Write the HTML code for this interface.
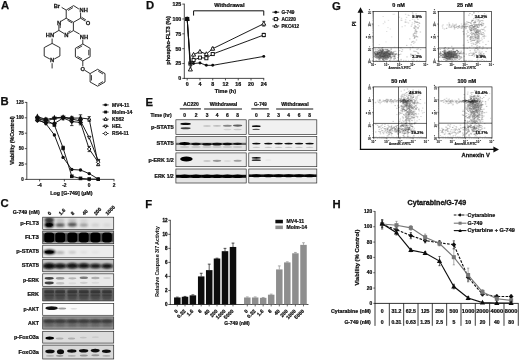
<!DOCTYPE html>
<html><head><meta charset="utf-8"><title>Figure</title>
<style>
html,body{margin:0;padding:0;background:#fff;}
body{width:520px;height:362px;overflow:hidden;font-family:"Liberation Sans",sans-serif;}
svg{display:block;}
svg text{font-family:"Liberation Sans",sans-serif;}
</style></head><body>
<svg width="520" height="362" viewBox="0 0 520 362">
<defs>
<filter id="b1" x="-20%" y="-50%" width="140%" height="200%"><feGaussianBlur stdDeviation="0.7"/></filter>
<filter id="b2" x="-20%" y="-50%" width="140%" height="200%"><feGaussianBlur stdDeviation="1.1"/></filter>
<filter id="b0" x="-20%" y="-50%" width="140%" height="200%"><feGaussianBlur stdDeviation="0.4"/></filter>
<filter id="soft"><feGaussianBlur stdDeviation="0.28"/></filter>
</defs>
<rect width="520" height="362" fill="#fff"/>
<g filter="url(#soft)">
<text x="0.9" y="9.1" font-size="11.3" text-anchor="start" font-weight="bold" fill="#111" stroke="#111" stroke-width="0.250" >A</text>
<text x="0.5" y="105.4" font-size="11.3" text-anchor="start" font-weight="bold" fill="#111" stroke="#111" stroke-width="0.250" >B</text>
<text x="0.6" y="207.3" font-size="11.3" text-anchor="start" font-weight="bold" fill="#111" stroke="#111" stroke-width="0.250" >C</text>
<text x="146.0" y="9.4" font-size="11.3" text-anchor="start" font-weight="bold" fill="#111" stroke="#111" stroke-width="0.250" >D</text>
<text x="145.4" y="105.7" font-size="11.3" text-anchor="start" font-weight="bold" fill="#111" stroke="#111" stroke-width="0.250" >E</text>
<text x="145.2" y="207.85" font-size="11.3" text-anchor="start" font-weight="bold" fill="#111" stroke="#111" stroke-width="0.250" >F</text>
<text x="332.0" y="9.6" font-size="11.3" text-anchor="start" font-weight="bold" fill="#111" stroke="#111" stroke-width="0.250" >G</text>
<text x="332.5" y="208" font-size="11.3" text-anchor="start" font-weight="bold" fill="#111" stroke="#111" stroke-width="0.250" >H</text>
<line x1="66.20" y1="10.10" x2="73.60" y2="5.60" stroke="#1a1a1a" stroke-width="0.9" />
<line x1="73.60" y1="5.60" x2="78.85" y2="8.97" stroke="#1a1a1a" stroke-width="0.9" />
<line x1="80.60" y1="12.53" x2="80.60" y2="18.20" stroke="#1a1a1a" stroke-width="0.9" />
<line x1="80.60" y1="18.20" x2="73.40" y2="22.30" stroke="#1a1a1a" stroke-width="0.9" />
<line x1="73.40" y1="22.30" x2="66.20" y2="18.20" stroke="#1a1a1a" stroke-width="0.9" />
<line x1="66.20" y1="18.20" x2="66.20" y2="10.10" stroke="#1a1a1a" stroke-width="0.9" />
<line x1="68.18" y1="10.47" x2="72.92" y2="7.59" stroke="#1a1a1a" stroke-width="0.85" />
<line x1="72.10" y1="22.91" x2="67.50" y2="20.29" stroke="#1a1a1a" stroke-width="0.85" />
<line x1="66.20" y1="18.20" x2="60.94" y2="21.30" stroke="#1a1a1a" stroke-width="0.9" />
<line x1="58.90" y1="24.87" x2="58.90" y2="30.40" stroke="#1a1a1a" stroke-width="0.9" />
<line x1="58.90" y1="30.40" x2="64.01" y2="33.48" stroke="#1a1a1a" stroke-width="0.9" />
<line x1="68.36" y1="33.54" x2="73.40" y2="30.60" stroke="#1a1a1a" stroke-width="0.9" />
<line x1="73.40" y1="30.60" x2="73.40" y2="22.30" stroke="#1a1a1a" stroke-width="0.9" />
<line x1="60.20" y1="24.88" x2="60.20" y2="28.04" stroke="#1a1a1a" stroke-width="0.85" />
<line x1="67.68" y1="32.43" x2="70.56" y2="30.75" stroke="#1a1a1a" stroke-width="0.85" />
<line x1="80.60" y1="18.20" x2="85.29" y2="21.07" stroke="#1a1a1a" stroke-width="0.9" />
<line x1="81.50" y1="17.20" x2="86.10" y2="20.10" stroke="#1a1a1a" stroke-width="0.85" />
<line x1="66.20" y1="10.10" x2="61.64" y2="7.38" stroke="#1a1a1a" stroke-width="0.9" />
<text x="53.7" y="8.1" font-size="5.8" text-anchor="start" font-weight="bold" fill="#1a1a1a" stroke="#1a1a1a" stroke-width="0.261" >Br</text>
<text x="79.6" y="12.1" font-size="5.8" text-anchor="start" font-weight="bold" fill="#1a1a1a" stroke="#1a1a1a" stroke-width="0.261" >NH</text>
<text x="85.8" y="24.6" font-size="5.8" text-anchor="start" font-weight="bold" fill="#1a1a1a" stroke="#1a1a1a" stroke-width="0.261" >O</text>
<text x="56.9" y="24.8" font-size="5.8" text-anchor="start" font-weight="bold" fill="#1a1a1a" stroke="#1a1a1a" stroke-width="0.261" >N</text>
<text x="64.2" y="37.2" font-size="5.8" text-anchor="start" font-weight="bold" fill="#1a1a1a" stroke="#1a1a1a" stroke-width="0.261" >N</text>
<text x="45.8" y="37.3" font-size="5.8" text-anchor="start" font-weight="bold" fill="#1a1a1a" stroke="#1a1a1a" stroke-width="0.261" >HN</text>
<text x="79.8" y="38.6" font-size="5.8" text-anchor="start" font-weight="bold" fill="#1a1a1a" stroke="#1a1a1a" stroke-width="0.261" >NH</text>
<line x1="58.90" y1="30.40" x2="53.46" y2="33.63" stroke="#1a1a1a" stroke-width="0.9" />
<line x1="73.40" y1="30.60" x2="79.65" y2="34.12" stroke="#1a1a1a" stroke-width="0.9" />
<line x1="52.10" y1="38.60" x2="52.10" y2="43.40" stroke="#1a1a1a" stroke-width="0.9" />
<line x1="52.10" y1="43.40" x2="59.90" y2="47.60" stroke="#1a1a1a" stroke-width="0.9" />
<line x1="59.90" y1="47.60" x2="59.90" y2="56.00" stroke="#1a1a1a" stroke-width="0.9" />
<line x1="59.90" y1="56.00" x2="54.28" y2="59.02" stroke="#1a1a1a" stroke-width="0.9" />
<line x1="49.89" y1="59.02" x2="44.20" y2="56.00" stroke="#1a1a1a" stroke-width="0.9" />
<line x1="44.20" y1="56.00" x2="44.20" y2="47.60" stroke="#1a1a1a" stroke-width="0.9" />
<line x1="44.20" y1="47.60" x2="52.10" y2="43.40" stroke="#1a1a1a" stroke-width="0.9" />
<text x="50.1" y="62.3" font-size="5.8" text-anchor="start" font-weight="bold" fill="#1a1a1a" stroke="#1a1a1a" stroke-width="0.261" >N</text>
<line x1="52.10" y1="63.20" x2="52.10" y2="68.40" stroke="#1a1a1a" stroke-width="0.9" />
<line x1="82.80" y1="39.60" x2="82.80" y2="44.00" stroke="#1a1a1a" stroke-width="0.9" />
<line x1="82.80" y1="44.00" x2="90.10" y2="48.30" stroke="#1a1a1a" stroke-width="0.9" />
<line x1="90.10" y1="48.30" x2="90.10" y2="56.80" stroke="#1a1a1a" stroke-width="0.9" />
<line x1="90.10" y1="56.80" x2="82.80" y2="60.90" stroke="#1a1a1a" stroke-width="0.9" />
<line x1="82.80" y1="60.90" x2="75.40" y2="56.80" stroke="#1a1a1a" stroke-width="0.9" />
<line x1="75.40" y1="56.80" x2="75.40" y2="48.30" stroke="#1a1a1a" stroke-width="0.9" />
<line x1="75.40" y1="48.30" x2="82.80" y2="44.00" stroke="#1a1a1a" stroke-width="0.9" />
<line x1="88.75" y1="49.82" x2="88.75" y2="55.26" stroke="#1a1a1a" stroke-width="0.85" />
<line x1="82.15" y1="59.00" x2="77.41" y2="56.37" stroke="#1a1a1a" stroke-width="0.85" />
<line x1="77.41" y1="48.69" x2="82.15" y2="45.94" stroke="#1a1a1a" stroke-width="0.85" />
<line x1="82.80" y1="60.90" x2="82.80" y2="66.20" stroke="#1a1a1a" stroke-width="0.9" />
<text x="80.6" y="71.0" font-size="5.8" text-anchor="start" font-weight="bold" fill="#1a1a1a" stroke="#1a1a1a" stroke-width="0.261" >O</text>
<line x1="85.00" y1="70.40" x2="90.10" y2="73.60" stroke="#1a1a1a" stroke-width="0.9" />
<line x1="90.10" y1="73.60" x2="97.60" y2="69.30" stroke="#1a1a1a" stroke-width="0.9" />
<line x1="97.60" y1="69.30" x2="105.00" y2="73.60" stroke="#1a1a1a" stroke-width="0.9" />
<line x1="105.00" y1="73.60" x2="105.00" y2="82.00" stroke="#1a1a1a" stroke-width="0.9" />
<line x1="105.00" y1="82.00" x2="97.60" y2="86.20" stroke="#1a1a1a" stroke-width="0.9" />
<line x1="97.60" y1="86.20" x2="90.10" y2="82.00" stroke="#1a1a1a" stroke-width="0.9" />
<line x1="90.10" y1="82.00" x2="90.10" y2="73.60" stroke="#1a1a1a" stroke-width="0.9" />
<line x1="98.25" y1="71.24" x2="102.99" y2="73.99" stroke="#1a1a1a" stroke-width="0.85" />
<line x1="102.98" y1="81.59" x2="98.25" y2="84.28" stroke="#1a1a1a" stroke-width="0.85" />
<line x1="91.45" y1="80.49" x2="91.45" y2="75.11" stroke="#1a1a1a" stroke-width="0.85" />
<line x1="26.80" y1="102.00" x2="26.80" y2="179.80" stroke="#2a2a2a" stroke-width="0.85" />
<line x1="26.40" y1="179.40" x2="114.30" y2="179.40" stroke="#2a2a2a" stroke-width="0.85" />
<line x1="24.80" y1="179.40" x2="26.80" y2="179.40" stroke="#2a2a2a" stroke-width="0.8" />
<text x="23.8" y="181.0" font-size="4.5" text-anchor="end" font-weight="bold" fill="#111" stroke="#111" stroke-width="0.202" >0</text>
<line x1="24.80" y1="164.00" x2="26.80" y2="164.00" stroke="#2a2a2a" stroke-width="0.8" />
<text x="23.8" y="165.6" font-size="4.5" text-anchor="end" font-weight="bold" fill="#111" stroke="#111" stroke-width="0.202" >25</text>
<line x1="24.80" y1="148.60" x2="26.80" y2="148.60" stroke="#2a2a2a" stroke-width="0.8" />
<text x="23.8" y="150.2" font-size="4.5" text-anchor="end" font-weight="bold" fill="#111" stroke="#111" stroke-width="0.202" >50</text>
<line x1="24.80" y1="133.20" x2="26.80" y2="133.20" stroke="#2a2a2a" stroke-width="0.8" />
<text x="23.8" y="134.79999999999998" font-size="4.5" text-anchor="end" font-weight="bold" fill="#111" stroke="#111" stroke-width="0.202" >75</text>
<line x1="24.80" y1="117.80" x2="26.80" y2="117.80" stroke="#2a2a2a" stroke-width="0.8" />
<text x="23.8" y="119.4" font-size="4.5" text-anchor="end" font-weight="bold" fill="#111" stroke="#111" stroke-width="0.202" >100</text>
<line x1="24.80" y1="102.40" x2="26.80" y2="102.40" stroke="#2a2a2a" stroke-width="0.8" />
<text x="23.8" y="104.0" font-size="4.5" text-anchor="end" font-weight="bold" fill="#111" stroke="#111" stroke-width="0.202" >125</text>
<line x1="39.60" y1="179.40" x2="39.60" y2="181.40" stroke="#2a2a2a" stroke-width="0.8" />
<text x="39.6" y="187.3" font-size="4.8" text-anchor="middle" font-weight="bold" fill="#111" stroke="#111" stroke-width="0.216" >-4</text>
<line x1="64.40" y1="179.40" x2="64.40" y2="181.40" stroke="#2a2a2a" stroke-width="0.8" />
<text x="64.4" y="187.3" font-size="4.8" text-anchor="middle" font-weight="bold" fill="#111" stroke="#111" stroke-width="0.216" >-2</text>
<line x1="89.20" y1="179.40" x2="89.20" y2="181.40" stroke="#2a2a2a" stroke-width="0.8" />
<text x="89.2" y="187.3" font-size="4.8" text-anchor="middle" font-weight="bold" fill="#111" stroke="#111" stroke-width="0.216" >0</text>
<line x1="114.00" y1="179.40" x2="114.00" y2="181.40" stroke="#2a2a2a" stroke-width="0.8" />
<text x="114.0" y="187.3" font-size="4.8" text-anchor="middle" font-weight="bold" fill="#111" stroke="#111" stroke-width="0.216" >2</text>
<text x="71.4" y="194.9" font-size="5.3" text-anchor="middle" font-weight="bold" fill="#111" stroke="#111" stroke-width="0.238" >Log [G-749] (μM)</text>
<text x="13.9" y="140.5" font-size="5.3" text-anchor="middle" font-weight="bold" fill="#111" stroke="#111" stroke-width="0.238" transform="rotate(-90 13.9 140.5)" >Viability (%Control)</text>
<polyline points="37.40,116.50 45.90,119.50 54.40,117.80 63.10,117.20 71.80,118.20 80.50,118.00 89.20,119.00 98.20,164.50" stroke="#111" stroke-width="0.95" fill="none" />
<polyline points="37.40,118.50 45.90,121.00 54.40,118.50 63.10,117.50 71.80,119.00 80.50,121.00 89.20,137.50 98.20,160.60" stroke="#111" stroke-width="0.95" fill="none" />
<polyline points="37.40,120.50 45.90,122.50 54.40,123.50 63.10,118.00 71.80,121.50 80.50,122.50 89.20,149.00 98.20,162.20" stroke="#111" stroke-width="0.95" fill="none" />
<polyline points="37.40,119.10 45.90,123.70 54.40,135.00 63.10,157.40 71.80,169.50 80.50,170.00 89.20,173.60 98.20,179.00" stroke="#111" stroke-width="0.95" fill="none" />
<polyline points="37.40,118.30 45.90,119.60 54.40,125.00 63.10,148.00 71.80,176.30 80.50,178.40 89.20,179.00 98.20,179.20" stroke="#111" stroke-width="0.95" fill="none" />
<line x1="71.80" y1="116.40" x2="71.80" y2="125.60" stroke="#111" stroke-width="0.8" />
<line x1="70.10" y1="116.40" x2="73.50" y2="116.40" stroke="#111" stroke-width="0.8" />
<line x1="70.10" y1="125.60" x2="73.50" y2="125.60" stroke="#111" stroke-width="0.8" />
<line x1="80.50" y1="114.80" x2="80.50" y2="124.80" stroke="#111" stroke-width="0.8" />
<line x1="78.80" y1="114.80" x2="82.20" y2="114.80" stroke="#111" stroke-width="0.8" />
<line x1="78.80" y1="124.80" x2="82.20" y2="124.80" stroke="#111" stroke-width="0.8" />
<line x1="45.90" y1="118.10" x2="45.90" y2="122.90" stroke="#111" stroke-width="0.8" />
<line x1="44.40" y1="118.10" x2="47.40" y2="118.10" stroke="#111" stroke-width="0.8" />
<line x1="44.40" y1="122.90" x2="47.40" y2="122.90" stroke="#111" stroke-width="0.8" />
<line x1="54.40" y1="117.70" x2="54.40" y2="123.30" stroke="#111" stroke-width="0.8" />
<line x1="52.90" y1="117.70" x2="55.90" y2="117.70" stroke="#111" stroke-width="0.8" />
<line x1="52.90" y1="123.30" x2="55.90" y2="123.30" stroke="#111" stroke-width="0.8" />
<line x1="89.20" y1="116.60" x2="89.20" y2="121.40" stroke="#111" stroke-width="0.8" />
<line x1="87.60" y1="116.60" x2="90.80" y2="116.60" stroke="#111" stroke-width="0.8" />
<line x1="87.60" y1="121.40" x2="90.80" y2="121.40" stroke="#111" stroke-width="0.8" />
<line x1="89.20" y1="146.40" x2="89.20" y2="151.60" stroke="#111" stroke-width="0.8" />
<line x1="87.60" y1="146.40" x2="90.80" y2="146.40" stroke="#111" stroke-width="0.8" />
<line x1="87.60" y1="151.60" x2="90.80" y2="151.60" stroke="#111" stroke-width="0.8" />
<line x1="98.20" y1="160.60" x2="98.20" y2="165.40" stroke="#111" stroke-width="0.8" />
<line x1="96.70" y1="160.60" x2="99.70" y2="160.60" stroke="#111" stroke-width="0.8" />
<line x1="96.70" y1="165.40" x2="99.70" y2="165.40" stroke="#111" stroke-width="0.8" />
<line x1="63.10" y1="146.20" x2="63.10" y2="149.80" stroke="#111" stroke-width="0.8" />
<line x1="61.70" y1="146.20" x2="64.50" y2="146.20" stroke="#111" stroke-width="0.8" />
<line x1="61.70" y1="149.80" x2="64.50" y2="149.80" stroke="#111" stroke-width="0.8" />
<line x1="37.40" y1="116.60" x2="37.40" y2="121.40" stroke="#111" stroke-width="0.8" />
<line x1="35.90" y1="116.60" x2="38.90" y2="116.60" stroke="#111" stroke-width="0.8" />
<line x1="35.90" y1="121.40" x2="38.90" y2="121.40" stroke="#111" stroke-width="0.8" />
<line x1="63.10" y1="116.20" x2="63.10" y2="119.80" stroke="#111" stroke-width="0.8" />
<line x1="61.60" y1="116.20" x2="64.60" y2="116.20" stroke="#111" stroke-width="0.8" />
<line x1="61.60" y1="119.80" x2="64.60" y2="119.80" stroke="#111" stroke-width="0.8" />
<polygon points="37.40,114.76 38.99,117.66 35.80,117.66" fill="none" stroke="#111" stroke-width="1.15"/>
<polygon points="45.90,117.76 47.49,120.66 44.30,120.66" fill="none" stroke="#111" stroke-width="1.15"/>
<polygon points="54.40,116.06 55.99,118.96 52.80,118.96" fill="none" stroke="#111" stroke-width="1.15"/>
<polygon points="63.10,115.46 64.70,118.36 61.51,118.36" fill="none" stroke="#111" stroke-width="1.15"/>
<polygon points="71.80,116.46 73.39,119.36 70.20,119.36" fill="none" stroke="#111" stroke-width="1.15"/>
<polygon points="80.50,116.26 82.09,119.16 78.91,119.16" fill="none" stroke="#111" stroke-width="1.15"/>
<polygon points="89.20,117.20 90.85,120.20 87.55,120.20" fill="#fff" stroke="#111" stroke-width="1.0"/>
<polygon points="98.20,162.70 99.85,165.70 96.55,165.70" fill="#fff" stroke="#111" stroke-width="1.0"/>
<polygon points="37.40,120.24 38.99,117.34 35.80,117.34" fill="none" stroke="#111" stroke-width="1.15"/>
<polygon points="45.90,122.74 47.49,119.84 44.30,119.84" fill="none" stroke="#111" stroke-width="1.15"/>
<polygon points="54.40,120.24 55.99,117.34 52.80,117.34" fill="none" stroke="#111" stroke-width="1.15"/>
<polygon points="63.10,119.24 64.70,116.34 61.51,116.34" fill="none" stroke="#111" stroke-width="1.15"/>
<polygon points="71.80,120.74 73.39,117.84 70.20,117.84" fill="none" stroke="#111" stroke-width="1.15"/>
<polygon points="80.50,122.74 82.09,119.84 78.91,119.84" fill="none" stroke="#111" stroke-width="1.15"/>
<polygon points="89.20,139.30 90.85,136.30 87.55,136.30" fill="#fff" stroke="#111" stroke-width="1.0"/>
<polygon points="98.20,162.40 99.85,159.40 96.55,159.40" fill="#fff" stroke="#111" stroke-width="1.0"/>
<polygon points="37.40,118.76 39.14,120.50 37.40,122.24 35.66,120.50" fill="none" stroke="#111" stroke-width="1.15"/>
<polygon points="45.90,120.76 47.64,122.50 45.90,124.24 44.16,122.50" fill="none" stroke="#111" stroke-width="1.15"/>
<polygon points="54.40,121.76 56.14,123.50 54.40,125.24 52.66,123.50" fill="none" stroke="#111" stroke-width="1.15"/>
<polygon points="63.10,116.26 64.84,118.00 63.10,119.74 61.36,118.00" fill="none" stroke="#111" stroke-width="1.15"/>
<polygon points="71.80,119.76 73.54,121.50 71.80,123.24 70.06,121.50" fill="none" stroke="#111" stroke-width="1.15"/>
<polygon points="80.50,120.76 82.24,122.50 80.50,124.24 78.76,122.50" fill="none" stroke="#111" stroke-width="1.15"/>
<polygon points="89.20,147.20 91.00,149.00 89.20,150.80 87.40,149.00" fill="#fff" stroke="#111" stroke-width="1.0"/>
<polygon points="98.20,160.40 100.00,162.20 98.20,164.00 96.40,162.20" fill="#fff" stroke="#111" stroke-width="1.0"/>
<circle cx="37.40" cy="119.10" r="1.7" fill="#111"/>
<circle cx="45.90" cy="123.70" r="1.7" fill="#111"/>
<circle cx="54.40" cy="135.00" r="1.7" fill="#111"/>
<circle cx="63.10" cy="157.40" r="1.7" fill="#111"/>
<circle cx="71.80" cy="169.50" r="1.7" fill="#111"/>
<circle cx="80.50" cy="170.00" r="1.7" fill="#111"/>
<circle cx="89.20" cy="173.60" r="1.7" fill="#111"/>
<circle cx="98.20" cy="179.00" r="1.7" fill="#111"/>
<rect x="35.60" y="116.50" width="3.6" height="3.6" fill="#111"/>
<rect x="44.10" y="117.80" width="3.6" height="3.6" fill="#111"/>
<rect x="52.60" y="123.20" width="3.6" height="3.6" fill="#111"/>
<rect x="61.30" y="146.20" width="3.6" height="3.6" fill="#111"/>
<rect x="70.00" y="174.50" width="3.6" height="3.6" fill="#111"/>
<rect x="78.70" y="176.60" width="3.6" height="3.6" fill="#111"/>
<rect x="87.40" y="177.20" width="3.6" height="3.6" fill="#111"/>
<rect x="96.40" y="177.40" width="3.6" height="3.6" fill="#111"/>
<line x1="102.60" y1="104.90" x2="108.60" y2="104.90" stroke="#111" stroke-width="0.9" />
<circle cx="105.60" cy="104.90" r="1.45" fill="#111"/>
<text x="112.1" y="106.65" font-size="5.0" text-anchor="start" font-weight="bold" fill="#111" stroke="#111" stroke-width="0.225" >MV4-11</text>
<line x1="102.60" y1="112.05" x2="108.60" y2="112.05" stroke="#111" stroke-width="0.9" />
<rect x="104.15" y="110.60" width="2.9" height="2.9" fill="#111"/>
<text x="112.1" y="113.80000000000001" font-size="5.0" text-anchor="start" font-weight="bold" fill="#111" stroke="#111" stroke-width="0.225" >Molm-14</text>
<line x1="102.60" y1="119.20" x2="108.60" y2="119.20" stroke="#111" stroke-width="0.9" />
<polygon points="105.60,117.40 107.25,120.40 103.95,120.40" fill="#fff" stroke="#111" stroke-width="1.0"/>
<text x="112.1" y="120.95" font-size="5.0" text-anchor="start" font-weight="bold" fill="#111" stroke="#111" stroke-width="0.225" >K562</text>
<line x1="102.60" y1="126.35" x2="108.60" y2="126.35" stroke="#111" stroke-width="0.9" />
<polygon points="105.60,128.15 107.25,125.15 103.95,125.15" fill="#fff" stroke="#111" stroke-width="1.0"/>
<text x="112.1" y="128.10000000000002" font-size="5.0" text-anchor="start" font-weight="bold" fill="#111" stroke="#111" stroke-width="0.225" >HEL</text>
<line x1="102.60" y1="133.50" x2="108.60" y2="133.50" stroke="#111" stroke-width="0.9" />
<polygon points="105.60,131.70 107.40,133.50 105.60,135.30 103.80,133.50" fill="#fff" stroke="#111" stroke-width="1.0"/>
<text x="112.1" y="135.25" font-size="5.0" text-anchor="start" font-weight="bold" fill="#111" stroke="#111" stroke-width="0.225" >RS4-11</text>
<text x="12.8" y="214.3" font-size="5.0" text-anchor="start" font-weight="bold" fill="#111" stroke="#111" stroke-width="0.225" textLength="26.9" lengthAdjust="spacingAndGlyphs" >G-749 (nM)</text>
<text x="49.7" y="215.4" font-size="5.0" text-anchor="start" font-weight="bold" fill="#111" stroke="#111" stroke-width="0.225" transform="rotate(-45 49.7 215.4)" >0</text>
<text x="60.7" y="215.4" font-size="5.0" text-anchor="start" font-weight="bold" fill="#111" stroke="#111" stroke-width="0.225" transform="rotate(-45 60.7 215.4)" >1.6</text>
<text x="72.8" y="215.4" font-size="5.0" text-anchor="start" font-weight="bold" fill="#111" stroke="#111" stroke-width="0.225" transform="rotate(-45 72.8 215.4)" >8</text>
<text x="84.3" y="215.4" font-size="5.0" text-anchor="start" font-weight="bold" fill="#111" stroke="#111" stroke-width="0.225" transform="rotate(-45 84.3 215.4)" >40</text>
<text x="95.9" y="215.4" font-size="5.0" text-anchor="start" font-weight="bold" fill="#111" stroke="#111" stroke-width="0.225" transform="rotate(-45 95.9 215.4)" >200</text>
<text x="107.5" y="215.4" font-size="5.0" text-anchor="start" font-weight="bold" fill="#111" stroke="#111" stroke-width="0.225" transform="rotate(-45 107.5 215.4)" >1000</text>
<clipPath id="cb1"><rect x="42.7" y="217.2" width="71.0" height="12.300000000000011"/></clipPath>
<rect x="42.7" y="217.2" width="71.0" height="12.300000000000011" fill="#e6e6e6"/>
<g clip-path="url(#cb1)">
<ellipse cx="49.2" cy="224.8" rx="5.0" ry="3.0" fill="#000" opacity="0.9" filter="url(#b2)"/>
<ellipse cx="49.2" cy="224.9" rx="3.6" ry="1.8" fill="#000" opacity="0.8" filter="url(#b1)"/>
<ellipse cx="49.2" cy="220.0" rx="5.0" ry="3.0" fill="#111" opacity="0.8" filter="url(#b2)"/>
<ellipse cx="60.2" cy="225.0" rx="4.6" ry="2.1" fill="#2a2a2a" opacity="0.72" filter="url(#b2)"/>
<ellipse cx="72.3" cy="224.6" rx="4.6" ry="2.2" fill="#2a2a2a" opacity="0.78" filter="url(#b2)"/>
<ellipse cx="83.8" cy="225.0" rx="4.2" ry="1.8" fill="#444" opacity="0.45" filter="url(#b2)"/>
<ellipse cx="95.4" cy="225.0" rx="4.0" ry="1.6" fill="#777" opacity="0.22" filter="url(#b2)"/>
<ellipse cx="107.0" cy="225.0" rx="3.8" ry="1.5" fill="#777" opacity="0.15" filter="url(#b2)"/>
<ellipse cx="60.2" cy="220.3" rx="4.4" ry="1.8" fill="#666" opacity="0.3" filter="url(#b2)"/>
<ellipse cx="72.3" cy="220.3" rx="4.4" ry="1.8" fill="#666" opacity="0.3" filter="url(#b2)"/>
<ellipse cx="83.8" cy="220.5" rx="4.0" ry="1.6" fill="#777" opacity="0.18" filter="url(#b2)"/>
</g>
<rect x="42.7" y="217.2" width="71.0" height="12.300000000000011" fill="none" stroke="#2a2a2a" stroke-width="0.7"/>
<text x="38.9" y="225.15" font-size="5.1" text-anchor="end" font-weight="bold" fill="#111" stroke="#111" stroke-width="0.229" textLength="18.6" lengthAdjust="spacingAndGlyphs" >p-FLT3</text>
<clipPath id="cb2"><rect x="42.7" y="231.0" width="71.0" height="12.699999999999989"/></clipPath>
<rect x="42.7" y="231.0" width="71.0" height="12.699999999999989" fill="#a8a8a8"/>
<g clip-path="url(#cb2)">
<rect x="42.7" y="233.2" width="71.0" height="8.6" fill="#4a4a4a" filter="url(#b1)"/>
<rect x="44.300000000000004" y="232.6" width="9.8" height="9.8" rx="3" fill="#000" filter="url(#b1)"/>
<rect x="55.300000000000004" y="232.6" width="9.8" height="9.8" rx="3" fill="#000" filter="url(#b1)"/>
<rect x="67.39999999999999" y="232.6" width="9.8" height="9.8" rx="3" fill="#000" filter="url(#b1)"/>
<rect x="78.89999999999999" y="232.6" width="9.8" height="9.8" rx="3" fill="#000" filter="url(#b1)"/>
<rect x="90.5" y="232.6" width="9.8" height="9.8" rx="3" fill="#000" filter="url(#b1)"/>
<rect x="102.1" y="232.6" width="9.8" height="9.8" rx="3" fill="#000" filter="url(#b1)"/>
</g>
<rect x="42.7" y="231.0" width="71.0" height="12.699999999999989" fill="none" stroke="#2a2a2a" stroke-width="0.7"/>
<text x="38.9" y="239.15" font-size="5.1" text-anchor="end" font-weight="bold" fill="#111" stroke="#111" stroke-width="0.229" textLength="14.0" lengthAdjust="spacingAndGlyphs" >FLT3</text>
<clipPath id="cb3"><rect x="42.7" y="245.2" width="71.0" height="12.600000000000023"/></clipPath>
<rect x="42.7" y="245.2" width="71.0" height="12.600000000000023" fill="#ececec"/>
<g clip-path="url(#cb3)">
<ellipse cx="49.5" cy="252.0" rx="6.0" ry="2.5" fill="#000" opacity="0.95" filter="url(#b2)"/>
<ellipse cx="49.2" cy="252.0" rx="4.4" ry="1.5" fill="#000" opacity="0.9" filter="url(#b1)"/>
<ellipse cx="60.2" cy="252.6" rx="4.2" ry="1.5" fill="#555" opacity="0.4" filter="url(#b2)"/>
<ellipse cx="72.3" cy="252.2" rx="3.8" ry="1.3" fill="#666" opacity="0.3" filter="url(#b2)"/>
<ellipse cx="83.8" cy="252.2" rx="3.8" ry="1.2" fill="#888" opacity="0.15" filter="url(#b2)"/>
<ellipse cx="95.4" cy="252.2" rx="3.8" ry="1.2" fill="#888" opacity="0.1" filter="url(#b2)"/>
</g>
<rect x="42.7" y="245.2" width="71.0" height="12.600000000000023" fill="none" stroke="#2a2a2a" stroke-width="0.7"/>
<text x="38.9" y="253.3" font-size="5.1" text-anchor="end" font-weight="bold" fill="#111" stroke="#111" stroke-width="0.229" textLength="22.6" lengthAdjust="spacingAndGlyphs" >p-STAT5</text>
<clipPath id="cb4"><rect x="42.7" y="259.4" width="71.0" height="12.400000000000034"/></clipPath>
<rect x="42.7" y="259.4" width="71.0" height="12.400000000000034" fill="#c6c6c6"/>
<g clip-path="url(#cb4)">
<rect x="42.7" y="264.2" width="71.0" height="3.6" fill="#444" opacity="0.55" filter="url(#b2)"/>
<ellipse cx="49.2" cy="266.0" rx="6.2" ry="3.0" fill="#0a0a0a" opacity="1.0" filter="url(#b2)"/>
<ellipse cx="60.2" cy="266.0" rx="5.8" ry="2.6" fill="#0a0a0a" opacity="0.95" filter="url(#b2)"/>
<ellipse cx="72.3" cy="265.8" rx="5.8" ry="2.7" fill="#0a0a0a" opacity="0.95" filter="url(#b2)"/>
<ellipse cx="83.8" cy="265.8" rx="5.6" ry="2.5" fill="#0a0a0a" opacity="0.95" filter="url(#b2)"/>
<ellipse cx="95.4" cy="266.0" rx="5.0" ry="2.2" fill="#0a0a0a" opacity="0.9" filter="url(#b2)"/>
<ellipse cx="107.0" cy="266.1" rx="5.4" ry="2.3" fill="#0a0a0a" opacity="0.95" filter="url(#b2)"/>
</g>
<rect x="42.7" y="259.4" width="71.0" height="12.400000000000034" fill="none" stroke="#2a2a2a" stroke-width="0.7"/>
<text x="38.9" y="267.40000000000003" font-size="5.1" text-anchor="end" font-weight="bold" fill="#111" stroke="#111" stroke-width="0.229" textLength="17.2" lengthAdjust="spacingAndGlyphs" >STAT5</text>
<clipPath id="cb5"><rect x="42.7" y="273.8" width="71.0" height="12.599999999999966"/></clipPath>
<rect x="42.7" y="273.8" width="71.0" height="12.599999999999966" fill="#e9e9e9"/>
<g clip-path="url(#cb5)">
<ellipse cx="49.2" cy="278.3" rx="4.6" ry="1.4" fill="#222" opacity="0.85" filter="url(#b1)"/>
<ellipse cx="49.2" cy="283.0" rx="4.6" ry="1.4" fill="#222" opacity="0.85" filter="url(#b1)"/>
<ellipse cx="60.2" cy="278.3" rx="4.4" ry="1.3" fill="#444" opacity="0.5" filter="url(#b1)"/>
<ellipse cx="60.2" cy="283.2" rx="4.2" ry="1.2" fill="#666" opacity="0.3" filter="url(#b1)"/>
<ellipse cx="72.3" cy="278.3" rx="4.0" ry="1.1" fill="#555" opacity="0.35" filter="url(#b1)"/>
<ellipse cx="72.3" cy="283.2" rx="3.8" ry="1.0" fill="#888" opacity="0.15" filter="url(#b1)"/>
<ellipse cx="83.8" cy="277.8" rx="4.2" ry="1.3" fill="#333" opacity="0.6" filter="url(#b1)"/>
<ellipse cx="83.8" cy="282.8" rx="3.8" ry="1.1" fill="#777" opacity="0.25" filter="url(#b1)"/>
<ellipse cx="95.4" cy="278.0" rx="4.2" ry="1.2" fill="#555" opacity="0.4" filter="url(#b1)"/>
<ellipse cx="95.4" cy="282.8" rx="3.8" ry="1.0" fill="#888" opacity="0.15" filter="url(#b1)"/>
<ellipse cx="107.0" cy="278.0" rx="3.8" ry="1.1" fill="#777" opacity="0.2" filter="url(#b1)"/>
</g>
<rect x="42.7" y="273.8" width="71.0" height="12.599999999999966" fill="none" stroke="#2a2a2a" stroke-width="0.7"/>
<text x="38.9" y="281.90000000000003" font-size="5.1" text-anchor="end" font-weight="bold" fill="#111" stroke="#111" stroke-width="0.229" textLength="15.8" lengthAdjust="spacingAndGlyphs" >p-ERK</text>
<clipPath id="cb6"><rect x="42.7" y="288.0" width="71.0" height="12.899999999999977"/></clipPath>
<rect x="42.7" y="288.0" width="71.0" height="12.899999999999977" fill="#7c7c7c"/>
<g clip-path="url(#cb6)">
<rect x="44.0" y="289.4" width="10.4" height="10.8" rx="2" fill="#4a4a4a" filter="url(#b2)"/>
<rect x="44.400000000000006" y="290.4" width="9.6" height="2.6" fill="#2a2a2a" opacity="0.6" filter="url(#b1)"/>
<rect x="44.400000000000006" y="294.6" width="9.6" height="1.6" fill="#2a2a2a" opacity="0.35" filter="url(#b1)"/>
<rect x="55.0" y="289.4" width="10.4" height="10.8" rx="2" fill="#4a4a4a" filter="url(#b2)"/>
<rect x="55.400000000000006" y="290.4" width="9.6" height="2.6" fill="#2a2a2a" opacity="0.6" filter="url(#b1)"/>
<rect x="55.400000000000006" y="294.6" width="9.6" height="1.6" fill="#2a2a2a" opacity="0.35" filter="url(#b1)"/>
<rect x="67.1" y="289.4" width="10.4" height="10.8" rx="2" fill="#4a4a4a" filter="url(#b2)"/>
<rect x="67.5" y="290.4" width="9.6" height="2.6" fill="#2a2a2a" opacity="0.6" filter="url(#b1)"/>
<rect x="67.5" y="294.6" width="9.6" height="1.6" fill="#2a2a2a" opacity="0.35" filter="url(#b1)"/>
<rect x="78.6" y="289.4" width="10.4" height="10.8" rx="2" fill="#4a4a4a" filter="url(#b2)"/>
<rect x="79.0" y="290.4" width="9.6" height="2.6" fill="#2a2a2a" opacity="0.6" filter="url(#b1)"/>
<rect x="79.0" y="294.6" width="9.6" height="1.6" fill="#2a2a2a" opacity="0.35" filter="url(#b1)"/>
<rect x="90.2" y="289.4" width="10.4" height="10.8" rx="2" fill="#4a4a4a" filter="url(#b2)"/>
<rect x="90.60000000000001" y="290.4" width="9.6" height="2.6" fill="#2a2a2a" opacity="0.6" filter="url(#b1)"/>
<rect x="90.60000000000001" y="294.6" width="9.6" height="1.6" fill="#2a2a2a" opacity="0.35" filter="url(#b1)"/>
<rect x="101.8" y="289.4" width="10.4" height="10.8" rx="2" fill="#4a4a4a" filter="url(#b2)"/>
<rect x="102.2" y="290.4" width="9.6" height="2.6" fill="#2a2a2a" opacity="0.6" filter="url(#b1)"/>
<rect x="102.2" y="294.6" width="9.6" height="1.6" fill="#2a2a2a" opacity="0.35" filter="url(#b1)"/>
</g>
<rect x="42.7" y="288.0" width="71.0" height="12.899999999999977" fill="none" stroke="#2a2a2a" stroke-width="0.7"/>
<text x="38.9" y="296.25" font-size="5.1" text-anchor="end" font-weight="bold" fill="#111" stroke="#111" stroke-width="0.229" textLength="11.4" lengthAdjust="spacingAndGlyphs" >ERK</text>
<clipPath id="cb7"><rect x="42.7" y="303.4" width="71.0" height="11.900000000000034"/></clipPath>
<rect x="42.7" y="303.4" width="71.0" height="11.900000000000034" fill="#fbfbfb"/>
<g clip-path="url(#cb7)">
<ellipse cx="51.6" cy="308.2" rx="6.2" ry="1.9" fill="#222" opacity="1.0" filter="url(#b1)"/>
<ellipse cx="51.6" cy="308.2" rx="5.0" ry="1.1" fill="#111" opacity="0.9" filter="url(#b0)"/>
<ellipse cx="62.2" cy="308.6" rx="4.0" ry="1.0" fill="#555" opacity="0.55" filter="url(#b1)"/>
<ellipse cx="73.8" cy="308.8" rx="3.4" ry="0.8" fill="#888" opacity="0.25" filter="url(#b1)"/>
</g>
<rect x="42.7" y="303.4" width="71.0" height="11.900000000000034" fill="none" stroke="#2a2a2a" stroke-width="0.7"/>
<text x="38.9" y="311.15000000000003" font-size="5.1" text-anchor="end" font-weight="bold" fill="#111" stroke="#111" stroke-width="0.229" textLength="15.4" lengthAdjust="spacingAndGlyphs" >p-AKT</text>
<clipPath id="cb8"><rect x="42.7" y="316.9" width="71.0" height="12.200000000000045"/></clipPath>
<rect x="42.7" y="316.9" width="71.0" height="12.200000000000045" fill="#a8a8a8"/>
<g clip-path="url(#cb8)">
<rect x="42.7" y="319.0" width="71.0" height="4.4" fill="#3a3a3a" opacity="0.7" filter="url(#b2)"/>
<rect x="42.7" y="323.6" width="71.0" height="3.8" fill="#555" opacity="0.55" filter="url(#b2)"/>
<ellipse cx="49.2" cy="321.3" rx="5.3" ry="2.1" fill="#222" opacity="0.6" filter="url(#b2)"/>
<ellipse cx="60.2" cy="321.3" rx="5.3" ry="2.1" fill="#222" opacity="0.6" filter="url(#b2)"/>
<ellipse cx="72.3" cy="321.3" rx="5.3" ry="2.1" fill="#222" opacity="0.6" filter="url(#b2)"/>
<ellipse cx="83.8" cy="321.3" rx="5.3" ry="2.1" fill="#222" opacity="0.6" filter="url(#b2)"/>
<ellipse cx="95.4" cy="321.3" rx="5.3" ry="2.1" fill="#222" opacity="0.6" filter="url(#b2)"/>
<ellipse cx="107.0" cy="321.3" rx="5.3" ry="2.1" fill="#222" opacity="0.6" filter="url(#b2)"/>
<ellipse cx="49.2" cy="325.4" rx="4.8" ry="1.6" fill="#444" opacity="0.4" filter="url(#b2)"/>
<ellipse cx="60.2" cy="325.4" rx="4.8" ry="1.6" fill="#444" opacity="0.4" filter="url(#b2)"/>
<ellipse cx="72.3" cy="325.4" rx="4.8" ry="1.6" fill="#444" opacity="0.4" filter="url(#b2)"/>
<ellipse cx="83.8" cy="325.4" rx="4.8" ry="1.6" fill="#444" opacity="0.4" filter="url(#b2)"/>
<ellipse cx="95.4" cy="325.4" rx="4.8" ry="1.6" fill="#444" opacity="0.4" filter="url(#b2)"/>
<ellipse cx="107.0" cy="325.4" rx="4.8" ry="1.6" fill="#444" opacity="0.4" filter="url(#b2)"/>
</g>
<rect x="42.7" y="316.9" width="71.0" height="12.200000000000045" fill="none" stroke="#2a2a2a" stroke-width="0.7"/>
<text x="38.9" y="324.8" font-size="5.1" text-anchor="end" font-weight="bold" fill="#111" stroke="#111" stroke-width="0.229" textLength="10.8" lengthAdjust="spacingAndGlyphs" >AKT</text>
<clipPath id="cb9"><rect x="42.7" y="331.3" width="71.0" height="11.800000000000011"/></clipPath>
<rect x="42.7" y="331.3" width="71.0" height="11.800000000000011" fill="#dcdcdc"/>
<g clip-path="url(#cb9)">
<ellipse cx="49.7" cy="338.1" rx="4.3" ry="1.6" fill="#000" opacity="1.0" filter="url(#b1)"/>
<ellipse cx="49.7" cy="338.1" rx="3.3" ry="1.0" fill="#000" opacity="1.0" filter="url(#b0)"/>
<ellipse cx="59.7" cy="338.4" rx="3.8" ry="1.0" fill="#666" opacity="0.38" filter="url(#b1)"/>
<ellipse cx="71.5" cy="338.6" rx="3.6" ry="1.0" fill="#666" opacity="0.38" filter="url(#b1)"/>
<ellipse cx="83.3" cy="337.6" rx="3.4" ry="0.9" fill="#777" opacity="0.25" filter="url(#b1)"/>
<ellipse cx="95.4" cy="337.2" rx="3.4" ry="0.9" fill="#888" opacity="0.18" filter="url(#b1)"/>
</g>
<rect x="42.7" y="331.3" width="71.0" height="11.800000000000011" fill="none" stroke="#2a2a2a" stroke-width="0.7"/>
<text x="38.9" y="339.00000000000006" font-size="5.1" text-anchor="end" font-weight="bold" fill="#111" stroke="#111" stroke-width="0.229" textLength="25.0" lengthAdjust="spacingAndGlyphs" >p-FoxO3a</text>
<clipPath id="cb10"><rect x="42.7" y="345.1" width="71.0" height="13.899999999999977"/></clipPath>
<rect x="42.7" y="345.1" width="71.0" height="13.899999999999977" fill="#d8d8d8"/>
<g clip-path="url(#cb10)">
<ellipse cx="50.0" cy="351.4" rx="4.7" ry="1.8" fill="#111" opacity="1.0" filter="url(#b1)"/>
<ellipse cx="60.5" cy="351.8" rx="3.6" ry="2.5" fill="#111" opacity="1.0" filter="url(#b1)"/>
<ellipse cx="71.8" cy="351.0" rx="4.7" ry="1.7" fill="#111" opacity="1.0" filter="url(#b1)"/>
<ellipse cx="83.6" cy="350.8" rx="4.7" ry="1.8" fill="#111" opacity="1.0" filter="url(#b1)"/>
<ellipse cx="95.2" cy="350.6" rx="4.5" ry="1.8" fill="#111" opacity="1.0" filter="url(#b1)"/>
<ellipse cx="106.4" cy="351.2" rx="4.5" ry="1.7" fill="#111" opacity="1.0" filter="url(#b1)"/>
<ellipse cx="50.0" cy="355.8" rx="4.0" ry="0.9" fill="#666" opacity="0.38" filter="url(#b1)"/>
<ellipse cx="59.7" cy="355.8" rx="3.6" ry="1.1" fill="#555" opacity="0.48" filter="url(#b1)"/>
<ellipse cx="71.8" cy="355.8" rx="4.0" ry="0.9" fill="#666" opacity="0.38" filter="url(#b1)"/>
<ellipse cx="83.8" cy="355.4" rx="4.0" ry="1.0" fill="#555" opacity="0.5" filter="url(#b1)"/>
<ellipse cx="95.4" cy="355.2" rx="4.0" ry="1.0" fill="#555" opacity="0.5" filter="url(#b1)"/>
<ellipse cx="106.4" cy="355.8" rx="4.0" ry="0.9" fill="#666" opacity="0.4" filter="url(#b1)"/>
</g>
<rect x="42.7" y="345.1" width="71.0" height="13.899999999999977" fill="none" stroke="#2a2a2a" stroke-width="0.7"/>
<text x="38.9" y="353.85" font-size="5.1" text-anchor="end" font-weight="bold" fill="#111" stroke="#111" stroke-width="0.229" textLength="20.3" lengthAdjust="spacingAndGlyphs" >FoxO3a</text>
<line x1="184.30" y1="3.70" x2="184.30" y2="78.80" stroke="#2a2a2a" stroke-width="0.85" />
<line x1="183.90" y1="78.40" x2="264.16" y2="78.40" stroke="#2a2a2a" stroke-width="0.85" />
<line x1="182.30" y1="78.40" x2="184.30" y2="78.40" stroke="#2a2a2a" stroke-width="0.8" />
<text x="181.3" y="80.30000000000001" font-size="5.3" text-anchor="end" font-weight="bold" fill="#111" stroke="#111" stroke-width="0.238" >0</text>
<line x1="182.30" y1="63.54" x2="184.30" y2="63.54" stroke="#2a2a2a" stroke-width="0.8" />
<text x="181.3" y="65.44000000000001" font-size="5.3" text-anchor="end" font-weight="bold" fill="#111" stroke="#111" stroke-width="0.238" >25</text>
<line x1="182.30" y1="48.68" x2="184.30" y2="48.68" stroke="#2a2a2a" stroke-width="0.8" />
<text x="181.3" y="50.580000000000005" font-size="5.3" text-anchor="end" font-weight="bold" fill="#111" stroke="#111" stroke-width="0.238" >50</text>
<line x1="182.30" y1="33.82" x2="184.30" y2="33.82" stroke="#2a2a2a" stroke-width="0.8" />
<text x="181.3" y="35.72" font-size="5.3" text-anchor="end" font-weight="bold" fill="#111" stroke="#111" stroke-width="0.238" >75</text>
<line x1="182.30" y1="18.96" x2="184.30" y2="18.96" stroke="#2a2a2a" stroke-width="0.8" />
<text x="181.3" y="20.86" font-size="5.3" text-anchor="end" font-weight="bold" fill="#111" stroke="#111" stroke-width="0.238" >100</text>
<line x1="182.30" y1="4.10" x2="184.30" y2="4.10" stroke="#2a2a2a" stroke-width="0.8" />
<text x="181.3" y="5.999999999999995" font-size="5.3" text-anchor="end" font-weight="bold" fill="#111" stroke="#111" stroke-width="0.238" >125</text>
<line x1="187.20" y1="78.40" x2="187.20" y2="80.40" stroke="#2a2a2a" stroke-width="0.8" />
<text x="187.2" y="85.80000000000001" font-size="5.3" text-anchor="middle" font-weight="bold" fill="#111" stroke="#111" stroke-width="0.238" >0</text>
<line x1="199.96" y1="78.40" x2="199.96" y2="80.40" stroke="#2a2a2a" stroke-width="0.8" />
<text x="199.95999999999998" y="85.80000000000001" font-size="5.3" text-anchor="middle" font-weight="bold" fill="#111" stroke="#111" stroke-width="0.238" >4</text>
<line x1="212.72" y1="78.40" x2="212.72" y2="80.40" stroke="#2a2a2a" stroke-width="0.8" />
<text x="212.72" y="85.80000000000001" font-size="5.3" text-anchor="middle" font-weight="bold" fill="#111" stroke="#111" stroke-width="0.238" >8</text>
<line x1="225.48" y1="78.40" x2="225.48" y2="80.40" stroke="#2a2a2a" stroke-width="0.8" />
<text x="225.48" y="85.80000000000001" font-size="5.3" text-anchor="middle" font-weight="bold" fill="#111" stroke="#111" stroke-width="0.238" >12</text>
<line x1="238.24" y1="78.40" x2="238.24" y2="80.40" stroke="#2a2a2a" stroke-width="0.8" />
<text x="238.23999999999998" y="85.80000000000001" font-size="5.3" text-anchor="middle" font-weight="bold" fill="#111" stroke="#111" stroke-width="0.238" >16</text>
<line x1="251.00" y1="78.40" x2="251.00" y2="80.40" stroke="#2a2a2a" stroke-width="0.8" />
<text x="251.0" y="85.80000000000001" font-size="5.3" text-anchor="middle" font-weight="bold" fill="#111" stroke="#111" stroke-width="0.238" >20</text>
<line x1="263.76" y1="78.40" x2="263.76" y2="80.40" stroke="#2a2a2a" stroke-width="0.8" />
<text x="263.76" y="85.80000000000001" font-size="5.3" text-anchor="middle" font-weight="bold" fill="#111" stroke="#111" stroke-width="0.238" >24</text>
<text x="225.4" y="93.0" font-size="5.5" text-anchor="middle" font-weight="bold" fill="#111" stroke="#111" stroke-width="0.247" >Time (h)</text>
<text x="170.3" y="40.4" font-size="5.6" text-anchor="middle" font-weight="bold" fill="#111" stroke="#111" stroke-width="0.252" transform="rotate(-90 170.3 40.4)" >phospho-FLT3 (%)</text>
<text x="229.4" y="6.7" font-size="5.3" text-anchor="middle" font-weight="bold" fill="#111" stroke="#111" stroke-width="0.238" textLength="30.2" lengthAdjust="spacingAndGlyphs" >Withdrawal</text>
<polyline points="193.58,15.60 193.58,10.80 263.76,10.80 263.76,15.60" stroke="#111" stroke-width="1.0" fill="none" />
<polyline points="187.20,18.96 190.39,63.54 193.58,63.54 199.96,62.95 206.34,65.32 212.72,65.32 263.76,56.41" stroke="#111" stroke-width="0.95" fill="none" />
<polyline points="187.20,18.96 190.39,63.54 193.58,59.97 199.96,57.60 206.34,58.19 212.72,54.03 263.76,35.01" stroke="#111" stroke-width="0.95" fill="none" />
<polyline points="187.20,18.96 190.39,69.48 193.58,54.62 199.96,51.65 206.34,54.03 212.72,48.68 263.76,23.72" stroke="#111" stroke-width="0.95" fill="none" />
<line x1="263.76" y1="21.32" x2="263.76" y2="26.12" stroke="#111" stroke-width="0.8" />
<line x1="262.26" y1="21.32" x2="265.26" y2="21.32" stroke="#111" stroke-width="0.8" />
<line x1="262.26" y1="26.12" x2="265.26" y2="26.12" stroke="#111" stroke-width="0.8" />
<line x1="263.76" y1="33.31" x2="263.76" y2="36.71" stroke="#111" stroke-width="0.8" />
<line x1="262.26" y1="33.31" x2="265.26" y2="33.31" stroke="#111" stroke-width="0.8" />
<line x1="262.26" y1="36.71" x2="265.26" y2="36.71" stroke="#111" stroke-width="0.8" />
<line x1="212.72" y1="47.38" x2="212.72" y2="49.98" stroke="#111" stroke-width="0.8" />
<line x1="211.42" y1="47.38" x2="214.02" y2="47.38" stroke="#111" stroke-width="0.8" />
<line x1="211.42" y1="49.98" x2="214.02" y2="49.98" stroke="#111" stroke-width="0.8" />
<polygon points="187.20,16.74 189.23,20.44 185.16,20.44" fill="#fff" stroke="#111" stroke-width="0.95"/>
<polygon points="190.39,67.26 192.42,70.96 188.35,70.96" fill="#fff" stroke="#111" stroke-width="0.95"/>
<polygon points="193.58,52.40 195.61,56.10 191.54,56.10" fill="#fff" stroke="#111" stroke-width="0.95"/>
<polygon points="199.96,49.43 201.99,53.13 197.92,53.13" fill="#fff" stroke="#111" stroke-width="0.95"/>
<polygon points="206.34,51.81 208.37,55.51 204.30,55.51" fill="#fff" stroke="#111" stroke-width="0.95"/>
<polygon points="212.72,46.46 214.75,50.16 210.69,50.16" fill="#fff" stroke="#111" stroke-width="0.95"/>
<polygon points="263.76,21.50 265.80,25.20 261.72,25.20" fill="#fff" stroke="#111" stroke-width="0.95"/>
<rect x="185.65" y="17.41" width="3.1" height="3.1" fill="#fff" stroke="#111" stroke-width="0.95"/>
<rect x="188.84" y="61.99" width="3.1" height="3.1" fill="#fff" stroke="#111" stroke-width="0.95"/>
<rect x="192.03" y="58.42" width="3.1" height="3.1" fill="#fff" stroke="#111" stroke-width="0.95"/>
<rect x="198.41" y="56.05" width="3.1" height="3.1" fill="#fff" stroke="#111" stroke-width="0.95"/>
<rect x="204.79" y="56.64" width="3.1" height="3.1" fill="#fff" stroke="#111" stroke-width="0.95"/>
<rect x="211.17" y="52.48" width="3.1" height="3.1" fill="#fff" stroke="#111" stroke-width="0.95"/>
<rect x="262.21" y="33.46" width="3.1" height="3.1" fill="#fff" stroke="#111" stroke-width="0.95"/>
<circle cx="187.20" cy="18.96" r="1.45" fill="#111"/>
<circle cx="190.39" cy="63.54" r="1.45" fill="#111"/>
<circle cx="193.58" cy="63.54" r="1.45" fill="#111"/>
<circle cx="199.96" cy="62.95" r="1.45" fill="#111"/>
<circle cx="206.34" cy="65.32" r="1.45" fill="#111"/>
<circle cx="212.72" cy="65.32" r="1.45" fill="#111"/>
<circle cx="263.76" cy="56.41" r="1.45" fill="#111"/>
<rect x="185.30" y="17.06" width="3.8" height="3.8" fill="#111"/>
<line x1="272.40" y1="12.20" x2="279.20" y2="12.20" stroke="#111" stroke-width="0.9" />
<circle cx="275.80" cy="12.20" r="1.45" fill="#111"/>
<text x="281.4" y="13.799999999999999" font-size="4.7" text-anchor="start" font-weight="bold" fill="#111" stroke="#111" stroke-width="0.211" >G-749</text>
<line x1="272.40" y1="19.10" x2="279.20" y2="19.10" stroke="#111" stroke-width="0.9" />
<rect x="274.25" y="17.55" width="3.1" height="3.1" fill="#fff" stroke="#111" stroke-width="0.95"/>
<text x="281.4" y="20.700000000000003" font-size="4.7" text-anchor="start" font-weight="bold" fill="#111" stroke="#111" stroke-width="0.211" >AC220</text>
<line x1="272.40" y1="26.00" x2="279.20" y2="26.00" stroke="#111" stroke-width="0.9" />
<polygon points="275.80,24.14 277.50,27.24 274.10,27.24" fill="#fff" stroke="#111" stroke-width="0.95"/>
<text x="281.4" y="27.6" font-size="4.7" text-anchor="start" font-weight="bold" fill="#111" stroke="#111" stroke-width="0.211" >PKC412</text>
<text x="191.0" y="106.4" font-size="5.2" text-anchor="middle" font-weight="bold" fill="#111" stroke="#111" stroke-width="0.234" textLength="15.4" lengthAdjust="spacingAndGlyphs" >AC220</text>
<line x1="179.80" y1="108.90" x2="200.90" y2="108.90" stroke="#111" stroke-width="1.05" />
<text x="223.5" y="106.4" font-size="5.2" text-anchor="middle" font-weight="bold" fill="#111" stroke="#111" stroke-width="0.234" textLength="27.6" lengthAdjust="spacingAndGlyphs" >Withdrawal</text>
<line x1="204.20" y1="108.90" x2="242.00" y2="108.90" stroke="#111" stroke-width="1.05" />
<text x="260.4" y="106.4" font-size="5.2" text-anchor="middle" font-weight="bold" fill="#111" stroke="#111" stroke-width="0.234" textLength="12.6" lengthAdjust="spacingAndGlyphs" >G-749</text>
<line x1="251.30" y1="108.90" x2="268.80" y2="108.90" stroke="#111" stroke-width="1.05" />
<text x="294.9" y="106.4" font-size="5.2" text-anchor="middle" font-weight="bold" fill="#111" stroke="#111" stroke-width="0.234" textLength="27.4" lengthAdjust="spacingAndGlyphs" >Withdrawal</text>
<line x1="276.20" y1="108.90" x2="313.20" y2="108.90" stroke="#111" stroke-width="1.05" />
<text x="150.4" y="117.2" font-size="5.0" text-anchor="start" font-weight="bold" fill="#111" stroke="#111" stroke-width="0.225" textLength="21.2" lengthAdjust="spacingAndGlyphs" >Time (hr)</text>
<text x="184.6" y="117.3" font-size="4.9" text-anchor="middle" font-weight="bold" fill="#111" stroke="#111" stroke-width="0.221" >0</text>
<text x="196.0" y="117.3" font-size="4.9" text-anchor="middle" font-weight="bold" fill="#111" stroke="#111" stroke-width="0.221" >2</text>
<text x="207.0" y="117.3" font-size="4.9" text-anchor="middle" font-weight="bold" fill="#111" stroke="#111" stroke-width="0.221" >3</text>
<text x="217.0" y="117.3" font-size="4.9" text-anchor="middle" font-weight="bold" fill="#111" stroke="#111" stroke-width="0.221" >4</text>
<text x="227.4" y="117.3" font-size="4.9" text-anchor="middle" font-weight="bold" fill="#111" stroke="#111" stroke-width="0.221" >6</text>
<text x="237.6" y="117.3" font-size="4.9" text-anchor="middle" font-weight="bold" fill="#111" stroke="#111" stroke-width="0.221" >8</text>
<text x="256.3" y="117.3" font-size="4.9" text-anchor="middle" font-weight="bold" fill="#111" stroke="#111" stroke-width="0.221" >0</text>
<text x="268.3" y="117.3" font-size="4.9" text-anchor="middle" font-weight="bold" fill="#111" stroke="#111" stroke-width="0.221" >2</text>
<text x="278.6" y="117.3" font-size="4.9" text-anchor="middle" font-weight="bold" fill="#111" stroke="#111" stroke-width="0.221" >3</text>
<text x="288.6" y="117.3" font-size="4.9" text-anchor="middle" font-weight="bold" fill="#111" stroke="#111" stroke-width="0.221" >4</text>
<text x="299.0" y="117.3" font-size="4.9" text-anchor="middle" font-weight="bold" fill="#111" stroke="#111" stroke-width="0.221" >6</text>
<text x="309.6" y="117.3" font-size="4.9" text-anchor="middle" font-weight="bold" fill="#111" stroke="#111" stroke-width="0.221" >8</text>
<text x="173.7" y="128.9" font-size="5.0" text-anchor="end" font-weight="bold" fill="#111" stroke="#111" stroke-width="0.225" textLength="22.6" lengthAdjust="spacingAndGlyphs" >p-STAT5</text>
<text x="173.7" y="145.45" font-size="5.0" text-anchor="end" font-weight="bold" fill="#111" stroke="#111" stroke-width="0.225" textLength="17.3" lengthAdjust="spacingAndGlyphs" >STAT5</text>
<text x="173.7" y="161.60000000000002" font-size="5.0" text-anchor="end" font-weight="bold" fill="#111" stroke="#111" stroke-width="0.225" textLength="25.2" lengthAdjust="spacingAndGlyphs" >p-ERK 1/2</text>
<text x="173.7" y="177.8" font-size="5.0" text-anchor="end" font-weight="bold" fill="#111" stroke="#111" stroke-width="0.225" textLength="19.2" lengthAdjust="spacingAndGlyphs" >ERK 1/2</text>
<clipPath id="ce1"><rect x="175.9" y="119.8" width="70.29999999999998" height="14.600000000000009"/></clipPath>
<rect x="175.9" y="119.8" width="70.29999999999998" height="14.600000000000009" fill="#ececec"/>
<g clip-path="url(#ce1)">
<ellipse cx="185.6" cy="123.9" rx="5.2" ry="1.1" fill="#111" opacity="1.0" filter="url(#b0)"/>
<ellipse cx="185.6" cy="128.3" rx="5.0" ry="1.0" fill="#222" opacity="0.85" filter="url(#b0)"/>
<ellipse cx="207.0" cy="126.0" rx="3.8" ry="0.9" fill="#777" opacity="0.3" filter="url(#b1)"/>
<ellipse cx="217.0" cy="125.8" rx="4.0" ry="0.9" fill="#666" opacity="0.35" filter="url(#b1)"/>
<ellipse cx="227.4" cy="125.8" rx="4.4" ry="1.0" fill="#444" opacity="0.6" filter="url(#b1)"/>
<ellipse cx="237.6" cy="125.6" rx="4.6" ry="1.1" fill="#333" opacity="0.75" filter="url(#b1)"/>
<ellipse cx="227.4" cy="129.5" rx="4.0" ry="0.8" fill="#888" opacity="0.25" filter="url(#b1)"/>
<ellipse cx="237.6" cy="129.5" rx="4.2" ry="0.8" fill="#777" opacity="0.3" filter="url(#b1)"/>
</g>
<rect x="175.9" y="119.8" width="70.29999999999998" height="14.600000000000009" fill="none" stroke="#222" stroke-width="0.65"/>
<clipPath id="ce2"><rect x="175.9" y="136.6" width="70.29999999999998" height="14.099999999999994"/></clipPath>
<rect x="175.9" y="136.6" width="70.29999999999998" height="14.099999999999994" fill="#e3e3e3"/>
<g clip-path="url(#ce2)">
<rect x="175.9" y="142.8" width="70.29999999999998" height="2.2" fill="#333" opacity="0.7" filter="url(#b1)"/>
<ellipse cx="184.6" cy="143.6" rx="5.4" ry="1.6" fill="#000" opacity="1.0" filter="url(#b1)"/>
<ellipse cx="196.0" cy="144.0" rx="4.6" ry="1.3" fill="#111" opacity="0.95" filter="url(#b1)"/>
<ellipse cx="207.0" cy="144.2" rx="4.8" ry="1.3" fill="#111" opacity="1.0" filter="url(#b1)"/>
<ellipse cx="217.0" cy="144.2" rx="4.8" ry="1.4" fill="#111" opacity="1.0" filter="url(#b1)"/>
<ellipse cx="227.4" cy="144.0" rx="4.6" ry="1.3" fill="#111" opacity="1.0" filter="url(#b1)"/>
<ellipse cx="237.6" cy="143.8" rx="4.2" ry="1.1" fill="#111" opacity="0.9" filter="url(#b1)"/>
<ellipse cx="184.6" cy="147.0" rx="4.6" ry="1.0" fill="#888" opacity="0.3" filter="url(#b1)"/>
<ellipse cx="196.0" cy="147.0" rx="4.6" ry="1.0" fill="#888" opacity="0.3" filter="url(#b1)"/>
<ellipse cx="207.0" cy="147.0" rx="4.6" ry="1.0" fill="#888" opacity="0.3" filter="url(#b1)"/>
<ellipse cx="217.0" cy="147.0" rx="4.6" ry="1.0" fill="#888" opacity="0.3" filter="url(#b1)"/>
<ellipse cx="227.4" cy="147.0" rx="4.6" ry="1.0" fill="#888" opacity="0.3" filter="url(#b1)"/>
<ellipse cx="237.6" cy="147.0" rx="4.6" ry="1.0" fill="#888" opacity="0.3" filter="url(#b1)"/>
</g>
<rect x="175.9" y="136.6" width="70.29999999999998" height="14.099999999999994" fill="none" stroke="#222" stroke-width="0.65"/>
<clipPath id="ce3"><rect x="175.9" y="152.9" width="70.29999999999998" height="13.799999999999983"/></clipPath>
<rect x="175.9" y="152.9" width="70.29999999999998" height="13.799999999999983" fill="#ececec"/>
<g clip-path="url(#ce3)">
<ellipse cx="186.4" cy="159.0" rx="6.2" ry="2.6" fill="#000" opacity="1.0" filter="url(#b1)"/>
<ellipse cx="186.4" cy="159.0" rx="5.0" ry="1.7" fill="#000" opacity="1.0" filter="url(#b0)"/>
<ellipse cx="207.0" cy="161.0" rx="3.6" ry="0.9" fill="#777" opacity="0.3" filter="url(#b1)"/>
<ellipse cx="217.0" cy="160.8" rx="4.2" ry="1.1" fill="#555" opacity="0.55" filter="url(#b1)"/>
<ellipse cx="227.4" cy="161.0" rx="3.6" ry="0.8" fill="#888" opacity="0.22" filter="url(#b1)"/>
<ellipse cx="237.6" cy="160.8" rx="4.0" ry="1.0" fill="#555" opacity="0.5" filter="url(#b1)"/>
</g>
<rect x="175.9" y="152.9" width="70.29999999999998" height="13.799999999999983" fill="none" stroke="#222" stroke-width="0.65"/>
<clipPath id="ce4"><rect x="175.9" y="169.0" width="70.29999999999998" height="14.0"/></clipPath>
<rect x="175.9" y="169.0" width="70.29999999999998" height="14.0" fill="#e4e4e4"/>
<g clip-path="url(#ce4)">
<rect x="175.9" y="174.8" width="70.29999999999998" height="3.0" fill="#111" filter="url(#b1)"/>
<ellipse cx="184.6" cy="176.3" rx="5.2" ry="1.8" fill="#000" opacity="1.0" filter="url(#b1)"/>
<ellipse cx="196.0" cy="176.3" rx="5.2" ry="1.8" fill="#000" opacity="1.0" filter="url(#b1)"/>
<ellipse cx="207.0" cy="176.3" rx="5.2" ry="1.8" fill="#000" opacity="1.0" filter="url(#b1)"/>
<ellipse cx="217.0" cy="176.3" rx="5.2" ry="1.8" fill="#000" opacity="1.0" filter="url(#b1)"/>
<ellipse cx="227.4" cy="176.3" rx="5.2" ry="1.8" fill="#000" opacity="1.0" filter="url(#b1)"/>
<ellipse cx="237.6" cy="176.3" rx="5.2" ry="1.8" fill="#000" opacity="1.0" filter="url(#b1)"/>
</g>
<rect x="175.9" y="169.0" width="70.29999999999998" height="14.0" fill="none" stroke="#222" stroke-width="0.65"/>
<clipPath id="ce5"><rect x="248.8" y="119.8" width="68.0" height="14.600000000000009"/></clipPath>
<rect x="248.8" y="119.8" width="68.0" height="14.600000000000009" fill="#f1f1f1"/>
<g clip-path="url(#ce5)">
<ellipse cx="256.3" cy="126.2" rx="4.4" ry="0.9" fill="#111" opacity="1.0" filter="url(#b0)"/>
<ellipse cx="256.1" cy="129.4" rx="3.8" ry="0.7" fill="#333" opacity="0.8" filter="url(#b0)"/>
</g>
<rect x="248.8" y="119.8" width="68.0" height="14.600000000000009" fill="none" stroke="#222" stroke-width="0.65"/>
<clipPath id="ce6"><rect x="248.8" y="136.6" width="68.0" height="14.099999999999994"/></clipPath>
<rect x="248.8" y="136.6" width="68.0" height="14.099999999999994" fill="#efefef"/>
<g clip-path="url(#ce6)">
<ellipse cx="256.3" cy="143.6" rx="4.2" ry="0.9" fill="#111" opacity="1.0" filter="url(#b0)"/>
<ellipse cx="268.3" cy="143.6" rx="4.2" ry="0.9" fill="#111" opacity="1.0" filter="url(#b0)"/>
<ellipse cx="278.6" cy="143.6" rx="4.2" ry="0.9" fill="#111" opacity="1.0" filter="url(#b0)"/>
<ellipse cx="288.6" cy="143.6" rx="4.2" ry="0.9" fill="#111" opacity="1.0" filter="url(#b0)"/>
<ellipse cx="299.0" cy="143.6" rx="4.2" ry="0.9" fill="#111" opacity="1.0" filter="url(#b0)"/>
<ellipse cx="309.6" cy="143.6" rx="4.2" ry="0.9" fill="#111" opacity="1.0" filter="url(#b0)"/>
<ellipse cx="256.3" cy="147.3" rx="3.8" ry="0.6" fill="#777" opacity="0.35" filter="url(#b0)"/>
<ellipse cx="268.3" cy="147.3" rx="3.8" ry="0.6" fill="#777" opacity="0.35" filter="url(#b0)"/>
<ellipse cx="278.6" cy="147.3" rx="3.8" ry="0.6" fill="#777" opacity="0.35" filter="url(#b0)"/>
<ellipse cx="288.6" cy="147.3" rx="3.8" ry="0.6" fill="#777" opacity="0.35" filter="url(#b0)"/>
<ellipse cx="299.0" cy="147.3" rx="3.8" ry="0.6" fill="#777" opacity="0.35" filter="url(#b0)"/>
<ellipse cx="309.6" cy="147.3" rx="3.8" ry="0.6" fill="#777" opacity="0.35" filter="url(#b0)"/>
</g>
<rect x="248.8" y="136.6" width="68.0" height="14.099999999999994" fill="none" stroke="#222" stroke-width="0.65"/>
<clipPath id="ce7"><rect x="248.8" y="152.9" width="68.0" height="13.799999999999983"/></clipPath>
<rect x="248.8" y="152.9" width="68.0" height="13.799999999999983" fill="#f1f1f1"/>
<g clip-path="url(#ce7)">
<ellipse cx="256.3" cy="157.8" rx="4.6" ry="0.9" fill="#111" opacity="1.0" filter="url(#b0)"/>
<ellipse cx="256.3" cy="160.2" rx="4.6" ry="0.9" fill="#222" opacity="0.9" filter="url(#b0)"/>
<ellipse cx="268.3" cy="160.0" rx="3.2" ry="0.6" fill="#999" opacity="0.2" filter="url(#b1)"/>
</g>
<rect x="248.8" y="152.9" width="68.0" height="13.799999999999983" fill="none" stroke="#222" stroke-width="0.65"/>
<clipPath id="ce8"><rect x="248.8" y="169.0" width="68.0" height="14.0"/></clipPath>
<rect x="248.8" y="169.0" width="68.0" height="14.0" fill="#ececec"/>
<g clip-path="url(#ce8)">
<rect x="248.8" y="174.4" width="68.0" height="2.6" fill="#111" filter="url(#b0)"/>
<ellipse cx="256.3" cy="175.7" rx="4.8" ry="1.5" fill="#000" opacity="1.0" filter="url(#b0)"/>
<ellipse cx="268.3" cy="175.7" rx="4.8" ry="1.5" fill="#000" opacity="1.0" filter="url(#b0)"/>
<ellipse cx="278.6" cy="175.7" rx="4.8" ry="1.5" fill="#000" opacity="1.0" filter="url(#b0)"/>
<ellipse cx="288.6" cy="175.7" rx="4.8" ry="1.5" fill="#000" opacity="1.0" filter="url(#b0)"/>
<ellipse cx="299.0" cy="175.7" rx="4.8" ry="1.5" fill="#000" opacity="1.0" filter="url(#b0)"/>
<ellipse cx="309.6" cy="175.7" rx="4.8" ry="1.5" fill="#000" opacity="1.0" filter="url(#b0)"/>
</g>
<rect x="248.8" y="169.0" width="68.0" height="14.0" fill="none" stroke="#222" stroke-width="0.65"/>
<line x1="170.30" y1="219.90" x2="170.30" y2="304.90" stroke="#2a2a2a" stroke-width="0.85" />
<line x1="169.90" y1="304.50" x2="308.50" y2="304.50" stroke="#2a2a2a" stroke-width="0.85" />
<line x1="168.30" y1="304.50" x2="170.30" y2="304.50" stroke="#2a2a2a" stroke-width="0.8" />
<text x="167.5" y="306.1" font-size="4.5" text-anchor="end" font-weight="bold" fill="#111" stroke="#111" stroke-width="0.300" >0</text>
<line x1="168.30" y1="290.47" x2="170.30" y2="290.47" stroke="#2a2a2a" stroke-width="0.8" />
<text x="167.5" y="292.0666666666667" font-size="4.5" text-anchor="end" font-weight="bold" fill="#111" stroke="#111" stroke-width="0.300" >2</text>
<line x1="168.30" y1="276.43" x2="170.30" y2="276.43" stroke="#2a2a2a" stroke-width="0.8" />
<text x="167.5" y="278.03333333333336" font-size="4.5" text-anchor="end" font-weight="bold" fill="#111" stroke="#111" stroke-width="0.300" >4</text>
<line x1="168.30" y1="262.40" x2="170.30" y2="262.40" stroke="#2a2a2a" stroke-width="0.8" />
<text x="167.5" y="264.0" font-size="4.5" text-anchor="end" font-weight="bold" fill="#111" stroke="#111" stroke-width="0.300" >6</text>
<line x1="168.30" y1="248.37" x2="170.30" y2="248.37" stroke="#2a2a2a" stroke-width="0.8" />
<text x="167.5" y="249.96666666666667" font-size="4.5" text-anchor="end" font-weight="bold" fill="#111" stroke="#111" stroke-width="0.300" >8</text>
<line x1="168.30" y1="234.33" x2="170.30" y2="234.33" stroke="#2a2a2a" stroke-width="0.8" />
<text x="167.5" y="235.93333333333334" font-size="4.5" text-anchor="end" font-weight="bold" fill="#111" stroke="#111" stroke-width="0.300" >10</text>
<line x1="168.30" y1="220.30" x2="170.30" y2="220.30" stroke="#2a2a2a" stroke-width="0.8" />
<text x="167.5" y="221.9" font-size="4.5" text-anchor="end" font-weight="bold" fill="#111" stroke="#111" stroke-width="0.300" >12</text>
<text x="159.2" y="261.4" font-size="4.7" text-anchor="middle" font-weight="bold" fill="#111" stroke="#111" stroke-width="0.050" textLength="70.6" lengthAdjust="spacingAndGlyphs" transform="rotate(-90 159.2 261.4)" >Relative Caspase 3/7 Activity</text>
<rect x="174.05" y="297.48" width="6.5" height="7.02" fill="#0a0a0a"/>
<line x1="177.30" y1="297.13" x2="177.30" y2="297.48" stroke="#111" stroke-width="0.7" />
<line x1="175.90" y1="297.13" x2="178.70" y2="297.13" stroke="#111" stroke-width="0.7" />
<rect x="181.75" y="296.78" width="6.5" height="7.72" fill="#0a0a0a"/>
<line x1="185.00" y1="296.43" x2="185.00" y2="296.78" stroke="#111" stroke-width="0.7" />
<line x1="183.60" y1="296.43" x2="186.40" y2="296.43" stroke="#111" stroke-width="0.7" />
<rect x="189.65" y="295.38" width="6.5" height="9.12" fill="#0a0a0a"/>
<line x1="192.90" y1="294.82" x2="192.90" y2="295.38" stroke="#111" stroke-width="0.7" />
<line x1="191.50" y1="294.82" x2="194.30" y2="294.82" stroke="#111" stroke-width="0.7" />
<rect x="197.95" y="276.43" width="6.5" height="28.07" fill="#0a0a0a"/>
<line x1="201.20" y1="273.28" x2="201.20" y2="276.43" stroke="#111" stroke-width="0.7" />
<line x1="199.80" y1="273.28" x2="202.60" y2="273.28" stroke="#111" stroke-width="0.7" />
<rect x="205.95" y="270.12" width="6.5" height="34.38" fill="#0a0a0a"/>
<line x1="209.20" y1="264.15" x2="209.20" y2="270.12" stroke="#111" stroke-width="0.7" />
<line x1="207.80" y1="264.15" x2="210.60" y2="264.15" stroke="#111" stroke-width="0.7" />
<rect x="213.75" y="258.54" width="6.5" height="45.96" fill="#0a0a0a"/>
<line x1="217.00" y1="258.19" x2="217.00" y2="258.54" stroke="#111" stroke-width="0.7" />
<line x1="215.60" y1="258.19" x2="218.40" y2="258.19" stroke="#111" stroke-width="0.7" />
<rect x="221.75" y="251.17" width="6.5" height="53.33" fill="#0a0a0a"/>
<line x1="225.00" y1="248.37" x2="225.00" y2="251.17" stroke="#111" stroke-width="0.7" />
<line x1="223.60" y1="248.37" x2="226.40" y2="248.37" stroke="#111" stroke-width="0.7" />
<rect x="229.75" y="246.96" width="6.5" height="57.54" fill="#0a0a0a"/>
<line x1="233.00" y1="243.10" x2="233.00" y2="246.96" stroke="#111" stroke-width="0.7" />
<line x1="231.60" y1="243.10" x2="234.40" y2="243.10" stroke="#111" stroke-width="0.7" />
<rect x="244.05" y="297.48" width="6.5" height="7.02" fill="#8e8e8e"/>
<line x1="247.30" y1="296.92" x2="247.30" y2="297.48" stroke="#8e8e8e" stroke-width="0.7" />
<line x1="245.90" y1="296.92" x2="248.70" y2="296.92" stroke="#8e8e8e" stroke-width="0.7" />
<rect x="251.95" y="297.48" width="6.5" height="7.02" fill="#8e8e8e"/>
<line x1="255.20" y1="296.92" x2="255.20" y2="297.48" stroke="#8e8e8e" stroke-width="0.7" />
<line x1="253.80" y1="296.92" x2="256.60" y2="296.92" stroke="#8e8e8e" stroke-width="0.7" />
<rect x="259.95" y="297.83" width="6.5" height="6.67" fill="#8e8e8e"/>
<line x1="263.20" y1="297.48" x2="263.20" y2="297.83" stroke="#8e8e8e" stroke-width="0.7" />
<line x1="261.80" y1="297.48" x2="264.60" y2="297.48" stroke="#8e8e8e" stroke-width="0.7" />
<rect x="267.95" y="294.68" width="6.5" height="9.82" fill="#8e8e8e"/>
<line x1="271.20" y1="294.12" x2="271.20" y2="294.68" stroke="#8e8e8e" stroke-width="0.7" />
<line x1="269.80" y1="294.12" x2="272.60" y2="294.12" stroke="#8e8e8e" stroke-width="0.7" />
<rect x="276.05" y="269.42" width="6.5" height="35.08" fill="#8e8e8e"/>
<line x1="279.30" y1="265.91" x2="279.30" y2="269.42" stroke="#8e8e8e" stroke-width="0.7" />
<line x1="277.90" y1="265.91" x2="280.70" y2="265.91" stroke="#8e8e8e" stroke-width="0.7" />
<rect x="284.05" y="262.40" width="6.5" height="42.10" fill="#8e8e8e"/>
<line x1="287.30" y1="261.84" x2="287.30" y2="262.40" stroke="#8e8e8e" stroke-width="0.7" />
<line x1="285.90" y1="261.84" x2="288.70" y2="261.84" stroke="#8e8e8e" stroke-width="0.7" />
<rect x="292.15" y="253.28" width="6.5" height="51.22" fill="#8e8e8e"/>
<line x1="295.40" y1="252.44" x2="295.40" y2="253.28" stroke="#8e8e8e" stroke-width="0.7" />
<line x1="294.00" y1="252.44" x2="296.80" y2="252.44" stroke="#8e8e8e" stroke-width="0.7" />
<rect x="300.25" y="244.86" width="6.5" height="59.64" fill="#8e8e8e"/>
<line x1="303.50" y1="242.75" x2="303.50" y2="244.86" stroke="#8e8e8e" stroke-width="0.7" />
<line x1="302.10" y1="242.75" x2="304.90" y2="242.75" stroke="#8e8e8e" stroke-width="0.7" />
<line x1="177.30" y1="304.50" x2="177.30" y2="306.40" stroke="#2a2a2a" stroke-width="0.7" />
<text x="178.20000000000002" y="311.5" font-size="5.1" text-anchor="end" font-weight="bold" fill="#111" stroke="#111" stroke-width="0.229" transform="rotate(-45 178.20000000000002 311.5)" >0</text>
<line x1="185.00" y1="304.50" x2="185.00" y2="306.40" stroke="#2a2a2a" stroke-width="0.7" />
<text x="185.9" y="311.5" font-size="5.1" text-anchor="end" font-weight="bold" fill="#111" stroke="#111" stroke-width="0.229" transform="rotate(-45 185.9 311.5)" >0.32</text>
<line x1="192.90" y1="304.50" x2="192.90" y2="306.40" stroke="#2a2a2a" stroke-width="0.7" />
<text x="193.8" y="311.5" font-size="5.1" text-anchor="end" font-weight="bold" fill="#111" stroke="#111" stroke-width="0.229" transform="rotate(-45 193.8 311.5)" >1.6</text>
<line x1="201.20" y1="304.50" x2="201.20" y2="306.40" stroke="#2a2a2a" stroke-width="0.7" />
<text x="202.1" y="311.5" font-size="5.1" text-anchor="end" font-weight="bold" fill="#111" stroke="#111" stroke-width="0.229" transform="rotate(-45 202.1 311.5)" >8</text>
<line x1="209.20" y1="304.50" x2="209.20" y2="306.40" stroke="#2a2a2a" stroke-width="0.7" />
<text x="210.1" y="311.5" font-size="5.1" text-anchor="end" font-weight="bold" fill="#111" stroke="#111" stroke-width="0.229" transform="rotate(-45 210.1 311.5)" >40</text>
<line x1="217.00" y1="304.50" x2="217.00" y2="306.40" stroke="#2a2a2a" stroke-width="0.7" />
<text x="217.9" y="311.5" font-size="5.1" text-anchor="end" font-weight="bold" fill="#111" stroke="#111" stroke-width="0.229" transform="rotate(-45 217.9 311.5)" >200</text>
<line x1="225.00" y1="304.50" x2="225.00" y2="306.40" stroke="#2a2a2a" stroke-width="0.7" />
<text x="225.9" y="311.5" font-size="5.1" text-anchor="end" font-weight="bold" fill="#111" stroke="#111" stroke-width="0.229" transform="rotate(-45 225.9 311.5)" >1000</text>
<line x1="233.00" y1="304.50" x2="233.00" y2="306.40" stroke="#2a2a2a" stroke-width="0.7" />
<text x="233.9" y="311.5" font-size="5.1" text-anchor="end" font-weight="bold" fill="#111" stroke="#111" stroke-width="0.229" transform="rotate(-45 233.9 311.5)" >5000</text>
<line x1="247.30" y1="304.50" x2="247.30" y2="306.40" stroke="#2a2a2a" stroke-width="0.7" />
<text x="248.20000000000002" y="311.5" font-size="5.1" text-anchor="end" font-weight="bold" fill="#111" stroke="#111" stroke-width="0.229" transform="rotate(-45 248.20000000000002 311.5)" >0</text>
<line x1="255.20" y1="304.50" x2="255.20" y2="306.40" stroke="#2a2a2a" stroke-width="0.7" />
<text x="256.09999999999997" y="311.5" font-size="5.1" text-anchor="end" font-weight="bold" fill="#111" stroke="#111" stroke-width="0.229" transform="rotate(-45 256.09999999999997 311.5)" >0.32</text>
<line x1="263.20" y1="304.50" x2="263.20" y2="306.40" stroke="#2a2a2a" stroke-width="0.7" />
<text x="264.09999999999997" y="311.5" font-size="5.1" text-anchor="end" font-weight="bold" fill="#111" stroke="#111" stroke-width="0.229" transform="rotate(-45 264.09999999999997 311.5)" >1.6</text>
<line x1="271.20" y1="304.50" x2="271.20" y2="306.40" stroke="#2a2a2a" stroke-width="0.7" />
<text x="272.09999999999997" y="311.5" font-size="5.1" text-anchor="end" font-weight="bold" fill="#111" stroke="#111" stroke-width="0.229" transform="rotate(-45 272.09999999999997 311.5)" >8</text>
<line x1="279.30" y1="304.50" x2="279.30" y2="306.40" stroke="#2a2a2a" stroke-width="0.7" />
<text x="280.2" y="311.5" font-size="5.1" text-anchor="end" font-weight="bold" fill="#111" stroke="#111" stroke-width="0.229" transform="rotate(-45 280.2 311.5)" >40</text>
<line x1="287.30" y1="304.50" x2="287.30" y2="306.40" stroke="#2a2a2a" stroke-width="0.7" />
<text x="288.2" y="311.5" font-size="5.1" text-anchor="end" font-weight="bold" fill="#111" stroke="#111" stroke-width="0.229" transform="rotate(-45 288.2 311.5)" >200</text>
<line x1="295.40" y1="304.50" x2="295.40" y2="306.40" stroke="#2a2a2a" stroke-width="0.7" />
<text x="296.29999999999995" y="311.5" font-size="5.1" text-anchor="end" font-weight="bold" fill="#111" stroke="#111" stroke-width="0.229" transform="rotate(-45 296.29999999999995 311.5)" >1000</text>
<line x1="303.50" y1="304.50" x2="303.50" y2="306.40" stroke="#2a2a2a" stroke-width="0.7" />
<text x="304.4" y="311.5" font-size="5.1" text-anchor="end" font-weight="bold" fill="#111" stroke="#111" stroke-width="0.229" transform="rotate(-45 304.4 311.5)" >5000</text>
<text x="237" y="325.2" font-size="4.9" text-anchor="middle" font-weight="bold" fill="#111" stroke="#111" stroke-width="0.221" >G-749 (nM)</text>
<rect x="275.4" y="219.8" width="7.5" height="3.5" fill="#0a0a0a"/>
<rect x="275.4" y="225.6" width="7.5" height="3.5" fill="#8e8e8e"/>
<text x="286.6" y="223.3" font-size="5.0" text-anchor="start" font-weight="bold" fill="#111" stroke="#111" stroke-width="0.225" textLength="17.6" lengthAdjust="spacingAndGlyphs" >MV4-11</text>
<text x="286.6" y="229.1" font-size="5.0" text-anchor="start" font-weight="bold" fill="#111" stroke="#111" stroke-width="0.225" textLength="20.5" lengthAdjust="spacingAndGlyphs" >Molm-14</text>
<line x1="360.50" y1="11.50" x2="360.50" y2="149.90" stroke="#111" stroke-width="1.25" />
<polygon points="360.5,7.2 363.5,12.8 357.5,12.8" fill="#111"/>
<line x1="359.90" y1="149.40" x2="494.50" y2="149.40" stroke="#111" stroke-width="1.25" />
<polygon points="499.0,149.4 493.4,146.4 493.4,152.4" fill="#111"/>
<text x="355.9" y="23.9" font-size="5.0" text-anchor="middle" font-weight="bold" fill="#111" stroke="#111" stroke-width="0.225" transform="rotate(-90 355.9 23.9)" >PI</text>
<text x="475.7" y="156.7" font-size="6.0" text-anchor="middle" font-weight="bold" fill="#111" stroke="#111" stroke-width="0.270" textLength="28.2" lengthAdjust="spacingAndGlyphs" >Annexin V</text>
<rect x="373.2" y="11.4" width="52.80000000000001" height="49.9" fill="#fff" stroke="#222" stroke-width="0.7"/>
<path d="M377.3 55.4h0.42M388.0 53.5h0.42M376.8 54.5h0.42M385.5 57.0h0.42M377.4 51.8h0.42M386.6 55.6h0.42M390.6 56.8h0.42M382.7 54.0h0.42M395.5 54.0h0.42M379.4 52.1h0.42M383.7 54.9h0.42M381.5 54.5h0.42M384.5 56.1h0.42M388.5 55.1h0.42M374.6 56.1h0.42M376.4 54.2h0.42M376.1 54.6h0.42M379.5 55.1h0.42M399.0 54.5h0.42M387.2 51.7h0.42M381.8 56.1h0.42M382.8 55.4h0.42M383.7 52.4h0.42M385.9 52.8h0.42M392.2 53.5h0.42M386.5 54.6h0.42M387.8 53.3h0.42M388.0 54.3h0.42M389.3 56.0h0.42M383.9 52.9h0.42M386.9 55.6h0.42M391.1 53.8h0.42M385.9 55.7h0.42M384.6 55.1h0.42M384.1 53.3h0.42M378.3 53.7h0.42M386.0 57.9h0.42M387.9 56.9h0.42M386.9 56.1h0.42M384.1 56.3h0.42M391.7 53.9h0.42M379.9 58.9h0.42M384.4 56.7h0.42M387.4 52.1h0.42M394.9 58.5h0.42M384.0 56.3h0.42M383.8 52.7h0.42M382.7 55.4h0.42M388.6 56.2h0.42M383.5 57.6h0.42M379.5 56.3h0.42M388.5 54.0h0.42M374.6 52.6h0.42M384.3 55.8h0.42M390.6 52.4h0.42M383.2 56.0h0.42M382.4 49.4h0.42M387.1 59.7h0.42M388.0 52.6h0.42M381.2 55.1h0.42M395.1 56.0h0.42M383.7 58.0h0.42M382.8 58.7h0.42M379.9 53.6h0.42M386.7 57.7h0.42M386.3 55.3h0.42M374.5 53.0h0.42M380.3 53.4h0.42M386.0 53.9h0.42M387.0 54.8h0.42M381.6 54.9h0.42M385.3 56.5h0.42M380.9 54.1h0.42M376.7 58.1h0.42M390.2 54.2h0.42M380.9 51.9h0.42M384.0 55.1h0.42M393.7 55.1h0.42M379.5 49.2h0.42M390.0 55.0h0.42M375.5 55.0h0.42M388.6 55.9h0.42M382.4 49.9h0.42M382.6 51.2h0.42M386.1 49.9h0.42M378.8 57.3h0.42M391.1 52.0h0.42M375.8 56.5h0.42M387.3 52.4h0.42M379.9 53.1h0.42M377.5 53.1h0.42M389.2 56.1h0.42M393.1 54.4h0.42M382.6 52.4h0.42M382.6 51.7h0.42M374.7 56.1h0.42M390.1 56.4h0.42M389.6 55.2h0.42M379.8 54.8h0.42M381.4 52.2h0.42M375.1 51.3h0.42M383.2 54.9h0.42M380.9 57.7h0.42M384.1 55.9h0.42M389.0 52.8h0.42M373.7 56.3h0.42M379.9 57.5h0.42M384.8 56.8h0.42M386.9 50.0h0.42M386.7 53.1h0.42M379.6 53.6h0.42M386.9 56.5h0.42M388.1 50.9h0.42M380.4 49.4h0.42M382.7 55.9h0.42M379.5 55.1h0.42M384.3 56.8h0.42M379.3 52.8h0.42M379.5 58.5h0.42M388.4 54.3h0.42M384.3 54.9h0.42M384.2 54.1h0.42M381.6 51.8h0.42M380.1 58.2h0.42M385.8 54.7h0.42M382.2 54.7h0.42M384.9 53.2h0.42M384.1 55.1h0.42M379.6 52.9h0.42M378.4 52.3h0.42M387.5 49.4h0.42M381.9 53.3h0.42M380.2 54.8h0.42M388.6 54.8h0.42M382.5 53.3h0.42M382.6 56.6h0.42M381.3 52.1h0.42M377.1 52.2h0.42M376.5 57.0h0.42M384.9 54.1h0.42M390.2 53.2h0.42M386.8 56.4h0.42M375.8 51.2h0.42M378.7 56.6h0.42M389.4 51.9h0.42M388.2 53.8h0.42M381.3 53.4h0.42M381.6 50.6h0.42M378.4 51.9h0.42M385.6 59.2h0.42M396.3 53.9h0.42M374.9 53.7h0.42M378.7 59.0h0.42M385.9 53.0h0.42M387.7 55.8h0.42M375.4 53.4h0.42M382.1 54.6h0.42M383.8 53.9h0.42M384.1 53.3h0.42M378.9 57.9h0.42M384.9 55.6h0.42M375.5 54.2h0.42M387.1 51.8h0.42M388.5 53.7h0.42M385.1 54.3h0.42M384.2 57.2h0.42M381.3 58.0h0.42M379.4 52.6h0.42M386.6 52.3h0.42M381.4 56.6h0.42M389.0 50.7h0.42M385.6 58.7h0.42M388.9 54.1h0.42M380.3 53.9h0.42M377.7 54.0h0.42M382.3 54.3h0.42M388.9 54.1h0.42M376.2 56.9h0.42M378.1 53.6h0.42M382.6 53.8h0.42M378.4 54.1h0.42M393.7 53.3h0.42M382.5 57.1h0.42M386.8 56.3h0.42M387.3 50.3h0.42M379.1 54.9h0.42M385.6 57.4h0.42M385.5 54.1h0.42M383.4 54.1h0.42M384.4 56.1h0.42M381.6 52.8h0.42M379.1 57.0h0.42M389.3 56.8h0.42M387.3 56.4h0.42M383.2 56.1h0.42M378.1 54.2h0.42M379.7 56.2h0.42M380.4 54.4h0.42M385.1 57.6h0.42M379.4 52.5h0.42M387.1 52.2h0.42M385.4 53.3h0.42M382.7 50.6h0.42M386.6 53.5h0.42M378.9 59.2h0.42M385.2 53.8h0.42M383.7 58.1h0.42M383.1 55.6h0.42M385.7 52.6h0.42M383.8 53.5h0.42M377.2 56.5h0.42M386.4 54.8h0.42M378.8 50.2h0.42M385.5 54.4h0.42M375.1 54.5h0.42M375.9 54.5h0.42M383.9 55.4h0.42M384.2 55.0h0.42M377.7 53.8h0.42M380.7 54.1h0.42M384.5 56.0h0.42M391.0 48.9h0.42M385.1 54.2h0.42M394.1 56.7h0.42M375.3 55.5h0.42M380.7 56.8h0.42M378.1 54.4h0.42M382.6 54.4h0.42M380.4 50.6h0.42M385.4 56.8h0.42M382.9 52.4h0.42M384.2 55.8h0.42M382.4 54.6h0.42M390.0 52.1h0.42M380.5 50.4h0.42M379.8 53.0h0.42M378.6 53.1h0.42M391.8 54.2h0.42M382.7 59.4h0.42M382.9 50.8h0.42M385.1 52.5h0.42M391.1 51.9h0.42M380.4 51.1h0.42M383.7 52.4h0.42M382.9 53.8h0.42M380.3 56.7h0.42M387.7 54.7h0.42M378.9 52.2h0.42M384.5 59.9h0.42M381.0 52.9h0.42M379.9 52.2h0.42M378.5 54.1h0.42M390.1 54.6h0.42M380.7 51.0h0.42M384.2 54.5h0.42M377.3 52.2h0.42M383.0 56.8h0.42M386.2 55.1h0.42M381.6 55.3h0.42M383.1 59.4h0.42M377.8 53.8h0.42M389.3 54.0h0.42M390.0 54.5h0.42M383.9 53.8h0.42M376.6 52.5h0.42M393.8 56.0h0.42M386.1 56.7h0.42M385.9 56.8h0.42M381.9 54.1h0.42M387.9 53.8h0.42M376.8 54.1h0.42M380.6 55.9h0.42M379.7 52.3h0.42M381.6 58.0h0.42M383.0 55.0h0.42M383.2 55.3h0.42M387.7 57.7h0.42M375.3 57.6h0.42M383.2 53.9h0.42M394.7 54.2h0.42M392.5 56.7h0.42M378.3 55.7h0.42M386.7 54.3h0.42M382.3 52.2h0.42M392.0 54.1h0.42M381.3 53.9h0.42M379.4 52.9h0.42M383.7 55.3h0.42M380.8 54.4h0.42M376.5 55.7h0.42M379.6 55.1h0.42M378.8 53.5h0.42M384.2 51.9h0.42M395.1 54.5h0.42M382.9 53.0h0.42M390.9 57.6h0.42M384.6 51.6h0.42M380.8 56.0h0.42M380.7 52.0h0.42M377.5 52.9h0.42M383.3 53.2h0.42M383.3 60.7h0.42M391.7 52.3h0.42M384.8 54.8h0.42M382.5 56.9h0.42M381.6 53.9h0.42M381.4 54.4h0.42M389.4 56.3h0.42M376.8 53.6h0.42M379.4 56.4h0.42M384.3 56.6h0.42M382.9 50.4h0.42M385.4 55.1h0.42M385.6 51.7h0.42M383.6 53.1h0.42M379.9 55.4h0.42M384.9 52.6h0.42M375.0 49.2h0.42M380.4 57.1h0.42M382.9 49.6h0.42M379.1 55.5h0.42M391.2 57.2h0.42M385.0 55.0h0.42M378.1 53.6h0.42M381.6 52.9h0.42M383.5 53.7h0.42M384.8 57.8h0.42M386.8 55.5h0.42M382.0 51.3h0.42M382.7 55.8h0.42M378.4 57.4h0.42M381.6 55.4h0.42M381.6 51.8h0.42M393.1 52.0h0.42M387.6 53.4h0.42M384.5 52.8h0.42M381.2 56.6h0.42M392.5 52.7h0.42M383.2 56.7h0.42M380.2 56.2h0.42M379.4 55.9h0.42M385.3 57.3h0.42M384.9 52.0h0.42M386.4 52.2h0.42M386.8 57.9h0.42M386.1 53.4h0.42M388.9 55.0h0.42M377.2 53.8h0.42M390.0 53.9h0.42M383.8 53.8h0.42M375.1 53.5h0.42M384.9 55.1h0.42M382.4 49.9h0.42M389.1 56.2h0.42M388.1 57.5h0.42M381.1 53.3h0.42M384.7 58.3h0.42M375.1 54.1h0.42M379.8 55.8h0.42M390.2 53.9h0.42M377.2 54.7h0.42M381.8 51.2h0.42M387.4 53.4h0.42M386.5 51.7h0.42M388.5 51.4h0.42M388.3 50.6h0.42M389.8 53.8h0.42M375.7 54.1h0.42M384.8 52.4h0.42M380.8 55.2h0.42M382.4 47.9h0.42M381.1 55.5h0.42M384.6 56.8h0.42M379.9 60.2h0.42M387.0 55.3h0.42M388.4 56.7h0.42M383.7 53.2h0.42M388.1 55.5h0.42M374.1 52.2h0.42M385.4 54.8h0.42M384.5 56.0h0.42M383.9 58.1h0.42M380.4 53.7h0.42M384.7 56.2h0.42M387.0 57.9h0.42M380.9 57.2h0.42M385.4 52.3h0.42M382.5 59.2h0.42M387.0 53.6h0.42M379.8 54.8h0.42M394.3 56.2h0.42M384.7 52.5h0.42M377.5 54.1h0.42M381.3 53.2h0.42M388.6 54.8h0.42M377.3 57.4h0.42M381.7 51.7h0.42M384.7 55.7h0.42M381.6 56.1h0.42M387.1 52.7h0.42M382.6 57.3h0.42M388.0 57.7h0.42M392.1 54.6h0.42M388.3 51.2h0.42M386.5 55.5h0.42M382.7 53.6h0.42M377.8 54.9h0.42M389.3 53.8h0.42M385.7 53.1h0.42M384.4 52.4h0.42M385.0 54.1h0.42M384.7 53.3h0.42M377.6 53.9h0.42M388.2 58.1h0.42M381.6 56.4h0.42M386.8 55.5h0.42M375.8 55.3h0.42M378.5 57.2h0.42M387.0 56.0h0.42M386.6 51.8h0.42M387.9 54.8h0.42M382.3 53.0h0.42M378.3 53.6h0.42M398.0 55.0h0.42M384.2 53.2h0.42M380.2 53.4h0.42M378.9 56.5h0.42M381.9 56.5h0.42M377.7 56.6h0.42M383.1 56.1h0.42" stroke="#444" stroke-width="0.42" fill="none" stroke-linecap="square"/>
<path d="M383.3 52.1h0.4M392.5 53.5h0.4M383.0 52.1h0.4M385.4 53.6h0.4M386.0 55.8h0.4M379.2 50.6h0.4M387.0 57.6h0.4M388.9 51.4h0.4M388.2 56.0h0.4M386.0 56.1h0.4M381.7 55.4h0.4M390.5 53.3h0.4M373.9 54.5h0.4M385.4 49.3h0.4M379.3 56.6h0.4M382.9 55.1h0.4M375.2 57.5h0.4M396.3 54.2h0.4M378.9 51.3h0.4M390.2 55.1h0.4M378.4 58.4h0.4M389.4 56.6h0.4M388.4 51.1h0.4M390.5 59.1h0.4M391.2 52.6h0.4M379.0 57.6h0.4M391.0 58.5h0.4M392.4 54.5h0.4M381.1 49.2h0.4M380.8 53.4h0.4M388.5 55.9h0.4M374.4 52.7h0.4M376.3 60.9h0.4M379.0 57.4h0.4M397.4 60.5h0.4M394.0 59.7h0.4M375.4 53.8h0.4M378.9 53.9h0.4M402.3 49.8h0.4M387.9 51.1h0.4M393.4 58.7h0.4M384.5 58.7h0.4M386.2 53.1h0.4M381.3 54.4h0.4M388.3 55.2h0.4M400.5 54.2h0.4M380.7 52.6h0.4M378.6 50.5h0.4M377.1 57.5h0.4M384.4 54.3h0.4M386.5 58.0h0.4M388.3 57.1h0.4M380.1 54.0h0.4M378.6 54.5h0.4M378.3 53.7h0.4M382.8 54.2h0.4M382.1 53.3h0.4M393.2 53.8h0.4M376.9 55.4h0.4M376.4 51.6h0.4M384.6 49.8h0.4M391.2 49.8h0.4M377.7 56.5h0.4M375.6 54.2h0.4M383.0 55.7h0.4M381.7 48.4h0.4M382.9 50.8h0.4M384.1 52.2h0.4M381.8 54.2h0.4M389.4 57.1h0.4M377.0 54.8h0.4M394.2 56.3h0.4M378.9 54.4h0.4M381.6 57.6h0.4M384.2 55.9h0.4M399.5 50.7h0.4M376.9 49.6h0.4M386.0 59.7h0.4M394.1 57.9h0.4M390.2 57.4h0.4M384.2 54.8h0.4M384.2 57.3h0.4M382.9 55.8h0.4M394.2 51.4h0.4M378.7 56.5h0.4M382.2 54.3h0.4M398.7 56.0h0.4M381.1 58.1h0.4M401.6 51.5h0.4M379.3 55.1h0.4M387.7 53.6h0.4M387.4 52.4h0.4M379.8 55.1h0.4M400.7 48.0h0.4M386.9 58.9h0.4M389.2 60.6h0.4M387.2 55.2h0.4M383.1 52.2h0.4M395.4 51.3h0.4M383.1 53.2h0.4M378.5 48.1h0.4M381.3 55.2h0.4M385.0 57.3h0.4M382.9 52.9h0.4M386.2 56.8h0.4M377.7 50.2h0.4M376.8 58.0h0.4M391.0 52.1h0.4M384.8 57.3h0.4M393.3 52.8h0.4M382.3 59.0h0.4M400.9 59.4h0.4M376.0 56.1h0.4M381.9 54.6h0.4M379.4 53.4h0.4M383.9 60.2h0.4M388.9 56.1h0.4M384.2 52.5h0.4M382.4 58.5h0.4M389.8 60.7h0.4M385.8 54.7h0.4M379.6 54.8h0.4M374.5 53.3h0.4M377.5 58.2h0.4M385.7 51.3h0.4M380.6 51.5h0.4M388.1 54.2h0.4M384.8 53.0h0.4M380.0 53.4h0.4M386.8 49.6h0.4M384.7 58.3h0.4M385.7 58.7h0.4M382.1 54.8h0.4M374.9 52.1h0.4M385.7 56.4h0.4M392.1 55.2h0.4M377.1 56.1h0.4M383.0 60.2h0.4M397.7 57.7h0.4M376.0 53.2h0.4M385.3 52.7h0.4M387.7 56.9h0.4M389.9 55.5h0.4M377.8 52.3h0.4M383.1 58.8h0.4M395.0 57.7h0.4M386.5 56.8h0.4M389.8 58.7h0.4M390.0 50.2h0.4M390.7 56.0h0.4M380.8 56.4h0.4M386.0 54.6h0.4M387.9 54.7h0.4M389.0 55.3h0.4M387.0 53.7h0.4M379.4 56.4h0.4M381.5 55.3h0.4M406.8 56.9h0.4M384.9 49.9h0.4M384.7 57.1h0.4" stroke="#777" stroke-width="0.4" fill="none" stroke-linecap="square"/>
<path d="M413.7 27.9h0.4M409.6 38.9h0.4M414.0 35.5h0.4M419.0 22.9h0.4M418.1 27.5h0.4M415.0 26.1h0.4M413.3 41.3h0.4M417.8 17.0h0.4M417.7 19.5h0.4M411.6 42.4h0.4M412.2 41.6h0.4M416.0 35.2h0.4M416.8 36.5h0.4M416.4 32.0h0.4M416.1 36.7h0.4M414.5 37.8h0.4M419.4 23.4h0.4M416.6 22.4h0.4M414.8 31.0h0.4M414.6 21.3h0.4M415.4 29.7h0.4M416.3 33.2h0.4M410.9 44.9h0.4M415.1 21.8h0.4M414.5 32.8h0.4M417.8 22.5h0.4M415.9 13.9h0.4M415.9 26.6h0.4M414.4 36.8h0.4M420.2 32.0h0.4M413.5 43.2h0.4M414.6 28.6h0.4M414.0 33.5h0.4M416.9 27.8h0.4M415.0 27.3h0.4M414.5 37.4h0.4M414.1 28.1h0.4M415.0 22.1h0.4M414.9 16.0h0.4M416.6 31.5h0.4M414.7 42.1h0.4M413.4 35.0h0.4M416.7 22.1h0.4M414.9 36.3h0.4M415.7 30.3h0.4M419.1 26.1h0.4M411.2 26.2h0.4M417.7 24.7h0.4M412.7 14.0h0.4M416.3 40.0h0.4M412.3 12.8h0.4M416.8 22.0h0.4M414.7 26.0h0.4M413.2 34.2h0.4M417.9 28.6h0.4M414.1 38.4h0.4M415.2 33.3h0.4M413.1 36.1h0.4M417.4 37.0h0.4M415.6 31.7h0.4" stroke="#777" stroke-width="0.4" fill="none" stroke-linecap="square"/>
<path d="M411.7 55.5h0.4M417.1 56.3h0.4M412.5 47.2h0.4M413.7 51.2h0.4M411.0 54.4h0.4M417.8 53.6h0.4M418.4 53.6h0.4M410.1 49.7h0.4M412.6 54.7h0.4M417.7 52.5h0.4M418.0 48.8h0.4M413.6 57.9h0.4M415.8 56.1h0.4M406.5 45.4h0.4M410.6 56.0h0.4M420.4 49.6h0.4M410.1 48.0h0.4M410.5 54.2h0.4M412.8 59.4h0.4M416.9 49.3h0.4M414.9 51.4h0.4M417.1 55.6h0.4M412.6 55.5h0.4M416.3 51.7h0.4M415.0 54.7h0.4" stroke="#777" stroke-width="0.4" fill="none" stroke-linecap="square"/>
<path d="M406.4 17.4h0.4M414.3 20.0h0.4M405.1 21.8h0.4M400.8 20.2h0.4M401.3 18.3h0.4M399.2 17.2h0.4M412.4 19.3h0.4M402.0 26.8h0.4M404.9 25.8h0.4M405.4 14.3h0.4M417.1 18.3h0.4M411.8 24.7h0.4M401.6 20.3h0.4M405.2 22.4h0.4M408.0 15.1h0.4M408.3 23.0h0.4M406.6 22.2h0.4M405.4 19.8h0.4M409.7 20.6h0.4M414.3 23.7h0.4M412.2 22.9h0.4M408.8 15.5h0.4" stroke="#999" stroke-width="0.4" fill="none" stroke-linecap="square"/>
<path d="M394.4 47.1h0.35M387.8 27.6h0.35M385.8 41.9h0.35M388.3 20.4h0.35M384.7 22.6h0.35M384.5 21.3h0.35M379.2 44.6h0.35M394.3 14.3h0.35M378.4 25.7h0.35M383.0 16.5h0.35M393.0 14.3h0.35M391.5 36.9h0.35M383.2 23.7h0.35M386.5 31.5h0.35M390.2 29.0h0.35" stroke="#aaa" stroke-width="0.35" fill="none" stroke-linecap="square"/>
<line x1="398.50" y1="11.40" x2="398.50" y2="61.30" stroke="#000" stroke-width="0.6" />
<line x1="373.20" y1="47.70" x2="426.00" y2="47.70" stroke="#000" stroke-width="0.6" />
<text x="398.6" y="7.2" font-size="5.5" text-anchor="middle" font-weight="bold" fill="#111" stroke="#111" stroke-width="0.247" >0 nM</text>
<text x="417.0" y="18.1" font-size="4.35" text-anchor="middle" font-weight="bold" fill="#111" stroke="#111" stroke-width="0.196" >9.9%</text>
<text x="417.0" y="57.8" font-size="4.35" text-anchor="middle" font-weight="bold" fill="#111" stroke="#111" stroke-width="0.196" >3.3%</text>
<line x1="373.50" y1="61.30" x2="373.50" y2="62.70" stroke="#222" stroke-width="0.55" />
<text x="372.6" y="66.2" font-size="2.9" text-anchor="middle" font-weight="bold" fill="#2a2a2a" stroke="#2a2a2a" stroke-width="0.120" >10</text>
<text x="375.4" y="64.8" font-size="2.0" text-anchor="middle" font-weight="bold" fill="#2a2a2a" stroke="#2a2a2a" stroke-width="0.100" >0</text>
<line x1="371.80" y1="61.00" x2="373.20" y2="61.00" stroke="#222" stroke-width="0.55" />
<text x="371.0" y="61.9" font-size="2.9" text-anchor="middle" font-weight="bold" fill="#2a2a2a" stroke="#2a2a2a" stroke-width="0.120" transform="rotate(-90 371.0 61.9)" >10</text>
<text x="369.59999999999997" y="59.1" font-size="2.0" text-anchor="middle" font-weight="bold" fill="#2a2a2a" stroke="#2a2a2a" stroke-width="0.100" transform="rotate(-90 369.59999999999997 59.1)" >0</text>
<line x1="386.55" y1="61.30" x2="386.55" y2="62.70" stroke="#222" stroke-width="0.55" />
<text x="385.65000000000003" y="66.2" font-size="2.9" text-anchor="middle" font-weight="bold" fill="#2a2a2a" stroke="#2a2a2a" stroke-width="0.120" >10</text>
<text x="388.45" y="64.8" font-size="2.0" text-anchor="middle" font-weight="bold" fill="#2a2a2a" stroke="#2a2a2a" stroke-width="0.100" >1</text>
<line x1="371.80" y1="48.67" x2="373.20" y2="48.67" stroke="#222" stroke-width="0.55" />
<text x="371.0" y="49.574999999999996" font-size="2.9" text-anchor="middle" font-weight="bold" fill="#2a2a2a" stroke="#2a2a2a" stroke-width="0.120" transform="rotate(-90 371.0 49.574999999999996)" >10</text>
<text x="369.59999999999997" y="46.775" font-size="2.0" text-anchor="middle" font-weight="bold" fill="#2a2a2a" stroke="#2a2a2a" stroke-width="0.100" transform="rotate(-90 369.59999999999997 46.775)" >1</text>
<line x1="399.60" y1="61.30" x2="399.60" y2="62.70" stroke="#222" stroke-width="0.55" />
<text x="398.70000000000005" y="66.2" font-size="2.9" text-anchor="middle" font-weight="bold" fill="#2a2a2a" stroke="#2a2a2a" stroke-width="0.120" >10</text>
<text x="401.5" y="64.8" font-size="2.0" text-anchor="middle" font-weight="bold" fill="#2a2a2a" stroke="#2a2a2a" stroke-width="0.100" >2</text>
<line x1="371.80" y1="36.35" x2="373.20" y2="36.35" stroke="#222" stroke-width="0.55" />
<text x="371.0" y="37.25" font-size="2.9" text-anchor="middle" font-weight="bold" fill="#2a2a2a" stroke="#2a2a2a" stroke-width="0.120" transform="rotate(-90 371.0 37.25)" >10</text>
<text x="369.59999999999997" y="34.45" font-size="2.0" text-anchor="middle" font-weight="bold" fill="#2a2a2a" stroke="#2a2a2a" stroke-width="0.100" transform="rotate(-90 369.59999999999997 34.45)" >2</text>
<line x1="412.65" y1="61.30" x2="412.65" y2="62.70" stroke="#222" stroke-width="0.55" />
<text x="411.75" y="66.2" font-size="2.9" text-anchor="middle" font-weight="bold" fill="#2a2a2a" stroke="#2a2a2a" stroke-width="0.120" >10</text>
<text x="414.54999999999995" y="64.8" font-size="2.0" text-anchor="middle" font-weight="bold" fill="#2a2a2a" stroke="#2a2a2a" stroke-width="0.100" >3</text>
<line x1="371.80" y1="24.03" x2="373.20" y2="24.03" stroke="#222" stroke-width="0.55" />
<text x="371.0" y="24.925000000000004" font-size="2.9" text-anchor="middle" font-weight="bold" fill="#2a2a2a" stroke="#2a2a2a" stroke-width="0.120" transform="rotate(-90 371.0 24.925000000000004)" >10</text>
<text x="369.59999999999997" y="22.125000000000007" font-size="2.0" text-anchor="middle" font-weight="bold" fill="#2a2a2a" stroke="#2a2a2a" stroke-width="0.100" transform="rotate(-90 369.59999999999997 22.125000000000007)" >3</text>
<line x1="425.70" y1="61.30" x2="425.70" y2="62.70" stroke="#222" stroke-width="0.55" />
<text x="424.8" y="66.2" font-size="2.9" text-anchor="middle" font-weight="bold" fill="#2a2a2a" stroke="#2a2a2a" stroke-width="0.120" >10</text>
<text x="427.59999999999997" y="64.8" font-size="2.0" text-anchor="middle" font-weight="bold" fill="#2a2a2a" stroke="#2a2a2a" stroke-width="0.100" >4</text>
<line x1="371.80" y1="11.70" x2="373.20" y2="11.70" stroke="#222" stroke-width="0.55" />
<text x="371.0" y="12.600000000000003" font-size="2.9" text-anchor="middle" font-weight="bold" fill="#2a2a2a" stroke="#2a2a2a" stroke-width="0.120" transform="rotate(-90 371.0 12.600000000000003)" >10</text>
<text x="369.59999999999997" y="9.800000000000002" font-size="2.0" text-anchor="middle" font-weight="bold" fill="#2a2a2a" stroke="#2a2a2a" stroke-width="0.100" transform="rotate(-90 369.59999999999997 9.800000000000002)" >4</text>
<line x1="377.43" y1="61.30" x2="377.43" y2="62.00" stroke="#333" stroke-width="0.3" />
<line x1="372.50" y1="57.29" x2="373.20" y2="57.29" stroke="#333" stroke-width="0.3" />
<line x1="379.73" y1="61.30" x2="379.73" y2="62.00" stroke="#333" stroke-width="0.3" />
<line x1="372.50" y1="55.12" x2="373.20" y2="55.12" stroke="#333" stroke-width="0.3" />
<line x1="381.36" y1="61.30" x2="381.36" y2="62.00" stroke="#333" stroke-width="0.3" />
<line x1="372.50" y1="53.58" x2="373.20" y2="53.58" stroke="#333" stroke-width="0.3" />
<line x1="382.62" y1="61.30" x2="382.62" y2="62.00" stroke="#333" stroke-width="0.3" />
<line x1="372.50" y1="52.39" x2="373.20" y2="52.39" stroke="#333" stroke-width="0.3" />
<line x1="383.65" y1="61.30" x2="383.65" y2="62.00" stroke="#333" stroke-width="0.3" />
<line x1="372.50" y1="51.41" x2="373.20" y2="51.41" stroke="#333" stroke-width="0.3" />
<line x1="384.53" y1="61.30" x2="384.53" y2="62.00" stroke="#333" stroke-width="0.3" />
<line x1="372.50" y1="50.58" x2="373.20" y2="50.58" stroke="#333" stroke-width="0.3" />
<line x1="385.29" y1="61.30" x2="385.29" y2="62.00" stroke="#333" stroke-width="0.3" />
<line x1="372.50" y1="49.87" x2="373.20" y2="49.87" stroke="#333" stroke-width="0.3" />
<line x1="385.95" y1="61.30" x2="385.95" y2="62.00" stroke="#333" stroke-width="0.3" />
<line x1="372.50" y1="49.24" x2="373.20" y2="49.24" stroke="#333" stroke-width="0.3" />
<line x1="390.48" y1="61.30" x2="390.48" y2="62.00" stroke="#333" stroke-width="0.3" />
<line x1="372.50" y1="44.96" x2="373.20" y2="44.96" stroke="#333" stroke-width="0.3" />
<line x1="392.78" y1="61.30" x2="392.78" y2="62.00" stroke="#333" stroke-width="0.3" />
<line x1="372.50" y1="42.79" x2="373.20" y2="42.79" stroke="#333" stroke-width="0.3" />
<line x1="394.41" y1="61.30" x2="394.41" y2="62.00" stroke="#333" stroke-width="0.3" />
<line x1="372.50" y1="41.25" x2="373.20" y2="41.25" stroke="#333" stroke-width="0.3" />
<line x1="395.67" y1="61.30" x2="395.67" y2="62.00" stroke="#333" stroke-width="0.3" />
<line x1="372.50" y1="40.06" x2="373.20" y2="40.06" stroke="#333" stroke-width="0.3" />
<line x1="396.70" y1="61.30" x2="396.70" y2="62.00" stroke="#333" stroke-width="0.3" />
<line x1="372.50" y1="39.08" x2="373.20" y2="39.08" stroke="#333" stroke-width="0.3" />
<line x1="397.58" y1="61.30" x2="397.58" y2="62.00" stroke="#333" stroke-width="0.3" />
<line x1="372.50" y1="38.26" x2="373.20" y2="38.26" stroke="#333" stroke-width="0.3" />
<line x1="398.34" y1="61.30" x2="398.34" y2="62.00" stroke="#333" stroke-width="0.3" />
<line x1="372.50" y1="37.54" x2="373.20" y2="37.54" stroke="#333" stroke-width="0.3" />
<line x1="399.00" y1="61.30" x2="399.00" y2="62.00" stroke="#333" stroke-width="0.3" />
<line x1="372.50" y1="36.91" x2="373.20" y2="36.91" stroke="#333" stroke-width="0.3" />
<line x1="403.53" y1="61.30" x2="403.53" y2="62.00" stroke="#333" stroke-width="0.3" />
<line x1="372.50" y1="32.64" x2="373.20" y2="32.64" stroke="#333" stroke-width="0.3" />
<line x1="405.83" y1="61.30" x2="405.83" y2="62.00" stroke="#333" stroke-width="0.3" />
<line x1="372.50" y1="30.47" x2="373.20" y2="30.47" stroke="#333" stroke-width="0.3" />
<line x1="407.46" y1="61.30" x2="407.46" y2="62.00" stroke="#333" stroke-width="0.3" />
<line x1="372.50" y1="28.93" x2="373.20" y2="28.93" stroke="#333" stroke-width="0.3" />
<line x1="408.72" y1="61.30" x2="408.72" y2="62.00" stroke="#333" stroke-width="0.3" />
<line x1="372.50" y1="27.74" x2="373.20" y2="27.74" stroke="#333" stroke-width="0.3" />
<line x1="409.75" y1="61.30" x2="409.75" y2="62.00" stroke="#333" stroke-width="0.3" />
<line x1="372.50" y1="26.76" x2="373.20" y2="26.76" stroke="#333" stroke-width="0.3" />
<line x1="410.63" y1="61.30" x2="410.63" y2="62.00" stroke="#333" stroke-width="0.3" />
<line x1="372.50" y1="25.93" x2="373.20" y2="25.93" stroke="#333" stroke-width="0.3" />
<line x1="411.39" y1="61.30" x2="411.39" y2="62.00" stroke="#333" stroke-width="0.3" />
<line x1="372.50" y1="25.22" x2="373.20" y2="25.22" stroke="#333" stroke-width="0.3" />
<line x1="412.05" y1="61.30" x2="412.05" y2="62.00" stroke="#333" stroke-width="0.3" />
<line x1="372.50" y1="24.59" x2="373.20" y2="24.59" stroke="#333" stroke-width="0.3" />
<line x1="416.58" y1="61.30" x2="416.58" y2="62.00" stroke="#333" stroke-width="0.3" />
<line x1="372.50" y1="20.31" x2="373.20" y2="20.31" stroke="#333" stroke-width="0.3" />
<line x1="418.88" y1="61.30" x2="418.88" y2="62.00" stroke="#333" stroke-width="0.3" />
<line x1="372.50" y1="18.14" x2="373.20" y2="18.14" stroke="#333" stroke-width="0.3" />
<line x1="420.51" y1="61.30" x2="420.51" y2="62.00" stroke="#333" stroke-width="0.3" />
<line x1="372.50" y1="16.60" x2="373.20" y2="16.60" stroke="#333" stroke-width="0.3" />
<line x1="421.77" y1="61.30" x2="421.77" y2="62.00" stroke="#333" stroke-width="0.3" />
<line x1="372.50" y1="15.41" x2="373.20" y2="15.41" stroke="#333" stroke-width="0.3" />
<line x1="422.80" y1="61.30" x2="422.80" y2="62.00" stroke="#333" stroke-width="0.3" />
<line x1="372.50" y1="14.43" x2="373.20" y2="14.43" stroke="#333" stroke-width="0.3" />
<line x1="423.68" y1="61.30" x2="423.68" y2="62.00" stroke="#333" stroke-width="0.3" />
<line x1="372.50" y1="13.61" x2="373.20" y2="13.61" stroke="#333" stroke-width="0.3" />
<line x1="424.44" y1="61.30" x2="424.44" y2="62.00" stroke="#333" stroke-width="0.3" />
<line x1="372.50" y1="12.89" x2="373.20" y2="12.89" stroke="#333" stroke-width="0.3" />
<line x1="425.10" y1="61.30" x2="425.10" y2="62.00" stroke="#333" stroke-width="0.3" />
<line x1="372.50" y1="12.26" x2="373.20" y2="12.26" stroke="#333" stroke-width="0.3" />
<text x="399.6" y="68.89999999999999" font-size="3.0" text-anchor="middle" font-weight="bold" fill="#1a1a1a" stroke="#1a1a1a" stroke-width="0.160" textLength="22" lengthAdjust="spacingAndGlyphs" >Annexin-V-FITC</text>
<text x="367.0" y="36.85" font-size="2.4" text-anchor="middle" font-weight="bold" fill="#1a1a1a" stroke="#1a1a1a" stroke-width="0.160" transform="rotate(-90 367.0 36.85)" >PI</text>
<path d="M375.1 60.4h0.4M376.1 60.4h0.4M377.8 60.4h0.4M378.5 60.4h0.4M379.6 60.4h0.4M381.3 60.4h0.4M382.3 60.4h0.4M383.1 60.4h0.4M384.1 60.4h0.4M385.8 60.4h0.4M389.5 60.4h0.4M390.4 60.4h0.4M391.2 60.4h0.4M392.3 60.4h0.4M393.0 60.4h0.4M393.9 60.4h0.4M394.9 60.4h0.4M395.8 60.4h0.4M396.6 60.4h0.4M397.5 60.4h0.4M398.3 60.4h0.4M399.5 60.4h0.4M400.1 60.4h0.4M401.1 60.4h0.4M403.1 60.4h0.4M403.8 60.4h0.4M405.5 60.4h0.4M406.6 60.4h0.4M408.5 60.4h0.4M411.2 60.4h0.4M412.7 60.4h0.4M413.6 60.4h0.4M414.6 60.4h0.4M416.5 60.4h0.4M417.3 60.4h0.4M419.2 60.4h0.4" stroke="#555" stroke-width="0.4" fill="none"/>
<rect x="438.6" y="11.4" width="53.0" height="49.9" fill="#fff" stroke="#222" stroke-width="0.7"/>
<path d="M443.2 57.1h0.42M453.1 51.5h0.42M451.6 54.7h0.42M453.8 54.1h0.42M448.7 53.2h0.42M450.4 54.5h0.42M446.8 54.1h0.42M446.4 56.2h0.42M445.2 51.5h0.42M445.5 57.2h0.42M447.4 56.2h0.42M452.8 53.7h0.42M452.9 55.9h0.42M449.4 53.3h0.42M449.4 52.0h0.42M448.4 53.6h0.42M451.5 55.6h0.42M446.8 56.7h0.42M454.8 55.0h0.42M446.4 55.9h0.42M439.0 53.5h0.42M452.1 59.2h0.42M446.4 58.1h0.42M459.7 58.9h0.42M439.4 57.2h0.42M450.5 57.0h0.42M448.8 53.5h0.42M448.6 58.1h0.42M453.3 54.2h0.42M451.3 56.7h0.42M452.1 54.7h0.42M446.8 53.2h0.42M447.7 53.6h0.42M442.7 51.7h0.42M453.4 52.4h0.42M443.9 54.7h0.42M455.9 57.6h0.42M447.8 52.6h0.42M447.3 52.8h0.42M447.2 55.9h0.42M445.0 53.1h0.42M448.5 54.7h0.42M446.3 53.1h0.42M444.7 53.2h0.42M451.9 54.3h0.42M449.3 52.9h0.42M448.5 48.2h0.42M442.4 57.4h0.42M458.9 59.6h0.42M446.4 54.9h0.42M453.0 52.1h0.42M457.2 53.2h0.42M451.2 52.3h0.42M451.2 54.8h0.42M454.4 52.3h0.42M449.6 58.8h0.42M444.4 55.6h0.42M451.5 53.7h0.42M448.4 57.9h0.42M454.6 56.0h0.42M450.8 52.3h0.42M450.0 58.7h0.42M454.2 51.8h0.42M440.5 53.3h0.42M450.3 53.6h0.42M448.3 55.6h0.42M453.5 55.3h0.42M455.1 51.7h0.42M451.7 55.7h0.42M443.1 57.6h0.42M442.6 51.6h0.42M461.4 57.7h0.42M451.3 57.8h0.42M454.7 52.3h0.42M451.7 57.9h0.42M448.9 55.0h0.42M447.6 56.4h0.42M447.2 53.5h0.42M444.2 52.8h0.42M450.6 55.8h0.42M447.9 52.5h0.42M451.1 55.6h0.42M455.2 53.7h0.42M447.8 55.9h0.42M456.3 54.7h0.42M449.2 52.7h0.42M447.9 56.9h0.42M453.4 57.3h0.42M442.3 56.7h0.42M445.5 56.1h0.42M439.1 54.6h0.42M445.7 57.6h0.42M450.1 57.7h0.42M447.7 59.2h0.42M447.6 59.0h0.42M447.4 52.6h0.42M453.6 53.9h0.42M449.3 51.8h0.42M448.1 55.1h0.42M446.5 55.7h0.42M439.4 56.8h0.42M447.8 58.1h0.42M448.0 53.3h0.42M447.6 55.4h0.42M452.3 53.8h0.42M446.1 55.8h0.42M453.3 50.9h0.42M444.9 53.3h0.42M457.2 57.5h0.42M453.2 55.9h0.42M444.6 57.3h0.42M447.6 53.0h0.42M458.2 51.6h0.42M455.8 55.3h0.42M445.5 55.2h0.42M445.9 55.2h0.42M446.7 52.2h0.42M461.4 53.7h0.42M454.0 54.7h0.42M452.6 52.0h0.42M445.0 47.5h0.42M454.1 55.8h0.42M444.4 56.7h0.42M450.7 56.8h0.42M452.3 56.5h0.42M449.5 53.9h0.42M452.8 57.6h0.42M444.4 52.3h0.42M449.4 58.8h0.42M448.7 51.0h0.42M453.2 56.5h0.42M458.3 55.2h0.42M458.4 53.2h0.42M453.6 55.1h0.42M444.3 54.2h0.42M455.5 57.3h0.42M447.9 57.3h0.42M453.6 56.8h0.42M450.9 55.5h0.42M445.9 54.7h0.42M450.2 53.2h0.42M448.3 55.2h0.42M450.6 57.2h0.42M445.0 53.9h0.42M450.8 54.0h0.42M451.1 53.8h0.42M454.9 54.3h0.42M444.6 56.5h0.42M457.0 50.5h0.42M449.0 55.0h0.42M454.2 58.1h0.42M448.9 51.3h0.42M452.6 57.1h0.42M451.7 55.0h0.42M446.0 60.2h0.42M444.3 51.5h0.42M454.0 55.5h0.42M452.6 55.6h0.42M457.1 58.0h0.42M447.2 57.0h0.42M444.4 51.0h0.42M455.0 53.9h0.42M440.1 54.8h0.42M446.7 55.9h0.42M449.4 53.1h0.42M446.5 56.5h0.42M445.5 55.1h0.42M445.2 55.8h0.42M457.6 56.1h0.42M454.6 55.8h0.42M445.4 54.1h0.42M449.9 55.8h0.42M446.9 56.2h0.42M446.4 55.0h0.42M449.6 52.3h0.42M454.1 54.9h0.42M450.1 54.7h0.42M440.3 51.7h0.42M445.7 57.0h0.42M447.1 56.2h0.42M445.1 52.9h0.42M447.5 57.2h0.42M442.3 54.4h0.42M451.4 55.1h0.42M449.6 56.5h0.42M450.9 52.6h0.42M452.4 53.1h0.42M448.1 58.0h0.42M460.5 58.0h0.42M451.5 53.1h0.42M446.3 58.5h0.42M451.1 51.7h0.42M456.6 56.1h0.42M455.5 55.7h0.42M440.1 53.2h0.42M449.0 54.4h0.42M456.3 53.3h0.42M449.2 54.7h0.42M449.2 52.5h0.42M444.2 49.1h0.42M451.1 54.4h0.42M450.5 52.5h0.42M449.6 52.7h0.42M445.1 55.6h0.42M452.4 56.1h0.42M449.4 54.0h0.42M455.8 57.6h0.42M446.8 52.4h0.42M451.3 55.5h0.42M445.6 59.9h0.42M440.4 53.0h0.42M450.7 57.0h0.42M441.4 53.8h0.42M456.0 57.9h0.42M448.5 54.9h0.42M445.7 55.7h0.42M445.0 50.3h0.42M442.9 54.9h0.42M443.8 57.3h0.42M455.3 57.0h0.42M452.5 57.3h0.42M450.8 56.7h0.42M451.7 56.5h0.42M445.1 53.4h0.42M445.2 56.7h0.42M451.9 53.1h0.42M445.2 53.5h0.42M453.5 54.6h0.42M448.6 53.3h0.42M449.1 58.4h0.42M446.6 54.0h0.42M457.2 56.4h0.42M444.6 57.2h0.42M444.0 56.1h0.42M453.7 53.5h0.42M446.4 54.9h0.42M449.6 53.8h0.42M446.6 58.8h0.42M456.2 55.5h0.42M444.5 53.6h0.42M448.3 55.9h0.42M456.7 53.7h0.42M450.3 53.9h0.42M450.3 53.3h0.42M451.3 57.4h0.42M447.9 54.1h0.42M450.1 51.9h0.42M457.7 51.8h0.42M448.0 52.9h0.42M456.3 53.7h0.42M447.4 59.0h0.42M449.1 53.1h0.42M449.6 55.2h0.42M446.3 54.4h0.42M448.7 56.4h0.42M453.0 56.7h0.42M449.1 56.6h0.42M448.7 57.4h0.42M451.4 53.9h0.42M455.1 51.5h0.42M445.3 53.1h0.42M449.1 52.1h0.42M444.3 50.6h0.42M450.1 53.1h0.42M459.3 56.5h0.42M444.6 57.7h0.42M450.1 57.2h0.42M444.7 57.4h0.42M454.5 53.9h0.42M445.9 54.0h0.42M450.8 60.1h0.42M457.6 58.1h0.42M448.7 54.1h0.42M451.3 54.2h0.42M447.6 54.4h0.42M453.4 54.7h0.42M450.7 54.2h0.42M448.8 54.1h0.42M455.2 55.3h0.42M456.3 54.4h0.42M454.3 51.8h0.42M447.9 54.7h0.42M446.8 54.6h0.42M445.5 54.5h0.42M446.7 54.8h0.42M448.3 52.6h0.42M447.8 54.9h0.42M444.0 55.0h0.42M455.2 54.3h0.42M452.1 56.2h0.42M446.1 57.7h0.42M460.7 52.5h0.42M459.1 53.2h0.42M456.1 50.8h0.42M454.7 55.1h0.42M444.0 53.0h0.42M445.0 52.8h0.42M451.3 54.4h0.42M451.7 55.0h0.42M457.1 50.8h0.42M450.7 54.9h0.42M452.8 51.9h0.42M443.8 54.4h0.42M450.0 50.8h0.42M451.3 54.8h0.42M452.9 49.0h0.42M451.9 52.9h0.42M447.5 56.5h0.42M457.1 55.2h0.42M449.2 57.7h0.42M445.7 54.5h0.42M447.4 52.6h0.42M450.5 59.3h0.42M450.7 55.9h0.42M449.5 57.3h0.42M450.4 52.9h0.42M450.1 58.0h0.42M449.3 57.5h0.42M449.3 59.3h0.42M450.9 56.3h0.42M448.3 56.7h0.42M448.6 51.5h0.42M451.0 52.1h0.42M456.2 56.6h0.42M449.7 56.3h0.42M446.8 56.3h0.42M461.0 51.2h0.42M447.8 55.6h0.42M451.5 51.1h0.42M445.5 58.1h0.42M447.0 56.0h0.42M443.6 52.8h0.42M441.6 55.4h0.42M454.8 55.0h0.42M448.4 55.4h0.42M451.7 54.2h0.42M452.1 59.1h0.42M459.5 53.5h0.42M444.0 59.1h0.42M454.0 57.5h0.42M452.3 54.3h0.42M454.0 57.3h0.42M454.8 52.4h0.42M454.2 54.0h0.42M448.1 55.6h0.42M448.1 59.9h0.42M452.1 55.4h0.42M448.8 55.4h0.42M448.6 56.1h0.42M453.5 56.7h0.42M444.1 54.1h0.42M450.0 52.1h0.42M451.3 54.5h0.42M449.9 55.7h0.42M446.9 58.3h0.42M454.2 53.6h0.42M451.7 56.5h0.42M446.3 54.0h0.42M452.7 49.1h0.42M443.8 55.5h0.42" stroke="#444" stroke-width="0.42" fill="none" stroke-linecap="square"/>
<path d="M454.9 52.2h0.4M452.0 54.9h0.4M451.1 52.0h0.4M454.5 55.6h0.4M455.8 59.3h0.4M450.8 55.6h0.4M452.9 60.3h0.4M440.3 55.0h0.4M446.2 55.4h0.4M456.4 55.2h0.4M455.8 55.6h0.4M445.6 53.0h0.4M440.9 55.7h0.4M447.8 57.6h0.4M457.4 52.4h0.4M442.9 56.9h0.4M444.4 55.7h0.4M454.9 53.9h0.4M463.1 52.7h0.4M453.6 53.8h0.4M449.5 56.8h0.4M449.6 52.8h0.4M447.0 54.1h0.4M455.9 54.2h0.4M459.3 57.6h0.4M445.4 58.1h0.4M443.7 54.7h0.4M458.7 55.0h0.4M449.4 58.9h0.4M445.2 52.5h0.4M457.4 56.9h0.4M440.5 55.5h0.4M456.1 54.5h0.4M447.7 55.4h0.4M452.1 52.9h0.4M456.5 50.3h0.4M443.1 54.9h0.4M442.5 55.2h0.4M447.1 60.6h0.4M444.1 54.9h0.4M452.1 57.0h0.4M456.9 50.3h0.4M466.0 54.1h0.4M445.5 50.1h0.4M447.5 49.7h0.4M451.9 53.2h0.4M452.9 52.7h0.4M458.8 55.5h0.4M443.6 59.4h0.4M459.7 53.2h0.4M460.0 56.8h0.4M465.9 60.4h0.4M454.7 53.1h0.4M454.7 59.2h0.4M451.5 46.3h0.4M447.9 53.9h0.4M450.1 54.0h0.4M458.6 51.2h0.4M453.6 49.0h0.4M445.3 52.3h0.4M445.6 56.9h0.4M454.6 55.3h0.4M451.9 52.9h0.4M443.6 50.7h0.4M447.6 51.6h0.4M448.2 57.2h0.4M454.4 59.0h0.4M444.0 48.4h0.4M455.4 53.7h0.4M459.8 53.8h0.4M462.2 53.8h0.4M447.7 57.1h0.4M442.5 54.5h0.4M464.1 56.3h0.4M442.8 54.2h0.4M450.3 52.7h0.4M453.4 58.8h0.4M450.8 57.7h0.4M452.6 55.4h0.4M445.2 57.9h0.4M460.0 53.6h0.4M444.4 56.6h0.4M451.2 58.4h0.4M454.0 54.6h0.4M440.8 56.9h0.4M451.2 51.2h0.4M440.1 49.5h0.4M454.9 53.7h0.4M446.0 54.7h0.4M450.7 54.0h0.4M455.7 58.1h0.4M448.9 59.7h0.4M449.6 52.4h0.4M451.6 50.7h0.4M448.4 51.8h0.4M447.5 55.6h0.4M452.3 54.3h0.4M455.5 56.0h0.4M447.9 52.0h0.4M455.6 57.3h0.4M440.1 52.8h0.4M442.2 57.5h0.4M446.5 51.2h0.4M461.1 56.4h0.4M452.1 55.7h0.4M449.2 55.1h0.4M456.8 56.3h0.4M447.3 55.3h0.4M463.6 53.3h0.4M441.2 55.3h0.4" stroke="#777" stroke-width="0.4" fill="none" stroke-linecap="square"/>
<path d="M470.0 50.7h0.4M478.5 35.4h0.4M477.2 45.8h0.4M470.6 30.6h0.4M467.4 40.3h0.4M475.1 44.3h0.4M474.1 23.1h0.4M472.1 37.0h0.4M471.5 32.9h0.4M472.0 25.6h0.4M472.8 43.2h0.4M470.3 33.4h0.4M479.3 25.3h0.4M468.2 42.3h0.4M483.8 29.1h0.4M469.7 37.5h0.4M475.3 24.7h0.4M473.6 12.9h0.4M471.5 21.7h0.4M469.1 35.3h0.4M476.7 43.7h0.4M462.5 25.9h0.4M471.4 40.9h0.4M480.5 31.8h0.4M475.9 25.2h0.4M472.9 27.5h0.4M463.2 45.2h0.4M479.0 46.6h0.4M481.4 34.6h0.4M479.5 18.1h0.4M470.5 37.3h0.4M473.6 18.7h0.4M475.4 21.1h0.4M475.4 42.7h0.4M469.9 27.5h0.4M478.1 30.7h0.4M476.3 24.5h0.4M473.8 12.8h0.4M474.5 40.6h0.4M470.0 29.4h0.4M478.8 40.1h0.4M481.1 24.1h0.4M473.4 44.2h0.4M473.1 33.0h0.4M471.3 25.9h0.4M461.0 26.7h0.4M464.7 23.1h0.4M470.6 41.1h0.4M479.1 33.9h0.4M472.9 20.3h0.4M477.7 24.5h0.4M474.8 38.0h0.4M474.5 30.6h0.4M470.5 38.8h0.4M478.0 36.2h0.4M483.3 18.5h0.4M475.5 35.7h0.4M477.0 33.1h0.4M477.7 19.2h0.4M475.0 39.7h0.4M475.1 29.3h0.4M479.5 17.5h0.4M477.3 42.3h0.4M474.1 24.5h0.4M477.9 27.4h0.4M471.4 32.1h0.4M467.3 35.9h0.4M469.5 26.6h0.4M478.9 30.6h0.4M476.6 41.3h0.4M482.8 46.7h0.4M472.7 37.8h0.4M467.3 36.9h0.4M481.7 25.3h0.4M477.6 37.2h0.4M474.6 26.0h0.4M482.7 20.8h0.4M476.2 38.1h0.4M476.5 42.8h0.4M482.6 34.4h0.4M484.0 36.5h0.4M469.4 28.3h0.4M476.7 32.3h0.4M467.1 48.3h0.4M467.8 22.2h0.4M477.6 32.3h0.4M482.9 32.5h0.4M477.2 36.4h0.4M471.8 21.0h0.4M473.1 38.6h0.4M474.0 40.3h0.4M472.7 36.6h0.4M475.5 37.2h0.4M475.4 32.4h0.4M473.1 40.3h0.4M475.2 34.6h0.4M478.6 24.1h0.4M471.4 30.5h0.4M481.6 22.8h0.4M470.4 23.3h0.4M473.5 22.7h0.4M471.4 34.9h0.4M470.1 30.8h0.4M469.7 29.3h0.4M477.9 15.6h0.4M475.7 32.6h0.4M475.1 32.8h0.4M477.4 21.0h0.4M474.8 35.8h0.4M481.7 20.5h0.4M472.5 20.5h0.4M475.3 22.7h0.4M470.6 36.7h0.4M486.3 15.2h0.4M483.4 23.9h0.4M478.7 33.5h0.4M481.4 29.3h0.4M471.4 30.4h0.4M479.2 24.1h0.4M477.4 30.8h0.4M476.3 30.9h0.4M478.3 37.0h0.4M474.0 28.2h0.4M465.0 24.2h0.4M468.0 36.0h0.4M470.2 25.6h0.4M478.0 38.4h0.4M481.3 24.4h0.4M476.6 39.0h0.4M471.3 29.2h0.4M469.5 26.0h0.4M478.9 31.6h0.4M473.7 26.7h0.4M482.8 36.6h0.4M469.4 47.3h0.4M473.4 29.7h0.4M473.1 26.6h0.4M478.5 19.9h0.4M475.6 28.4h0.4M483.9 33.9h0.4M477.5 34.9h0.4M478.3 31.8h0.4M463.6 34.1h0.4M473.9 36.2h0.4M476.9 26.8h0.4M471.1 23.2h0.4M476.8 30.1h0.4M471.2 28.2h0.4M477.1 25.9h0.4M474.8 26.3h0.4M462.9 31.6h0.4M475.7 37.1h0.4M481.7 25.4h0.4M478.3 32.9h0.4M475.8 37.2h0.4M479.7 21.4h0.4M482.6 29.6h0.4M472.2 25.7h0.4M474.4 22.4h0.4M480.7 34.2h0.4M471.1 37.1h0.4M476.6 31.5h0.4M480.1 30.2h0.4M474.2 34.7h0.4M466.6 21.9h0.4M477.9 39.0h0.4M467.3 31.0h0.4M472.2 28.8h0.4M478.4 42.2h0.4M484.0 38.1h0.4M478.5 32.0h0.4M466.4 33.9h0.4M469.7 22.5h0.4M476.0 19.0h0.4M484.0 35.5h0.4M477.2 34.6h0.4M476.6 31.4h0.4M478.9 25.9h0.4M476.8 32.2h0.4M479.2 22.6h0.4M476.6 30.0h0.4M478.5 35.0h0.4M476.3 34.4h0.4M477.6 41.2h0.4M476.9 35.0h0.4M471.0 29.4h0.4M479.2 38.8h0.4M470.7 30.6h0.4M474.2 31.3h0.4M473.1 27.7h0.4M475.2 31.9h0.4M480.4 24.5h0.4M470.8 36.9h0.4M477.9 29.5h0.4M469.9 38.9h0.4M470.3 39.5h0.4M476.7 29.8h0.4M474.6 37.1h0.4M475.5 17.9h0.4M472.1 14.8h0.4M477.4 37.9h0.4M480.4 20.8h0.4M485.7 44.6h0.4M474.9 16.0h0.4M471.3 38.8h0.4M485.4 26.9h0.4M466.6 23.7h0.4M484.7 30.9h0.4M468.7 15.2h0.4M478.5 37.0h0.4M473.2 29.4h0.4M475.8 28.4h0.4M472.8 26.6h0.4M472.6 40.2h0.4M477.4 38.6h0.4M484.3 13.7h0.4M475.1 38.1h0.4M474.4 26.4h0.4M477.4 26.9h0.4M471.4 28.6h0.4M475.7 31.0h0.4M479.8 31.1h0.4M473.2 53.8h0.4M474.4 28.9h0.4M474.8 25.7h0.4M467.9 32.4h0.4M482.5 17.2h0.4M471.8 34.1h0.4M472.2 34.9h0.4M475.2 22.6h0.4M474.4 27.0h0.4M478.1 11.8h0.4M477.4 40.9h0.4M476.2 32.7h0.4M472.9 33.5h0.4M474.7 21.3h0.4M469.7 13.5h0.4M477.5 32.2h0.4M480.7 32.9h0.4M478.8 20.8h0.4M466.5 26.6h0.4M473.9 33.6h0.4M474.8 29.7h0.4M475.7 32.8h0.4M476.4 33.3h0.4M473.0 30.2h0.4M468.4 22.5h0.4M474.1 34.1h0.4M471.8 20.3h0.4M480.1 24.7h0.4" stroke="#6a6a6a" stroke-width="0.4" fill="none" stroke-linecap="square"/>
<path d="M442.9 24.9h0.4M448.8 23.0h0.4M457.6 28.4h0.4M453.7 25.1h0.4M474.5 26.3h0.4M460.7 28.0h0.4M448.9 26.1h0.4M467.4 26.4h0.4M449.0 25.0h0.4M481.5 26.1h0.4M459.0 27.6h0.4M442.2 26.1h0.4M442.5 28.0h0.4M451.0 26.3h0.4M451.7 26.4h0.4M465.4 26.2h0.4M458.4 26.5h0.4M459.2 25.5h0.4M468.8 27.3h0.4M447.0 24.9h0.4M453.4 26.6h0.4M446.5 28.2h0.4M462.4 26.4h0.4M471.5 25.2h0.4M466.0 26.7h0.4M476.1 24.8h0.4M477.2 27.0h0.4M464.7 27.6h0.4M459.2 25.9h0.4M471.1 25.7h0.4M473.8 28.0h0.4M464.3 26.4h0.4M454.8 25.0h0.4M477.8 24.9h0.4M462.9 26.6h0.4M452.1 25.3h0.4M454.3 29.0h0.4M466.1 28.0h0.4M484.3 27.5h0.4M476.5 25.6h0.4M454.4 28.1h0.4M478.1 24.9h0.4M474.6 26.6h0.4M470.8 27.5h0.4M482.9 25.4h0.4M462.1 27.8h0.4M459.3 26.9h0.4M461.3 24.0h0.4M456.0 27.4h0.4M456.1 24.2h0.4M456.6 26.3h0.4M467.5 26.6h0.4M467.9 24.8h0.4M455.6 25.2h0.4M457.3 26.8h0.4M476.8 25.9h0.4M473.8 27.7h0.4M449.6 25.2h0.4M463.9 24.4h0.4M482.8 23.8h0.4M448.8 27.2h0.4M454.0 27.1h0.4M451.4 27.6h0.4M455.8 27.2h0.4M473.3 24.3h0.4M452.5 24.0h0.4M450.1 27.4h0.4M461.9 27.3h0.4M477.9 27.6h0.4M470.2 25.7h0.4M458.0 26.6h0.4M471.8 27.6h0.4M465.6 25.9h0.4M461.5 28.4h0.4M465.4 28.8h0.4M454.5 27.4h0.4M464.7 27.2h0.4M454.1 26.7h0.4M461.6 25.9h0.4M449.3 24.4h0.4M458.7 27.0h0.4M465.2 26.6h0.4M465.9 24.5h0.4M474.0 26.3h0.4M454.1 25.5h0.4M473.2 26.5h0.4M444.2 29.0h0.4M446.2 28.5h0.4M471.7 24.9h0.4M476.0 27.9h0.4" stroke="#888" stroke-width="0.4" fill="none" stroke-linecap="square"/>
<path d="M482.4 56.4h0.4M478.8 54.9h0.4M474.5 55.1h0.4M483.6 53.8h0.4M487.0 48.7h0.4M477.4 49.0h0.4M468.5 55.0h0.4M475.6 52.2h0.4M471.9 53.3h0.4M469.1 53.5h0.4M474.6 49.8h0.4M479.3 47.7h0.4M479.3 55.1h0.4M479.8 54.6h0.4M481.2 53.2h0.4M471.8 55.5h0.4M473.3 52.9h0.4M477.8 50.9h0.4M482.1 48.8h0.4M483.3 54.0h0.4M485.7 58.0h0.4M480.6 55.2h0.4M477.8 49.4h0.4M474.4 50.9h0.4M473.7 53.7h0.4M473.3 54.6h0.4M475.9 52.5h0.4M479.2 55.8h0.4M470.5 53.1h0.4M479.5 51.1h0.4M482.1 59.5h0.4M480.1 53.7h0.4M477.3 47.5h0.4M480.2 53.1h0.4M479.2 55.4h0.4M481.8 51.9h0.4M480.2 56.3h0.4M477.4 59.1h0.4M475.4 48.1h0.4M471.9 55.5h0.4M472.3 54.7h0.4M469.7 55.5h0.4M475.9 51.0h0.4M474.4 53.2h0.4M481.7 55.0h0.4M476.2 54.7h0.4M481.6 55.8h0.4M485.9 51.6h0.4M481.3 54.6h0.4M474.1 56.2h0.4" stroke="#777" stroke-width="0.4" fill="none" stroke-linecap="square"/>
<path d="M483.2 48.1h0.4M481.1 33.4h0.4M479.3 43.4h0.4M488.2 41.3h0.4M479.2 52.7h0.4M478.6 36.8h0.4M480.0 46.5h0.4M479.2 27.0h0.4M475.9 48.3h0.4M473.8 47.1h0.4M479.3 34.0h0.4M483.0 23.3h0.4M465.8 28.0h0.4M481.4 38.1h0.4M482.0 39.7h0.4M479.0 36.2h0.4M475.9 48.2h0.4M482.8 29.8h0.4M481.7 56.4h0.4M482.8 32.8h0.4M482.7 42.1h0.4M476.4 48.0h0.4M485.5 36.2h0.4M479.0 37.2h0.4M478.3 53.0h0.4M475.7 44.8h0.4M479.8 41.0h0.4M471.6 45.3h0.4M471.7 46.1h0.4M477.7 41.4h0.4M475.5 33.6h0.4M472.2 40.4h0.4M477.8 42.6h0.4M476.5 46.4h0.4M479.1 41.3h0.4M476.8 40.2h0.4M482.1 34.8h0.4M471.1 43.4h0.4M480.7 40.6h0.4M479.7 30.0h0.4" stroke="#999" stroke-width="0.4" fill="none" stroke-linecap="square"/>
<line x1="464.00" y1="11.40" x2="464.00" y2="61.30" stroke="#000" stroke-width="0.6" />
<line x1="438.60" y1="48.00" x2="491.60" y2="48.00" stroke="#000" stroke-width="0.6" />
<text x="464.8" y="7.2" font-size="5.5" text-anchor="middle" font-weight="bold" fill="#111" stroke="#111" stroke-width="0.247" >25 nM</text>
<text x="481.0" y="18.1" font-size="4.35" text-anchor="middle" font-weight="bold" fill="#111" stroke="#111" stroke-width="0.196" >34.2%</text>
<text x="481.0" y="57.8" font-size="4.35" text-anchor="middle" font-weight="bold" fill="#111" stroke="#111" stroke-width="0.196" >9.9%</text>
<line x1="438.90" y1="61.30" x2="438.90" y2="62.70" stroke="#222" stroke-width="0.55" />
<text x="438.00000000000006" y="66.2" font-size="2.9" text-anchor="middle" font-weight="bold" fill="#2a2a2a" stroke="#2a2a2a" stroke-width="0.120" >10</text>
<text x="440.8" y="64.8" font-size="2.0" text-anchor="middle" font-weight="bold" fill="#2a2a2a" stroke="#2a2a2a" stroke-width="0.100" >0</text>
<line x1="437.20" y1="61.00" x2="438.60" y2="61.00" stroke="#222" stroke-width="0.55" />
<text x="436.40000000000003" y="61.9" font-size="2.9" text-anchor="middle" font-weight="bold" fill="#2a2a2a" stroke="#2a2a2a" stroke-width="0.120" transform="rotate(-90 436.40000000000003 61.9)" >10</text>
<text x="435.0" y="59.1" font-size="2.0" text-anchor="middle" font-weight="bold" fill="#2a2a2a" stroke="#2a2a2a" stroke-width="0.100" transform="rotate(-90 435.0 59.1)" >0</text>
<line x1="452.00" y1="61.30" x2="452.00" y2="62.70" stroke="#222" stroke-width="0.55" />
<text x="451.1000000000001" y="66.2" font-size="2.9" text-anchor="middle" font-weight="bold" fill="#2a2a2a" stroke="#2a2a2a" stroke-width="0.120" >10</text>
<text x="453.90000000000003" y="64.8" font-size="2.0" text-anchor="middle" font-weight="bold" fill="#2a2a2a" stroke="#2a2a2a" stroke-width="0.100" >1</text>
<line x1="437.20" y1="48.67" x2="438.60" y2="48.67" stroke="#222" stroke-width="0.55" />
<text x="436.40000000000003" y="49.574999999999996" font-size="2.9" text-anchor="middle" font-weight="bold" fill="#2a2a2a" stroke="#2a2a2a" stroke-width="0.120" transform="rotate(-90 436.40000000000003 49.574999999999996)" >10</text>
<text x="435.0" y="46.775" font-size="2.0" text-anchor="middle" font-weight="bold" fill="#2a2a2a" stroke="#2a2a2a" stroke-width="0.100" transform="rotate(-90 435.0 46.775)" >1</text>
<line x1="465.10" y1="61.30" x2="465.10" y2="62.70" stroke="#222" stroke-width="0.55" />
<text x="464.20000000000005" y="66.2" font-size="2.9" text-anchor="middle" font-weight="bold" fill="#2a2a2a" stroke="#2a2a2a" stroke-width="0.120" >10</text>
<text x="467.0" y="64.8" font-size="2.0" text-anchor="middle" font-weight="bold" fill="#2a2a2a" stroke="#2a2a2a" stroke-width="0.100" >2</text>
<line x1="437.20" y1="36.35" x2="438.60" y2="36.35" stroke="#222" stroke-width="0.55" />
<text x="436.40000000000003" y="37.25" font-size="2.9" text-anchor="middle" font-weight="bold" fill="#2a2a2a" stroke="#2a2a2a" stroke-width="0.120" transform="rotate(-90 436.40000000000003 37.25)" >10</text>
<text x="435.0" y="34.45" font-size="2.0" text-anchor="middle" font-weight="bold" fill="#2a2a2a" stroke="#2a2a2a" stroke-width="0.100" transform="rotate(-90 435.0 34.45)" >2</text>
<line x1="478.20" y1="61.30" x2="478.20" y2="62.70" stroke="#222" stroke-width="0.55" />
<text x="477.30000000000007" y="66.2" font-size="2.9" text-anchor="middle" font-weight="bold" fill="#2a2a2a" stroke="#2a2a2a" stroke-width="0.120" >10</text>
<text x="480.1" y="64.8" font-size="2.0" text-anchor="middle" font-weight="bold" fill="#2a2a2a" stroke="#2a2a2a" stroke-width="0.100" >3</text>
<line x1="437.20" y1="24.03" x2="438.60" y2="24.03" stroke="#222" stroke-width="0.55" />
<text x="436.40000000000003" y="24.925000000000004" font-size="2.9" text-anchor="middle" font-weight="bold" fill="#2a2a2a" stroke="#2a2a2a" stroke-width="0.120" transform="rotate(-90 436.40000000000003 24.925000000000004)" >10</text>
<text x="435.0" y="22.125000000000007" font-size="2.0" text-anchor="middle" font-weight="bold" fill="#2a2a2a" stroke="#2a2a2a" stroke-width="0.100" transform="rotate(-90 435.0 22.125000000000007)" >3</text>
<line x1="491.30" y1="61.30" x2="491.30" y2="62.70" stroke="#222" stroke-width="0.55" />
<text x="490.40000000000003" y="66.2" font-size="2.9" text-anchor="middle" font-weight="bold" fill="#2a2a2a" stroke="#2a2a2a" stroke-width="0.120" >10</text>
<text x="493.2" y="64.8" font-size="2.0" text-anchor="middle" font-weight="bold" fill="#2a2a2a" stroke="#2a2a2a" stroke-width="0.100" >4</text>
<line x1="437.20" y1="11.70" x2="438.60" y2="11.70" stroke="#222" stroke-width="0.55" />
<text x="436.40000000000003" y="12.600000000000003" font-size="2.9" text-anchor="middle" font-weight="bold" fill="#2a2a2a" stroke="#2a2a2a" stroke-width="0.120" transform="rotate(-90 436.40000000000003 12.600000000000003)" >10</text>
<text x="435.0" y="9.800000000000002" font-size="2.0" text-anchor="middle" font-weight="bold" fill="#2a2a2a" stroke="#2a2a2a" stroke-width="0.100" transform="rotate(-90 435.0 9.800000000000002)" >4</text>
<line x1="442.84" y1="61.30" x2="442.84" y2="62.00" stroke="#333" stroke-width="0.3" />
<line x1="437.90" y1="57.29" x2="438.60" y2="57.29" stroke="#333" stroke-width="0.3" />
<line x1="445.15" y1="61.30" x2="445.15" y2="62.00" stroke="#333" stroke-width="0.3" />
<line x1="437.90" y1="55.12" x2="438.60" y2="55.12" stroke="#333" stroke-width="0.3" />
<line x1="446.79" y1="61.30" x2="446.79" y2="62.00" stroke="#333" stroke-width="0.3" />
<line x1="437.90" y1="53.58" x2="438.60" y2="53.58" stroke="#333" stroke-width="0.3" />
<line x1="448.06" y1="61.30" x2="448.06" y2="62.00" stroke="#333" stroke-width="0.3" />
<line x1="437.90" y1="52.39" x2="438.60" y2="52.39" stroke="#333" stroke-width="0.3" />
<line x1="449.09" y1="61.30" x2="449.09" y2="62.00" stroke="#333" stroke-width="0.3" />
<line x1="437.90" y1="51.41" x2="438.60" y2="51.41" stroke="#333" stroke-width="0.3" />
<line x1="449.97" y1="61.30" x2="449.97" y2="62.00" stroke="#333" stroke-width="0.3" />
<line x1="437.90" y1="50.58" x2="438.60" y2="50.58" stroke="#333" stroke-width="0.3" />
<line x1="450.73" y1="61.30" x2="450.73" y2="62.00" stroke="#333" stroke-width="0.3" />
<line x1="437.90" y1="49.87" x2="438.60" y2="49.87" stroke="#333" stroke-width="0.3" />
<line x1="451.40" y1="61.30" x2="451.40" y2="62.00" stroke="#333" stroke-width="0.3" />
<line x1="437.90" y1="49.24" x2="438.60" y2="49.24" stroke="#333" stroke-width="0.3" />
<line x1="455.94" y1="61.30" x2="455.94" y2="62.00" stroke="#333" stroke-width="0.3" />
<line x1="437.90" y1="44.96" x2="438.60" y2="44.96" stroke="#333" stroke-width="0.3" />
<line x1="458.25" y1="61.30" x2="458.25" y2="62.00" stroke="#333" stroke-width="0.3" />
<line x1="437.90" y1="42.79" x2="438.60" y2="42.79" stroke="#333" stroke-width="0.3" />
<line x1="459.89" y1="61.30" x2="459.89" y2="62.00" stroke="#333" stroke-width="0.3" />
<line x1="437.90" y1="41.25" x2="438.60" y2="41.25" stroke="#333" stroke-width="0.3" />
<line x1="461.16" y1="61.30" x2="461.16" y2="62.00" stroke="#333" stroke-width="0.3" />
<line x1="437.90" y1="40.06" x2="438.60" y2="40.06" stroke="#333" stroke-width="0.3" />
<line x1="462.19" y1="61.30" x2="462.19" y2="62.00" stroke="#333" stroke-width="0.3" />
<line x1="437.90" y1="39.08" x2="438.60" y2="39.08" stroke="#333" stroke-width="0.3" />
<line x1="463.07" y1="61.30" x2="463.07" y2="62.00" stroke="#333" stroke-width="0.3" />
<line x1="437.90" y1="38.26" x2="438.60" y2="38.26" stroke="#333" stroke-width="0.3" />
<line x1="463.83" y1="61.30" x2="463.83" y2="62.00" stroke="#333" stroke-width="0.3" />
<line x1="437.90" y1="37.54" x2="438.60" y2="37.54" stroke="#333" stroke-width="0.3" />
<line x1="464.50" y1="61.30" x2="464.50" y2="62.00" stroke="#333" stroke-width="0.3" />
<line x1="437.90" y1="36.91" x2="438.60" y2="36.91" stroke="#333" stroke-width="0.3" />
<line x1="469.04" y1="61.30" x2="469.04" y2="62.00" stroke="#333" stroke-width="0.3" />
<line x1="437.90" y1="32.64" x2="438.60" y2="32.64" stroke="#333" stroke-width="0.3" />
<line x1="471.35" y1="61.30" x2="471.35" y2="62.00" stroke="#333" stroke-width="0.3" />
<line x1="437.90" y1="30.47" x2="438.60" y2="30.47" stroke="#333" stroke-width="0.3" />
<line x1="472.99" y1="61.30" x2="472.99" y2="62.00" stroke="#333" stroke-width="0.3" />
<line x1="437.90" y1="28.93" x2="438.60" y2="28.93" stroke="#333" stroke-width="0.3" />
<line x1="474.26" y1="61.30" x2="474.26" y2="62.00" stroke="#333" stroke-width="0.3" />
<line x1="437.90" y1="27.74" x2="438.60" y2="27.74" stroke="#333" stroke-width="0.3" />
<line x1="475.29" y1="61.30" x2="475.29" y2="62.00" stroke="#333" stroke-width="0.3" />
<line x1="437.90" y1="26.76" x2="438.60" y2="26.76" stroke="#333" stroke-width="0.3" />
<line x1="476.17" y1="61.30" x2="476.17" y2="62.00" stroke="#333" stroke-width="0.3" />
<line x1="437.90" y1="25.93" x2="438.60" y2="25.93" stroke="#333" stroke-width="0.3" />
<line x1="476.93" y1="61.30" x2="476.93" y2="62.00" stroke="#333" stroke-width="0.3" />
<line x1="437.90" y1="25.22" x2="438.60" y2="25.22" stroke="#333" stroke-width="0.3" />
<line x1="477.60" y1="61.30" x2="477.60" y2="62.00" stroke="#333" stroke-width="0.3" />
<line x1="437.90" y1="24.59" x2="438.60" y2="24.59" stroke="#333" stroke-width="0.3" />
<line x1="482.14" y1="61.30" x2="482.14" y2="62.00" stroke="#333" stroke-width="0.3" />
<line x1="437.90" y1="20.31" x2="438.60" y2="20.31" stroke="#333" stroke-width="0.3" />
<line x1="484.45" y1="61.30" x2="484.45" y2="62.00" stroke="#333" stroke-width="0.3" />
<line x1="437.90" y1="18.14" x2="438.60" y2="18.14" stroke="#333" stroke-width="0.3" />
<line x1="486.09" y1="61.30" x2="486.09" y2="62.00" stroke="#333" stroke-width="0.3" />
<line x1="437.90" y1="16.60" x2="438.60" y2="16.60" stroke="#333" stroke-width="0.3" />
<line x1="487.36" y1="61.30" x2="487.36" y2="62.00" stroke="#333" stroke-width="0.3" />
<line x1="437.90" y1="15.41" x2="438.60" y2="15.41" stroke="#333" stroke-width="0.3" />
<line x1="488.39" y1="61.30" x2="488.39" y2="62.00" stroke="#333" stroke-width="0.3" />
<line x1="437.90" y1="14.43" x2="438.60" y2="14.43" stroke="#333" stroke-width="0.3" />
<line x1="489.27" y1="61.30" x2="489.27" y2="62.00" stroke="#333" stroke-width="0.3" />
<line x1="437.90" y1="13.61" x2="438.60" y2="13.61" stroke="#333" stroke-width="0.3" />
<line x1="490.03" y1="61.30" x2="490.03" y2="62.00" stroke="#333" stroke-width="0.3" />
<line x1="437.90" y1="12.89" x2="438.60" y2="12.89" stroke="#333" stroke-width="0.3" />
<line x1="490.70" y1="61.30" x2="490.70" y2="62.00" stroke="#333" stroke-width="0.3" />
<line x1="437.90" y1="12.26" x2="438.60" y2="12.26" stroke="#333" stroke-width="0.3" />
<text x="465.1" y="68.89999999999999" font-size="3.0" text-anchor="middle" font-weight="bold" fill="#1a1a1a" stroke="#1a1a1a" stroke-width="0.160" textLength="22" lengthAdjust="spacingAndGlyphs" >Annexin-V-FITC</text>
<text x="432.40000000000003" y="36.85" font-size="2.4" text-anchor="middle" font-weight="bold" fill="#1a1a1a" stroke="#1a1a1a" stroke-width="0.160" transform="rotate(-90 432.40000000000003 36.85)" >PI</text>
<path d="M439.5 60.4h0.4M441.4 60.4h0.4M445.9 60.4h0.4M446.8 60.4h0.4M449.5 60.4h0.4M451.4 60.4h0.4M452.1 60.4h0.4M453.2 60.4h0.4M454.0 60.4h0.4M454.9 60.4h0.4M455.8 60.4h0.4M456.8 60.4h0.4M457.5 60.4h0.4M461.0 60.4h0.4M464.0 60.4h0.4M464.6 60.4h0.4M465.6 60.4h0.4M466.7 60.4h0.4M468.3 60.4h0.4M469.3 60.4h0.4M470.1 60.4h0.4M471.0 60.4h0.4M472.0 60.4h0.4M476.4 60.4h0.4M477.4 60.4h0.4M479.3 60.4h0.4M479.9 60.4h0.4M480.9 60.4h0.4M483.6 60.4h0.4M484.6 60.4h0.4M486.2 60.4h0.4" stroke="#555" stroke-width="0.4" fill="none"/>
<rect x="373.4" y="86.9" width="53.200000000000045" height="50.900000000000006" fill="#fff" stroke="#222" stroke-width="0.7"/>
<path d="M400.9 129.7h0.42M378.6 131.4h0.42M390.9 126.9h0.42M388.9 134.1h0.42M386.8 128.2h0.42M387.5 129.2h0.42M394.7 130.1h0.42M405.2 128.4h0.42M397.4 125.6h0.42M393.9 127.0h0.42M400.1 132.7h0.42M396.9 125.6h0.42M392.4 130.8h0.42M389.0 127.1h0.42M406.8 124.8h0.42M380.1 132.0h0.42M384.5 126.5h0.42M383.3 133.7h0.42M403.7 133.2h0.42M387.9 125.2h0.42M385.4 131.0h0.42M379.9 131.9h0.42M386.8 130.1h0.42M397.0 130.6h0.42M390.2 132.7h0.42M391.3 133.6h0.42M384.8 124.3h0.42M389.4 130.0h0.42M396.5 127.5h0.42M388.9 126.4h0.42M386.1 132.7h0.42M399.3 132.4h0.42M400.0 132.0h0.42M398.8 128.1h0.42M380.0 127.1h0.42M402.4 129.1h0.42M397.8 130.3h0.42M399.6 130.9h0.42M381.0 125.9h0.42M384.9 128.7h0.42M403.2 130.7h0.42M375.6 124.3h0.42M378.6 127.2h0.42M393.0 121.4h0.42M375.5 132.0h0.42M389.2 130.8h0.42M387.0 133.0h0.42M397.0 130.4h0.42M388.3 135.0h0.42M394.9 132.0h0.42M387.1 131.4h0.42M384.0 128.7h0.42M392.0 127.9h0.42M394.6 130.2h0.42M385.1 130.1h0.42M395.9 130.7h0.42M394.6 129.0h0.42M381.5 130.8h0.42M389.1 134.2h0.42M395.9 131.6h0.42M387.2 135.9h0.42M391.4 125.9h0.42M378.4 127.1h0.42M389.9 129.5h0.42M397.9 134.1h0.42M401.3 122.9h0.42M390.6 128.8h0.42M381.1 128.8h0.42M387.0 129.5h0.42M398.2 129.8h0.42M388.0 131.3h0.42M387.4 128.5h0.42M391.2 133.0h0.42M385.2 128.9h0.42M382.2 124.9h0.42M404.7 130.1h0.42M394.7 129.4h0.42M391.4 129.3h0.42M387.6 129.9h0.42M403.9 134.8h0.42M397.8 133.9h0.42M389.7 130.5h0.42M390.7 129.5h0.42M399.8 126.9h0.42M382.4 130.6h0.42M400.7 131.3h0.42M398.3 131.4h0.42M399.4 128.5h0.42M398.3 133.7h0.42M388.1 127.9h0.42M391.2 126.6h0.42M382.7 132.4h0.42M389.1 132.9h0.42M395.0 128.7h0.42M390.9 127.7h0.42M390.1 130.6h0.42M401.4 129.4h0.42M399.3 130.0h0.42M393.9 131.2h0.42M399.2 131.8h0.42M377.4 125.3h0.42M388.5 132.6h0.42M390.7 132.2h0.42M398.0 131.1h0.42M384.1 131.9h0.42M395.8 129.7h0.42M394.0 127.2h0.42M391.4 130.9h0.42M379.0 126.6h0.42M400.4 132.0h0.42M391.2 135.0h0.42M395.6 126.3h0.42M390.1 132.2h0.42M405.2 129.1h0.42M397.7 128.8h0.42M396.4 131.4h0.42M392.2 129.9h0.42M389.4 131.3h0.42M394.8 128.6h0.42M395.7 131.9h0.42M392.1 133.6h0.42M382.4 127.6h0.42M397.1 132.6h0.42M397.1 131.6h0.42M391.9 128.3h0.42M392.3 128.5h0.42M380.3 133.8h0.42M398.9 130.6h0.42M379.2 129.4h0.42M400.2 129.0h0.42" stroke="#777" stroke-width="0.42" fill="none" stroke-linecap="square"/>
<path d="M409.3 109.5h0.4M405.4 105.6h0.4M407.1 104.0h0.4M407.3 98.4h0.4M410.8 106.1h0.4M416.3 99.8h0.4M411.9 100.4h0.4M411.4 104.6h0.4M407.3 89.0h0.4M408.9 105.6h0.4M410.0 107.0h0.4M410.7 96.2h0.4M406.8 105.5h0.4M407.4 102.1h0.4M412.6 111.8h0.4M404.1 95.4h0.4M409.9 101.7h0.4M408.0 108.6h0.4M407.8 105.1h0.4M413.1 97.4h0.4M410.5 97.7h0.4M415.6 98.2h0.4M412.4 94.2h0.4M409.6 111.1h0.4M415.5 109.0h0.4M396.7 108.3h0.4M407.7 112.0h0.4M416.2 91.7h0.4M409.2 90.9h0.4M411.8 102.5h0.4M407.7 103.3h0.4M404.2 90.0h0.4M406.4 104.9h0.4M407.4 103.9h0.4M407.1 105.7h0.4M402.1 111.2h0.4M408.3 91.7h0.4M404.4 106.9h0.4M415.8 109.1h0.4M404.9 102.0h0.4M411.6 111.0h0.4M410.8 106.3h0.4M412.7 108.4h0.4M413.9 114.7h0.4M402.3 96.3h0.4M406.5 103.7h0.4M407.5 117.8h0.4M403.6 100.0h0.4M407.9 103.4h0.4M410.2 111.9h0.4M414.4 91.5h0.4M406.1 102.1h0.4M413.9 107.5h0.4M400.6 113.5h0.4M409.6 109.4h0.4M409.8 105.2h0.4M411.8 92.1h0.4M409.2 106.0h0.4M406.0 102.6h0.4M401.8 95.1h0.4M408.7 99.5h0.4M406.1 101.5h0.4M409.0 99.8h0.4M413.1 97.5h0.4M411.8 101.1h0.4M414.1 102.4h0.4M408.5 114.8h0.4M408.0 108.1h0.4M414.4 107.3h0.4M408.9 108.1h0.4M409.2 101.3h0.4M408.9 99.6h0.4M402.4 116.9h0.4M412.6 93.6h0.4M414.5 103.9h0.4M414.2 101.2h0.4M405.6 102.0h0.4M404.8 111.1h0.4M408.9 114.7h0.4M413.2 96.8h0.4M409.0 106.6h0.4M405.8 110.4h0.4M411.8 98.0h0.4M403.1 104.0h0.4M402.8 101.7h0.4M403.8 101.9h0.4M409.0 108.5h0.4M400.7 110.3h0.4M412.1 103.1h0.4M404.3 101.3h0.4M406.3 106.2h0.4M409.2 102.2h0.4M409.3 110.4h0.4M409.6 109.3h0.4M413.3 109.0h0.4M411.6 113.6h0.4M404.0 99.4h0.4M403.1 106.1h0.4M407.5 112.3h0.4M407.7 100.6h0.4M408.2 96.0h0.4M414.5 103.5h0.4M402.0 101.5h0.4M407.8 111.4h0.4M402.6 109.6h0.4M408.3 100.7h0.4M420.2 99.5h0.4M395.0 105.6h0.4M405.8 100.4h0.4M409.5 105.7h0.4M403.2 99.1h0.4M403.3 97.1h0.4M402.4 109.4h0.4M404.1 99.1h0.4M402.9 102.0h0.4M407.1 103.9h0.4M405.8 95.6h0.4M398.8 112.9h0.4M406.3 105.5h0.4M404.9 104.5h0.4M413.3 117.3h0.4M411.7 114.6h0.4M411.2 112.2h0.4M410.6 104.9h0.4M409.1 104.4h0.4M417.9 102.9h0.4M403.1 108.1h0.4M406.4 106.0h0.4M406.0 110.8h0.4M410.2 102.6h0.4M404.2 103.1h0.4M401.8 101.1h0.4M405.8 101.5h0.4M414.2 102.4h0.4M408.1 113.5h0.4M409.7 103.4h0.4M405.9 98.7h0.4M408.2 108.9h0.4M409.3 112.2h0.4M403.8 109.3h0.4M408.1 114.4h0.4M401.4 107.0h0.4M409.8 100.3h0.4M414.0 103.8h0.4M407.2 109.5h0.4M407.8 97.9h0.4M407.5 100.2h0.4M410.9 100.9h0.4M411.9 99.7h0.4M404.3 110.2h0.4M403.6 103.8h0.4M399.3 98.8h0.4M408.7 102.0h0.4M409.5 104.9h0.4M416.1 109.1h0.4M408.6 106.6h0.4M411.0 112.1h0.4M409.3 103.9h0.4M409.1 105.9h0.4M412.2 107.0h0.4M397.8 106.0h0.4M403.9 94.3h0.4M401.0 96.9h0.4M407.4 100.5h0.4M405.5 110.6h0.4M416.2 114.8h0.4M406.0 105.5h0.4M401.2 105.6h0.4M408.0 114.0h0.4M411.4 107.7h0.4M410.7 112.5h0.4M407.6 100.5h0.4M406.7 96.6h0.4M401.8 124.7h0.4M404.0 107.3h0.4M409.6 107.6h0.4M407.6 102.5h0.4M410.5 105.6h0.4M406.1 103.8h0.4M408.2 116.6h0.4M406.6 106.3h0.4M405.5 99.9h0.4M402.4 102.5h0.4M412.7 94.9h0.4M408.9 116.8h0.4M410.6 107.2h0.4M406.1 104.8h0.4M405.6 102.9h0.4M413.0 102.5h0.4M412.9 90.0h0.4M401.9 108.4h0.4M404.6 105.3h0.4M413.2 112.0h0.4M414.4 100.1h0.4M406.7 112.6h0.4M406.2 110.3h0.4M408.9 104.2h0.4M403.8 105.9h0.4M412.9 113.8h0.4M408.7 111.9h0.4M408.9 114.2h0.4M403.0 109.3h0.4M402.2 110.4h0.4M406.9 104.0h0.4M405.6 105.3h0.4M405.8 120.8h0.4M402.0 106.4h0.4M412.1 113.0h0.4M411.0 108.3h0.4M409.5 106.1h0.4M417.9 95.3h0.4M408.3 105.8h0.4M408.2 95.0h0.4M415.7 108.3h0.4M411.6 107.0h0.4M410.1 93.6h0.4M409.3 113.1h0.4M410.6 96.2h0.4M406.1 104.3h0.4M411.3 106.8h0.4M403.2 103.6h0.4M403.0 107.4h0.4M403.2 101.2h0.4M402.0 111.9h0.4M400.3 102.2h0.4M416.6 103.9h0.4M409.7 94.7h0.4M405.8 103.3h0.4M413.7 111.0h0.4M408.9 114.4h0.4M403.3 102.2h0.4M406.0 107.2h0.4M406.7 114.9h0.4M411.6 101.1h0.4M407.0 111.8h0.4M403.4 109.1h0.4M409.1 93.4h0.4M411.2 94.8h0.4M413.3 103.7h0.4M403.0 108.2h0.4M405.7 116.8h0.4M404.1 109.3h0.4M404.8 104.2h0.4M412.2 105.4h0.4M398.6 107.5h0.4M414.7 116.1h0.4M416.1 102.9h0.4M408.6 106.3h0.4M410.0 103.3h0.4M405.8 120.3h0.4M405.2 93.8h0.4M410.1 101.3h0.4M406.9 104.9h0.4M405.2 110.5h0.4M410.2 99.9h0.4M407.6 101.8h0.4M408.7 107.4h0.4M403.9 100.6h0.4M407.8 98.1h0.4M415.0 100.8h0.4M401.0 99.2h0.4M410.3 110.1h0.4M403.4 102.1h0.4M414.9 102.2h0.4M418.5 109.7h0.4M406.0 105.9h0.4M409.3 95.5h0.4M412.0 98.2h0.4M408.6 112.7h0.4M405.0 106.3h0.4M406.7 103.1h0.4M408.8 108.4h0.4M413.9 106.4h0.4M408.5 98.1h0.4M413.5 99.6h0.4M406.9 100.3h0.4M411.9 101.3h0.4M410.6 100.8h0.4M414.9 101.9h0.4M411.8 114.9h0.4M411.1 110.6h0.4M406.1 109.2h0.4M407.2 108.1h0.4M407.3 106.8h0.4M409.9 98.9h0.4M407.8 98.0h0.4M417.3 102.8h0.4M406.6 92.5h0.4M417.1 96.9h0.4M404.0 109.7h0.4M412.4 107.7h0.4M406.0 113.4h0.4M415.8 105.5h0.4M412.7 108.2h0.4M400.8 106.2h0.4M407.2 102.2h0.4M407.3 100.7h0.4M405.6 100.3h0.4M413.2 103.0h0.4M408.3 110.8h0.4" stroke="#6a6a6a" stroke-width="0.4" fill="none" stroke-linecap="square"/>
<path d="M407.2 100.8h0.42M404.7 102.2h0.42M401.1 98.9h0.42M406.9 101.4h0.42M403.9 99.8h0.42M402.9 99.6h0.42M405.3 101.2h0.42M405.6 101.8h0.42M405.5 101.7h0.42M405.0 101.2h0.42M399.5 100.7h0.42M405.2 101.4h0.42M404.3 100.6h0.42M406.7 101.9h0.42M403.0 102.7h0.42M400.9 101.0h0.42M404.0 101.2h0.42M405.8 100.1h0.42M405.2 100.6h0.42M401.1 101.5h0.42M405.2 101.3h0.42M411.0 100.1h0.42M408.3 101.0h0.42M404.1 99.7h0.42M402.7 101.1h0.42M402.5 100.2h0.42M404.1 100.7h0.42M404.1 101.5h0.42M404.8 99.9h0.42M403.3 102.7h0.42M402.0 100.9h0.42M404.4 101.0h0.42M405.3 101.1h0.42M410.5 100.5h0.42M397.6 100.3h0.42M400.1 100.6h0.42M407.0 101.7h0.42M402.1 100.3h0.42M402.9 100.2h0.42M403.3 100.4h0.42M401.3 101.1h0.42M403.5 100.9h0.42M404.7 102.6h0.42M406.2 102.0h0.42M408.6 101.0h0.42M404.0 99.3h0.42M407.4 100.8h0.42M400.5 102.0h0.42M407.8 101.2h0.42M404.0 102.3h0.42M403.9 99.0h0.42M399.9 100.9h0.42M408.4 101.7h0.42M408.2 100.4h0.42M400.9 101.1h0.42M402.9 101.3h0.42M406.2 102.7h0.42M403.7 101.0h0.42M400.3 99.8h0.42M403.4 100.5h0.42" stroke="#444" stroke-width="0.42" fill="none" stroke-linecap="square"/>
<path d="M392.5 101.0h0.4M379.7 101.1h0.4M391.0 101.9h0.4M389.8 101.8h0.4M398.4 101.6h0.4M385.1 100.5h0.4M395.5 100.9h0.4M383.0 100.2h0.4M387.8 99.4h0.4M387.0 101.6h0.4M386.6 99.4h0.4M385.0 100.9h0.4M387.8 100.5h0.4M391.1 99.7h0.4M386.1 100.9h0.4M379.9 102.5h0.4M389.6 101.4h0.4M375.4 102.3h0.4M384.3 100.6h0.4M400.4 102.2h0.4M394.4 99.8h0.4M391.3 103.0h0.4M392.6 101.2h0.4M380.0 103.7h0.4M392.3 101.3h0.4M386.7 99.3h0.4M387.7 101.6h0.4M400.1 98.9h0.4M396.1 100.4h0.4M398.6 102.1h0.4M379.6 99.5h0.4M388.5 99.9h0.4M396.3 101.0h0.4M377.9 101.7h0.4M390.4 99.8h0.4M393.6 100.9h0.4M400.2 99.8h0.4M387.0 101.4h0.4M379.6 100.3h0.4M397.3 100.8h0.4M385.9 99.4h0.4M393.4 102.6h0.4M383.2 101.5h0.4M386.9 102.2h0.4M387.1 99.8h0.4M386.9 101.5h0.4M390.9 99.4h0.4M394.8 99.5h0.4M393.6 101.5h0.4M381.9 101.4h0.4M390.3 100.5h0.4M396.2 101.3h0.4M389.7 101.3h0.4M380.0 100.3h0.4M385.2 101.1h0.4M379.5 100.7h0.4M386.2 101.9h0.4M392.8 102.2h0.4M381.3 102.3h0.4M385.2 100.4h0.4M383.5 100.7h0.4M387.9 100.5h0.4M377.8 100.2h0.4M390.8 99.9h0.4M406.7 99.5h0.4M389.9 100.2h0.4M386.9 102.7h0.4M391.2 101.7h0.4M397.0 102.1h0.4M375.2 102.8h0.4M391.2 99.9h0.4M384.4 102.0h0.4M391.4 101.4h0.4M392.4 100.5h0.4M409.0 101.4h0.4M378.5 102.5h0.4M395.4 101.8h0.4M387.0 101.0h0.4M393.9 100.7h0.4M386.7 100.8h0.4" stroke="#999" stroke-width="0.4" fill="none" stroke-linecap="square"/>
<path d="M408.2 129.2h0.42M409.1 120.4h0.42M411.3 126.3h0.42M413.1 131.8h0.42M398.6 128.2h0.42M402.6 125.1h0.42M407.7 130.2h0.42M410.7 130.3h0.42M403.8 136.9h0.42M413.7 130.3h0.42M408.0 129.6h0.42M409.3 127.4h0.42M401.6 125.9h0.42M403.1 130.4h0.42M410.9 132.7h0.42M402.3 131.9h0.42M407.2 127.2h0.42M402.8 130.0h0.42M412.2 126.5h0.42M408.1 132.2h0.42M411.9 128.9h0.42M408.7 129.3h0.42M400.9 128.3h0.42M407.9 133.0h0.42M403.9 133.5h0.42M414.7 130.7h0.42M403.9 129.2h0.42M404.9 133.3h0.42M414.7 132.8h0.42M407.3 132.0h0.42M411.0 130.2h0.42M409.3 128.0h0.42M409.0 132.5h0.42M404.9 127.0h0.42M407.7 133.2h0.42M406.6 129.3h0.42M403.4 121.9h0.42M409.6 122.0h0.42M407.4 131.4h0.42M401.5 125.7h0.42M402.5 125.3h0.42M406.8 131.1h0.42M407.8 129.1h0.42M404.8 127.8h0.42M414.6 122.3h0.42M413.6 135.7h0.42M406.2 128.2h0.42M403.3 130.7h0.42M405.9 129.7h0.42M406.5 129.2h0.42M401.6 129.8h0.42M407.7 136.4h0.42M410.5 125.8h0.42M407.8 125.4h0.42M406.6 122.4h0.42M402.1 133.1h0.42M404.9 130.2h0.42M404.6 129.3h0.42M405.8 125.9h0.42M398.3 128.6h0.42M398.5 124.1h0.42M405.5 123.2h0.42M406.1 123.1h0.42M411.8 126.2h0.42M403.5 124.8h0.42M396.0 126.7h0.42M405.6 130.7h0.42M402.6 128.5h0.42M405.1 123.6h0.42M409.6 128.5h0.42M403.2 126.1h0.42M404.3 124.9h0.42M411.8 131.9h0.42M408.4 128.2h0.42M401.9 125.3h0.42M402.4 125.8h0.42M393.0 128.1h0.42M409.8 125.8h0.42M409.1 123.7h0.42M411.9 116.9h0.42M409.3 129.5h0.42M407.4 134.9h0.42M409.4 127.3h0.42M397.1 129.2h0.42M405.5 123.9h0.42M414.5 123.6h0.42M416.3 133.4h0.42M404.9 133.2h0.42M406.6 125.6h0.42M403.1 135.6h0.42M409.7 119.2h0.42M411.8 131.2h0.42M405.8 119.8h0.42M405.9 125.7h0.42M408.7 129.8h0.42M406.2 133.0h0.42M405.4 130.3h0.42M412.4 131.3h0.42M407.4 126.9h0.42M393.9 127.7h0.42M402.9 131.8h0.42M406.9 127.8h0.42M411.9 124.2h0.42M406.1 125.3h0.42M395.8 128.9h0.42M408.2 129.0h0.42M399.4 121.8h0.42M408.2 130.3h0.42M398.8 130.0h0.42M400.4 126.5h0.42M409.3 129.2h0.42M400.3 125.6h0.42M408.1 129.3h0.42M404.7 131.8h0.42M405.1 130.4h0.42M412.3 130.8h0.42M412.6 127.1h0.42M408.5 127.6h0.42M403.3 126.3h0.42M410.0 124.6h0.42" stroke="#555" stroke-width="0.42" fill="none" stroke-linecap="square"/>
<path d="M401.3 108.7h0.4M410.1 115.3h0.4M406.4 116.8h0.4M405.4 114.7h0.4M406.8 111.6h0.4M416.4 116.5h0.4M410.2 118.8h0.4M406.6 115.8h0.4M408.9 108.1h0.4M412.1 120.7h0.4M411.4 120.4h0.4M410.7 118.3h0.4M403.2 117.9h0.4M402.8 106.6h0.4M406.1 120.0h0.4M409.7 123.9h0.4M406.1 118.6h0.4M409.5 120.9h0.4M410.2 111.4h0.4M409.8 110.8h0.4M405.3 114.1h0.4M402.6 120.3h0.4M411.8 118.8h0.4M407.9 120.1h0.4M406.6 118.8h0.4M407.0 115.3h0.4M408.2 119.9h0.4M411.2 124.6h0.4M404.7 106.4h0.4M409.7 118.4h0.4M406.2 121.5h0.4M411.8 107.8h0.4M408.5 115.3h0.4M411.6 116.8h0.4M407.6 116.2h0.4M406.8 118.1h0.4M409.9 113.6h0.4M407.0 118.8h0.4M409.1 114.0h0.4M405.4 117.3h0.4M408.3 132.1h0.4M406.5 108.0h0.4M401.2 126.9h0.4M413.5 114.5h0.4M408.2 117.6h0.4M403.6 114.4h0.4M417.3 102.4h0.4M409.2 112.6h0.4M413.5 115.3h0.4M410.7 116.8h0.4M414.9 113.7h0.4M407.6 108.6h0.4M417.3 117.7h0.4M406.0 124.2h0.4M403.5 114.6h0.4M399.2 114.2h0.4M410.0 111.7h0.4M409.5 113.5h0.4M405.9 119.6h0.4M411.9 117.5h0.4" stroke="#888" stroke-width="0.4" fill="none" stroke-linecap="square"/>
<path d="M424.0 112.4h0.38M412.1 101.6h0.38M413.5 115.0h0.38M410.1 103.7h0.38M414.3 117.9h0.38M407.0 109.5h0.38M404.5 120.9h0.38M409.3 101.8h0.38M413.7 111.6h0.38M409.5 107.9h0.38M415.4 105.6h0.38M414.2 128.3h0.38M411.7 108.5h0.38M419.8 95.0h0.38M403.5 125.9h0.38M408.2 99.3h0.38M405.9 117.6h0.38M413.4 96.0h0.38M411.4 110.7h0.38M401.7 105.3h0.38M409.7 114.0h0.38M417.0 101.2h0.38M408.4 103.2h0.38M400.2 118.9h0.38M416.8 120.9h0.38M407.9 101.2h0.38M416.9 107.9h0.38M412.2 107.6h0.38M405.7 116.5h0.38M400.3 112.2h0.38M421.6 110.8h0.38M418.5 90.2h0.38M408.6 95.7h0.38M414.2 117.5h0.38M406.9 112.3h0.38M413.8 106.4h0.38M409.6 116.1h0.38M404.7 109.9h0.38M416.9 107.5h0.38M406.6 114.5h0.38M417.5 116.6h0.38M404.6 104.4h0.38M403.8 111.6h0.38M411.0 110.1h0.38M410.6 129.7h0.38M407.5 120.2h0.38M405.3 115.5h0.38M409.6 107.5h0.38M401.3 106.6h0.38M404.6 125.5h0.38M404.8 123.0h0.38M413.3 117.2h0.38M402.5 106.9h0.38M408.0 112.6h0.38M398.8 107.1h0.38M409.0 118.8h0.38M406.6 107.0h0.38M411.2 114.3h0.38M401.5 97.4h0.38M410.5 98.8h0.38M417.0 98.2h0.38M408.9 121.7h0.38M422.5 108.1h0.38M404.6 101.1h0.38M408.2 115.6h0.38M407.6 118.4h0.38M404.1 101.2h0.38M401.2 96.0h0.38M413.2 112.0h0.38M413.8 117.6h0.38M414.8 106.2h0.38M410.6 105.9h0.38M403.5 126.2h0.38M407.1 127.6h0.38M403.0 103.5h0.38M414.6 113.7h0.38M414.8 111.1h0.38M402.3 103.7h0.38M401.9 113.4h0.38M406.1 117.1h0.38M408.5 118.9h0.38M408.7 108.0h0.38M414.3 120.0h0.38M419.1 110.9h0.38M405.1 97.6h0.38M411.3 123.5h0.38M416.1 113.3h0.38M412.2 113.0h0.38M413.2 118.3h0.38M405.7 113.1h0.38M412.0 114.4h0.38M424.6 103.0h0.38M412.1 109.2h0.38M412.9 131.6h0.38M412.6 112.6h0.38M401.1 91.2h0.38M419.0 103.3h0.38M405.8 126.8h0.38M420.4 103.7h0.38M418.7 108.9h0.38M411.5 96.9h0.38M403.2 118.1h0.38M416.0 106.4h0.38M415.4 113.7h0.38M415.5 100.6h0.38M396.7 114.6h0.38M409.7 104.9h0.38M406.2 92.7h0.38M422.4 113.0h0.38M399.8 120.1h0.38M414.3 112.7h0.38M408.2 118.6h0.38M404.1 97.1h0.38M402.4 94.3h0.38M412.9 117.4h0.38M401.6 122.3h0.38M414.2 103.2h0.38M408.8 93.6h0.38M401.3 110.1h0.38M415.8 97.0h0.38M410.2 114.1h0.38M406.8 94.3h0.38M413.5 130.1h0.38M409.6 106.0h0.38M414.0 124.1h0.38M407.2 107.9h0.38M412.7 108.2h0.38M416.1 91.1h0.38M415.7 122.7h0.38M397.9 105.2h0.38M404.2 115.6h0.38M410.6 131.3h0.38M404.3 131.9h0.38M420.8 116.5h0.38M418.3 113.9h0.38M414.1 109.3h0.38M404.7 106.4h0.38M419.1 119.6h0.38M399.6 112.7h0.38M412.7 113.3h0.38" stroke="#909090" stroke-width="0.38" fill="none" stroke-linecap="square"/>
<line x1="398.50" y1="86.90" x2="398.50" y2="137.80" stroke="#000" stroke-width="0.6" />
<line x1="373.40" y1="123.40" x2="426.60" y2="123.40" stroke="#000" stroke-width="0.6" />
<text x="399.0" y="82.7" font-size="5.5" text-anchor="middle" font-weight="bold" fill="#111" stroke="#111" stroke-width="0.247" >50 nM</text>
<text x="415.2" y="93.60000000000001" font-size="4.35" text-anchor="middle" font-weight="bold" fill="#111" stroke="#111" stroke-width="0.196" >48.8%</text>
<text x="417.2" y="134.3" font-size="4.35" text-anchor="middle" font-weight="bold" fill="#111" stroke="#111" stroke-width="0.196" >19.2%</text>
<line x1="373.70" y1="137.80" x2="373.70" y2="139.20" stroke="#222" stroke-width="0.55" />
<text x="372.8" y="142.70000000000002" font-size="2.9" text-anchor="middle" font-weight="bold" fill="#2a2a2a" stroke="#2a2a2a" stroke-width="0.120" >10</text>
<text x="375.59999999999997" y="141.3" font-size="2.0" text-anchor="middle" font-weight="bold" fill="#2a2a2a" stroke="#2a2a2a" stroke-width="0.100" >0</text>
<line x1="372.00" y1="137.50" x2="373.40" y2="137.50" stroke="#222" stroke-width="0.55" />
<text x="371.2" y="138.4" font-size="2.9" text-anchor="middle" font-weight="bold" fill="#2a2a2a" stroke="#2a2a2a" stroke-width="0.120" transform="rotate(-90 371.2 138.4)" >10</text>
<text x="369.79999999999995" y="135.6" font-size="2.0" text-anchor="middle" font-weight="bold" fill="#2a2a2a" stroke="#2a2a2a" stroke-width="0.100" transform="rotate(-90 369.79999999999995 135.6)" >0</text>
<line x1="386.85" y1="137.80" x2="386.85" y2="139.20" stroke="#222" stroke-width="0.55" />
<text x="385.95000000000005" y="142.70000000000002" font-size="2.9" text-anchor="middle" font-weight="bold" fill="#2a2a2a" stroke="#2a2a2a" stroke-width="0.120" >10</text>
<text x="388.75" y="141.3" font-size="2.0" text-anchor="middle" font-weight="bold" fill="#2a2a2a" stroke="#2a2a2a" stroke-width="0.100" >1</text>
<line x1="372.00" y1="124.92" x2="373.40" y2="124.92" stroke="#222" stroke-width="0.55" />
<text x="371.2" y="125.825" font-size="2.9" text-anchor="middle" font-weight="bold" fill="#2a2a2a" stroke="#2a2a2a" stroke-width="0.120" transform="rotate(-90 371.2 125.825)" >10</text>
<text x="369.79999999999995" y="123.02499999999999" font-size="2.0" text-anchor="middle" font-weight="bold" fill="#2a2a2a" stroke="#2a2a2a" stroke-width="0.100" transform="rotate(-90 369.79999999999995 123.02499999999999)" >1</text>
<line x1="400.00" y1="137.80" x2="400.00" y2="139.20" stroke="#222" stroke-width="0.55" />
<text x="399.1" y="142.70000000000002" font-size="2.9" text-anchor="middle" font-weight="bold" fill="#2a2a2a" stroke="#2a2a2a" stroke-width="0.120" >10</text>
<text x="401.9" y="141.3" font-size="2.0" text-anchor="middle" font-weight="bold" fill="#2a2a2a" stroke="#2a2a2a" stroke-width="0.100" >2</text>
<line x1="372.00" y1="112.35" x2="373.40" y2="112.35" stroke="#222" stroke-width="0.55" />
<text x="371.2" y="113.25" font-size="2.9" text-anchor="middle" font-weight="bold" fill="#2a2a2a" stroke="#2a2a2a" stroke-width="0.120" transform="rotate(-90 371.2 113.25)" >10</text>
<text x="369.79999999999995" y="110.44999999999999" font-size="2.0" text-anchor="middle" font-weight="bold" fill="#2a2a2a" stroke="#2a2a2a" stroke-width="0.100" transform="rotate(-90 369.79999999999995 110.44999999999999)" >2</text>
<line x1="413.15" y1="137.80" x2="413.15" y2="139.20" stroke="#222" stroke-width="0.55" />
<text x="412.25000000000006" y="142.70000000000002" font-size="2.9" text-anchor="middle" font-weight="bold" fill="#2a2a2a" stroke="#2a2a2a" stroke-width="0.120" >10</text>
<text x="415.05" y="141.3" font-size="2.0" text-anchor="middle" font-weight="bold" fill="#2a2a2a" stroke="#2a2a2a" stroke-width="0.100" >3</text>
<line x1="372.00" y1="99.78" x2="373.40" y2="99.78" stroke="#222" stroke-width="0.55" />
<text x="371.2" y="100.67500000000001" font-size="2.9" text-anchor="middle" font-weight="bold" fill="#2a2a2a" stroke="#2a2a2a" stroke-width="0.120" transform="rotate(-90 371.2 100.67500000000001)" >10</text>
<text x="369.79999999999995" y="97.875" font-size="2.0" text-anchor="middle" font-weight="bold" fill="#2a2a2a" stroke="#2a2a2a" stroke-width="0.100" transform="rotate(-90 369.79999999999995 97.875)" >3</text>
<line x1="426.30" y1="137.80" x2="426.30" y2="139.20" stroke="#222" stroke-width="0.55" />
<text x="425.40000000000003" y="142.70000000000002" font-size="2.9" text-anchor="middle" font-weight="bold" fill="#2a2a2a" stroke="#2a2a2a" stroke-width="0.120" >10</text>
<text x="428.2" y="141.3" font-size="2.0" text-anchor="middle" font-weight="bold" fill="#2a2a2a" stroke="#2a2a2a" stroke-width="0.100" >4</text>
<line x1="372.00" y1="87.20" x2="373.40" y2="87.20" stroke="#222" stroke-width="0.55" />
<text x="371.2" y="88.1" font-size="2.9" text-anchor="middle" font-weight="bold" fill="#2a2a2a" stroke="#2a2a2a" stroke-width="0.120" transform="rotate(-90 371.2 88.1)" >10</text>
<text x="369.79999999999995" y="85.29999999999998" font-size="2.0" text-anchor="middle" font-weight="bold" fill="#2a2a2a" stroke="#2a2a2a" stroke-width="0.100" transform="rotate(-90 369.79999999999995 85.29999999999998)" >4</text>
<line x1="377.66" y1="137.80" x2="377.66" y2="138.50" stroke="#333" stroke-width="0.3" />
<line x1="372.70" y1="133.71" x2="373.40" y2="133.71" stroke="#333" stroke-width="0.3" />
<line x1="379.97" y1="137.80" x2="379.97" y2="138.50" stroke="#333" stroke-width="0.3" />
<line x1="372.70" y1="131.50" x2="373.40" y2="131.50" stroke="#333" stroke-width="0.3" />
<line x1="381.62" y1="137.80" x2="381.62" y2="138.50" stroke="#333" stroke-width="0.3" />
<line x1="372.70" y1="129.93" x2="373.40" y2="129.93" stroke="#333" stroke-width="0.3" />
<line x1="382.89" y1="137.80" x2="382.89" y2="138.50" stroke="#333" stroke-width="0.3" />
<line x1="372.70" y1="128.71" x2="373.40" y2="128.71" stroke="#333" stroke-width="0.3" />
<line x1="383.93" y1="137.80" x2="383.93" y2="138.50" stroke="#333" stroke-width="0.3" />
<line x1="372.70" y1="127.71" x2="373.40" y2="127.71" stroke="#333" stroke-width="0.3" />
<line x1="384.81" y1="137.80" x2="384.81" y2="138.50" stroke="#333" stroke-width="0.3" />
<line x1="372.70" y1="126.87" x2="373.40" y2="126.87" stroke="#333" stroke-width="0.3" />
<line x1="385.58" y1="137.80" x2="385.58" y2="138.50" stroke="#333" stroke-width="0.3" />
<line x1="372.70" y1="126.14" x2="373.40" y2="126.14" stroke="#333" stroke-width="0.3" />
<line x1="386.25" y1="137.80" x2="386.25" y2="138.50" stroke="#333" stroke-width="0.3" />
<line x1="372.70" y1="125.50" x2="373.40" y2="125.50" stroke="#333" stroke-width="0.3" />
<line x1="390.81" y1="137.80" x2="390.81" y2="138.50" stroke="#333" stroke-width="0.3" />
<line x1="372.70" y1="121.14" x2="373.40" y2="121.14" stroke="#333" stroke-width="0.3" />
<line x1="393.12" y1="137.80" x2="393.12" y2="138.50" stroke="#333" stroke-width="0.3" />
<line x1="372.70" y1="118.93" x2="373.40" y2="118.93" stroke="#333" stroke-width="0.3" />
<line x1="394.77" y1="137.80" x2="394.77" y2="138.50" stroke="#333" stroke-width="0.3" />
<line x1="372.70" y1="117.35" x2="373.40" y2="117.35" stroke="#333" stroke-width="0.3" />
<line x1="396.04" y1="137.80" x2="396.04" y2="138.50" stroke="#333" stroke-width="0.3" />
<line x1="372.70" y1="116.14" x2="373.40" y2="116.14" stroke="#333" stroke-width="0.3" />
<line x1="397.08" y1="137.80" x2="397.08" y2="138.50" stroke="#333" stroke-width="0.3" />
<line x1="372.70" y1="115.14" x2="373.40" y2="115.14" stroke="#333" stroke-width="0.3" />
<line x1="397.96" y1="137.80" x2="397.96" y2="138.50" stroke="#333" stroke-width="0.3" />
<line x1="372.70" y1="114.30" x2="373.40" y2="114.30" stroke="#333" stroke-width="0.3" />
<line x1="398.73" y1="137.80" x2="398.73" y2="138.50" stroke="#333" stroke-width="0.3" />
<line x1="372.70" y1="113.57" x2="373.40" y2="113.57" stroke="#333" stroke-width="0.3" />
<line x1="399.40" y1="137.80" x2="399.40" y2="138.50" stroke="#333" stroke-width="0.3" />
<line x1="372.70" y1="112.93" x2="373.40" y2="112.93" stroke="#333" stroke-width="0.3" />
<line x1="403.96" y1="137.80" x2="403.96" y2="138.50" stroke="#333" stroke-width="0.3" />
<line x1="372.70" y1="108.56" x2="373.40" y2="108.56" stroke="#333" stroke-width="0.3" />
<line x1="406.27" y1="137.80" x2="406.27" y2="138.50" stroke="#333" stroke-width="0.3" />
<line x1="372.70" y1="106.35" x2="373.40" y2="106.35" stroke="#333" stroke-width="0.3" />
<line x1="407.92" y1="137.80" x2="407.92" y2="138.50" stroke="#333" stroke-width="0.3" />
<line x1="372.70" y1="104.78" x2="373.40" y2="104.78" stroke="#333" stroke-width="0.3" />
<line x1="409.19" y1="137.80" x2="409.19" y2="138.50" stroke="#333" stroke-width="0.3" />
<line x1="372.70" y1="103.56" x2="373.40" y2="103.56" stroke="#333" stroke-width="0.3" />
<line x1="410.23" y1="137.80" x2="410.23" y2="138.50" stroke="#333" stroke-width="0.3" />
<line x1="372.70" y1="102.56" x2="373.40" y2="102.56" stroke="#333" stroke-width="0.3" />
<line x1="411.11" y1="137.80" x2="411.11" y2="138.50" stroke="#333" stroke-width="0.3" />
<line x1="372.70" y1="101.72" x2="373.40" y2="101.72" stroke="#333" stroke-width="0.3" />
<line x1="411.88" y1="137.80" x2="411.88" y2="138.50" stroke="#333" stroke-width="0.3" />
<line x1="372.70" y1="100.99" x2="373.40" y2="100.99" stroke="#333" stroke-width="0.3" />
<line x1="412.55" y1="137.80" x2="412.55" y2="138.50" stroke="#333" stroke-width="0.3" />
<line x1="372.70" y1="100.35" x2="373.40" y2="100.35" stroke="#333" stroke-width="0.3" />
<line x1="417.11" y1="137.80" x2="417.11" y2="138.50" stroke="#333" stroke-width="0.3" />
<line x1="372.70" y1="95.99" x2="373.40" y2="95.99" stroke="#333" stroke-width="0.3" />
<line x1="419.42" y1="137.80" x2="419.42" y2="138.50" stroke="#333" stroke-width="0.3" />
<line x1="372.70" y1="93.78" x2="373.40" y2="93.78" stroke="#333" stroke-width="0.3" />
<line x1="421.07" y1="137.80" x2="421.07" y2="138.50" stroke="#333" stroke-width="0.3" />
<line x1="372.70" y1="92.20" x2="373.40" y2="92.20" stroke="#333" stroke-width="0.3" />
<line x1="422.34" y1="137.80" x2="422.34" y2="138.50" stroke="#333" stroke-width="0.3" />
<line x1="372.70" y1="90.99" x2="373.40" y2="90.99" stroke="#333" stroke-width="0.3" />
<line x1="423.38" y1="137.80" x2="423.38" y2="138.50" stroke="#333" stroke-width="0.3" />
<line x1="372.70" y1="89.99" x2="373.40" y2="89.99" stroke="#333" stroke-width="0.3" />
<line x1="424.26" y1="137.80" x2="424.26" y2="138.50" stroke="#333" stroke-width="0.3" />
<line x1="372.70" y1="89.15" x2="373.40" y2="89.15" stroke="#333" stroke-width="0.3" />
<line x1="425.03" y1="137.80" x2="425.03" y2="138.50" stroke="#333" stroke-width="0.3" />
<line x1="372.70" y1="88.42" x2="373.40" y2="88.42" stroke="#333" stroke-width="0.3" />
<line x1="425.70" y1="137.80" x2="425.70" y2="138.50" stroke="#333" stroke-width="0.3" />
<line x1="372.70" y1="87.78" x2="373.40" y2="87.78" stroke="#333" stroke-width="0.3" />
<text x="400.0" y="145.4" font-size="3.0" text-anchor="middle" font-weight="bold" fill="#1a1a1a" stroke="#1a1a1a" stroke-width="0.160" textLength="22" lengthAdjust="spacingAndGlyphs" >Annexin-V-FITC</text>
<text x="367.2" y="112.85000000000001" font-size="2.4" text-anchor="middle" font-weight="bold" fill="#1a1a1a" stroke="#1a1a1a" stroke-width="0.160" transform="rotate(-90 367.2 112.85000000000001)" >PI</text>
<path d="M374.4 136.9h0.4M375.1 136.9h0.4M376.1 136.9h0.4M378.9 136.9h0.4M379.8 136.9h0.4M381.5 136.9h0.4M382.4 136.9h0.4M383.4 136.9h0.4M384.3 136.9h0.4M386.8 136.9h0.4M388.0 136.9h0.4M388.9 136.9h0.4M391.5 136.9h0.4M392.5 136.9h0.4M393.3 136.9h0.4M396.0 136.9h0.4M396.9 136.9h0.4M398.6 136.9h0.4M399.7 136.9h0.4M400.4 136.9h0.4M403.9 136.9h0.4M404.8 136.9h0.4M405.8 136.9h0.4M406.9 136.9h0.4M407.5 136.9h0.4M408.6 136.9h0.4M409.4 136.9h0.4M410.3 136.9h0.4M412.0 136.9h0.4M413.0 136.9h0.4M413.9 136.9h0.4M418.3 136.9h0.4M420.2 136.9h0.4M421.1 136.9h0.4" stroke="#555" stroke-width="0.4" fill="none"/>
<rect x="438.8" y="86.9" width="53.19999999999999" height="50.900000000000006" fill="#fff" stroke="#222" stroke-width="0.7"/>
<path d="M459.7 131.0h0.4M448.0 134.0h0.4M446.4 127.3h0.4M459.0 129.3h0.4M444.0 134.1h0.4M446.8 129.7h0.4M456.4 129.5h0.4M459.8 132.2h0.4M463.6 127.4h0.4M455.9 126.7h0.4M446.2 130.3h0.4M455.9 133.3h0.4M456.4 127.2h0.4M464.5 129.9h0.4M443.0 129.4h0.4M454.2 128.9h0.4M460.6 127.9h0.4M444.6 134.3h0.4M442.5 132.7h0.4M442.1 130.4h0.4M464.9 127.5h0.4M445.1 130.9h0.4M449.7 126.2h0.4M458.9 132.5h0.4M450.1 134.8h0.4M454.9 132.7h0.4M451.9 132.9h0.4M439.2 128.1h0.4M445.6 127.1h0.4M452.5 127.5h0.4M442.9 132.4h0.4M455.1 135.3h0.4M464.7 127.6h0.4M466.3 133.2h0.4M452.6 132.1h0.4M447.2 128.6h0.4M456.1 134.2h0.4M443.5 129.7h0.4M442.3 130.2h0.4M453.9 125.8h0.4M448.4 125.1h0.4M442.2 131.3h0.4M454.2 131.3h0.4M441.9 131.8h0.4M450.0 133.9h0.4M455.0 132.4h0.4M447.6 128.4h0.4M449.9 131.8h0.4M458.6 128.9h0.4M447.4 129.4h0.4M455.0 129.9h0.4M451.2 129.5h0.4M445.9 130.0h0.4M459.2 129.5h0.4M452.9 129.9h0.4M450.7 131.1h0.4M451.6 133.3h0.4M445.2 130.0h0.4M449.3 133.7h0.4M447.6 130.9h0.4M442.9 130.1h0.4M441.7 128.3h0.4M447.4 131.1h0.4M455.3 130.0h0.4M449.6 133.4h0.4M447.9 131.6h0.4M455.8 128.5h0.4M442.8 129.3h0.4M457.1 132.8h0.4M457.9 133.3h0.4M450.3 124.7h0.4M455.2 130.0h0.4M442.0 131.6h0.4M440.2 135.6h0.4M458.3 131.7h0.4M447.6 125.1h0.4M452.4 127.4h0.4M449.8 127.0h0.4M463.4 134.7h0.4M460.3 125.2h0.4M453.1 135.7h0.4M460.0 131.3h0.4M449.3 133.9h0.4M445.4 133.0h0.4M441.2 132.5h0.4M448.9 128.5h0.4M453.6 132.6h0.4M448.6 133.3h0.4M440.1 130.4h0.4M457.4 130.2h0.4" stroke="#888" stroke-width="0.4" fill="none" stroke-linecap="square"/>
<path d="M473.4 114.4h0.4M480.8 106.9h0.4M480.3 108.6h0.4M471.3 103.0h0.4M478.4 106.2h0.4M476.8 106.8h0.4M475.2 117.6h0.4M474.5 100.2h0.4M476.7 103.8h0.4M475.5 115.3h0.4M467.5 104.0h0.4M471.5 120.2h0.4M470.5 98.8h0.4M472.2 104.4h0.4M465.5 100.2h0.4M478.5 107.1h0.4M473.6 111.4h0.4M475.6 96.8h0.4M479.2 114.4h0.4M475.9 104.8h0.4M480.5 107.6h0.4M478.7 100.7h0.4M470.5 106.2h0.4M466.3 100.4h0.4M469.1 100.0h0.4M466.3 109.5h0.4M475.4 98.5h0.4M473.7 111.9h0.4M480.7 105.2h0.4M479.4 110.1h0.4M469.7 110.6h0.4M472.9 120.9h0.4M467.0 107.9h0.4M474.3 120.7h0.4M469.7 104.1h0.4M465.6 113.0h0.4M470.0 103.3h0.4M471.8 112.2h0.4M474.2 113.8h0.4M474.7 109.2h0.4M474.1 107.7h0.4M473.8 103.9h0.4M477.8 103.2h0.4M474.1 115.0h0.4M473.1 117.0h0.4M471.6 121.0h0.4M476.2 107.1h0.4M479.5 99.5h0.4M474.3 116.2h0.4M471.6 112.7h0.4M474.0 114.9h0.4M470.0 95.9h0.4M474.6 115.3h0.4M467.0 100.8h0.4M466.5 108.2h0.4M478.6 103.3h0.4M465.6 116.5h0.4M470.3 102.5h0.4M475.8 97.4h0.4M468.7 105.4h0.4M474.5 113.1h0.4M481.5 107.1h0.4M477.9 96.6h0.4M481.7 104.5h0.4M477.7 110.2h0.4M476.6 105.0h0.4M480.2 98.1h0.4M476.5 110.2h0.4M474.1 96.7h0.4M479.9 108.1h0.4M477.9 119.0h0.4M474.1 106.3h0.4M474.3 107.1h0.4M482.1 98.6h0.4M474.7 106.0h0.4M477.8 104.5h0.4M470.6 97.1h0.4M472.9 105.3h0.4M475.0 117.5h0.4M477.7 111.1h0.4M478.7 103.6h0.4M478.3 114.6h0.4M470.5 116.2h0.4M469.6 116.1h0.4M476.0 102.7h0.4M470.4 104.4h0.4M481.4 117.0h0.4M471.6 114.3h0.4M484.4 112.7h0.4M481.1 105.2h0.4M479.0 113.8h0.4M470.1 108.0h0.4M475.3 110.3h0.4M478.0 98.8h0.4M474.7 95.4h0.4M470.5 111.5h0.4M472.8 115.9h0.4M468.1 111.5h0.4M473.7 112.9h0.4M475.8 107.4h0.4M475.0 107.7h0.4M471.2 109.5h0.4M475.7 105.1h0.4M476.7 106.2h0.4M476.7 100.9h0.4M475.0 115.8h0.4M474.3 107.5h0.4M479.1 114.0h0.4M474.7 118.1h0.4M472.0 113.3h0.4M474.0 113.4h0.4M477.5 103.8h0.4M466.6 113.3h0.4M467.5 110.2h0.4M471.0 105.2h0.4M473.7 96.8h0.4M464.0 122.8h0.4M481.7 113.7h0.4M473.6 96.0h0.4M467.9 108.4h0.4M480.8 109.3h0.4M477.7 101.3h0.4M474.4 96.0h0.4M467.6 106.4h0.4M472.7 106.8h0.4M467.8 104.9h0.4M477.2 113.0h0.4M475.1 105.5h0.4M477.3 101.7h0.4M470.6 114.5h0.4M471.7 104.0h0.4M477.3 112.4h0.4M485.3 92.4h0.4M473.5 96.2h0.4M471.2 92.6h0.4M476.0 109.7h0.4M475.3 105.4h0.4M470.6 105.5h0.4M479.9 101.8h0.4M475.0 109.0h0.4M469.6 108.0h0.4M469.4 108.3h0.4M478.5 108.9h0.4M476.5 101.6h0.4M475.8 110.5h0.4M482.6 101.3h0.4M471.7 109.9h0.4M468.9 116.9h0.4M483.5 97.4h0.4M478.7 98.4h0.4M482.2 117.4h0.4M478.2 116.2h0.4M474.1 108.0h0.4M473.0 102.1h0.4M476.8 103.7h0.4M472.6 100.2h0.4M478.1 108.1h0.4M472.2 117.4h0.4M476.1 90.7h0.4M476.3 110.5h0.4M472.2 110.8h0.4M476.7 117.4h0.4M480.0 106.8h0.4M477.2 110.9h0.4M473.6 113.8h0.4M481.2 102.3h0.4M463.3 115.3h0.4M474.7 110.9h0.4M470.1 97.7h0.4M474.0 98.5h0.4M474.2 100.5h0.4M481.3 102.9h0.4M476.4 98.5h0.4M478.9 102.7h0.4M479.1 104.3h0.4M478.3 104.7h0.4M469.4 105.6h0.4M467.1 102.5h0.4M476.3 103.0h0.4M473.4 98.5h0.4M473.1 108.4h0.4M485.4 95.5h0.4M473.9 97.8h0.4M478.0 109.5h0.4M473.9 109.0h0.4M472.0 111.1h0.4M473.4 107.8h0.4M481.8 118.8h0.4M471.9 104.8h0.4M471.0 108.5h0.4M472.2 106.9h0.4M474.5 90.7h0.4M467.4 94.1h0.4M476.9 98.8h0.4M468.4 105.1h0.4M473.7 108.5h0.4M467.4 110.2h0.4M474.3 104.8h0.4M475.4 104.6h0.4M472.2 106.0h0.4M473.9 111.2h0.4M469.8 99.4h0.4M478.5 101.1h0.4M475.9 107.2h0.4M476.7 108.3h0.4M476.4 111.6h0.4M479.6 117.2h0.4M471.8 112.5h0.4M475.4 102.3h0.4M473.6 106.5h0.4M465.2 108.0h0.4M471.5 104.1h0.4M471.5 100.5h0.4M468.8 106.6h0.4M472.7 92.6h0.4M485.4 104.0h0.4M477.2 96.9h0.4M475.6 102.2h0.4M477.4 118.9h0.4M474.0 107.0h0.4M474.7 102.9h0.4M473.5 121.7h0.4M477.7 118.3h0.4M474.0 118.5h0.4M470.8 112.4h0.4M472.1 96.6h0.4M476.5 116.3h0.4M476.4 110.9h0.4M475.2 102.6h0.4M473.0 108.2h0.4M472.5 104.4h0.4M467.3 121.0h0.4M470.1 109.2h0.4M478.0 107.6h0.4M479.4 112.3h0.4M476.3 110.0h0.4M479.1 115.2h0.4M472.8 101.9h0.4M473.5 111.5h0.4M469.6 103.9h0.4M476.4 109.4h0.4M472.4 102.6h0.4M473.5 102.9h0.4M476.1 108.0h0.4M478.1 99.9h0.4M478.7 107.3h0.4M472.8 103.0h0.4M475.0 105.9h0.4M469.4 105.1h0.4M479.5 125.1h0.4M472.7 105.5h0.4M474.8 104.9h0.4M471.5 94.8h0.4M474.2 105.4h0.4M482.1 111.5h0.4M476.7 102.1h0.4M481.7 101.1h0.4M481.6 115.3h0.4M478.5 107.0h0.4M475.5 111.0h0.4M473.5 106.5h0.4M477.6 105.5h0.4M473.2 100.7h0.4M479.5 102.2h0.4M467.7 106.8h0.4M470.5 103.7h0.4M478.3 117.3h0.4M471.6 101.0h0.4M479.5 105.9h0.4M474.7 102.4h0.4M471.0 113.9h0.4M474.0 129.2h0.4M480.8 105.9h0.4M474.2 101.2h0.4M476.0 93.1h0.4M469.6 108.7h0.4M473.0 102.3h0.4M477.4 107.7h0.4M468.9 105.0h0.4M476.8 102.3h0.4M477.0 112.7h0.4M476.5 111.0h0.4M468.4 107.2h0.4M476.8 109.1h0.4M469.8 108.0h0.4M477.6 115.4h0.4M464.9 99.6h0.4M480.5 103.8h0.4M479.1 110.9h0.4M474.3 111.9h0.4M480.5 111.3h0.4M472.9 102.0h0.4M476.4 127.6h0.4M468.7 103.1h0.4M475.1 122.7h0.4M473.8 98.5h0.4M478.2 111.2h0.4M477.6 107.2h0.4M475.2 103.3h0.4M475.9 112.5h0.4M477.3 105.7h0.4M470.3 110.7h0.4M480.0 109.0h0.4M478.1 109.0h0.4M468.5 127.4h0.4M471.5 108.7h0.4M473.1 111.5h0.4M476.7 111.5h0.4M473.4 100.6h0.4M475.0 108.4h0.4M475.6 100.9h0.4M473.7 119.6h0.4M480.0 104.8h0.4M482.0 112.0h0.4M474.9 105.2h0.4M472.9 119.0h0.4M472.2 107.1h0.4M477.7 106.1h0.4M477.5 116.0h0.4M481.4 105.6h0.4M475.6 106.7h0.4M476.2 116.3h0.4M476.8 105.6h0.4M471.7 97.6h0.4M483.7 109.2h0.4M473.2 112.6h0.4M476.2 98.3h0.4M473.8 104.8h0.4M473.1 103.8h0.4M478.0 96.0h0.4M471.2 98.6h0.4M482.6 104.6h0.4M474.0 100.2h0.4M475.9 107.3h0.4M464.0 94.6h0.4M472.1 108.1h0.4M477.3 107.0h0.4M472.3 111.3h0.4M473.8 120.4h0.4M486.4 106.4h0.4M477.0 116.4h0.4M477.2 113.0h0.4M471.1 106.5h0.4M475.4 101.8h0.4M477.1 95.5h0.4M473.6 104.5h0.4M480.3 115.0h0.4M477.8 105.2h0.4M471.3 96.6h0.4M476.3 103.8h0.4M475.2 108.9h0.4M473.4 100.5h0.4M474.0 102.6h0.4M472.6 102.4h0.4M469.6 109.9h0.4M477.4 105.1h0.4M475.1 104.4h0.4M477.7 115.9h0.4M481.8 113.0h0.4M477.1 103.4h0.4M473.2 97.0h0.4M479.7 105.4h0.4M469.0 116.8h0.4M473.8 121.5h0.4M472.0 111.8h0.4M478.4 96.7h0.4M477.3 115.6h0.4M479.0 106.0h0.4M469.1 103.0h0.4M474.0 99.9h0.4M472.9 109.4h0.4M472.2 102.2h0.4M475.1 104.5h0.4M474.9 102.5h0.4M480.1 97.2h0.4M473.6 108.9h0.4M475.5 111.0h0.4M482.3 104.9h0.4M475.3 106.6h0.4M470.5 103.8h0.4" stroke="#666" stroke-width="0.4" fill="none" stroke-linecap="square"/>
<path d="M464.2 100.6h0.42M472.6 100.7h0.42M475.8 101.0h0.42M469.3 101.3h0.42M471.7 101.8h0.42M470.5 102.4h0.42M471.3 102.0h0.42M472.7 101.4h0.42M475.1 100.6h0.42M469.5 101.4h0.42M472.1 101.2h0.42M471.8 100.9h0.42M470.4 102.3h0.42M465.5 101.6h0.42M465.9 100.5h0.42M474.5 101.5h0.42M470.8 102.3h0.42M469.8 101.4h0.42M472.5 101.5h0.42M476.9 101.7h0.42M476.7 100.9h0.42M473.3 102.5h0.42M468.2 101.2h0.42M472.5 100.5h0.42M471.1 101.5h0.42M472.0 103.5h0.42M465.1 101.4h0.42M468.4 101.2h0.42M468.6 102.1h0.42M469.8 102.3h0.42M475.4 101.4h0.42M474.9 102.0h0.42M462.9 100.8h0.42M477.4 99.7h0.42M468.4 101.5h0.42M472.7 100.8h0.42M470.5 101.4h0.42M474.0 99.7h0.42M473.8 100.9h0.42M474.7 99.9h0.42M467.3 100.9h0.42M473.0 100.1h0.42M480.1 100.4h0.42M468.2 102.1h0.42M463.7 102.1h0.42M474.0 100.4h0.42M469.1 101.8h0.42M468.5 99.9h0.42M468.0 100.4h0.42M471.3 101.1h0.42M465.4 101.4h0.42M470.6 99.4h0.42M472.9 103.5h0.42M477.0 100.9h0.42M472.6 100.6h0.42M472.6 101.8h0.42M463.2 100.8h0.42M466.0 103.1h0.42M472.1 100.9h0.42M485.3 101.8h0.42M464.6 101.2h0.42M473.7 100.5h0.42M479.5 101.4h0.42M475.2 100.8h0.42M471.2 101.1h0.42M476.6 100.7h0.42M477.5 101.0h0.42M469.9 101.7h0.42M463.5 101.0h0.42M466.6 100.9h0.42M471.9 101.8h0.42M471.8 102.0h0.42M462.1 101.6h0.42M471.1 101.9h0.42M471.0 98.8h0.42M471.8 102.0h0.42M470.3 101.4h0.42M475.7 101.9h0.42M471.6 101.9h0.42M473.1 100.1h0.42M466.1 100.6h0.42M471.1 98.9h0.42M473.4 101.1h0.42M471.4 101.0h0.42M473.8 101.7h0.42M473.1 101.6h0.42M472.3 103.0h0.42M472.6 100.1h0.42M465.2 100.7h0.42M470.2 101.0h0.42M468.9 101.4h0.42M460.7 101.7h0.42M472.7 102.0h0.42M466.4 100.5h0.42M470.1 102.1h0.42M462.3 101.2h0.42M479.5 101.8h0.42M463.2 100.4h0.42M467.0 102.1h0.42M474.3 101.3h0.42" stroke="#333" stroke-width="0.42" fill="none" stroke-linecap="square"/>
<path d="M448.3 100.6h0.4M442.3 100.8h0.4M447.1 101.1h0.4M458.8 101.4h0.4M459.3 101.7h0.4M447.9 101.9h0.4M449.6 101.7h0.4M459.9 101.0h0.4M450.0 103.0h0.4M446.2 100.9h0.4M454.8 100.3h0.4M462.6 100.5h0.4M450.5 100.8h0.4M446.4 98.3h0.4M452.8 101.2h0.4M451.9 101.6h0.4M444.6 99.3h0.4M448.0 99.9h0.4M441.1 101.0h0.4M440.0 100.9h0.4M456.4 102.6h0.4M450.2 101.2h0.4M461.7 102.5h0.4M449.1 99.0h0.4M461.7 101.1h0.4M445.5 100.7h0.4M443.2 102.1h0.4M445.4 103.3h0.4M444.8 101.1h0.4M441.1 101.3h0.4M458.6 99.6h0.4M450.7 100.6h0.4M455.6 101.5h0.4M459.2 102.2h0.4M459.0 102.1h0.4M452.3 100.2h0.4M456.6 100.7h0.4M446.5 101.6h0.4M458.3 102.7h0.4M454.8 102.0h0.4M449.2 103.4h0.4M456.9 101.4h0.4M453.1 104.7h0.4M441.1 100.5h0.4M462.3 101.5h0.4M452.3 104.9h0.4M452.4 101.4h0.4M461.9 101.2h0.4M452.9 102.9h0.4M448.2 103.5h0.4M449.6 101.8h0.4M456.8 100.8h0.4M457.0 103.2h0.4M458.5 102.7h0.4M448.7 101.7h0.4M462.3 101.0h0.4M466.1 102.4h0.4M444.0 99.7h0.4M452.6 100.8h0.4M450.3 102.2h0.4M458.4 98.8h0.4M442.7 100.7h0.4M460.4 101.3h0.4M446.7 101.9h0.4M455.6 101.4h0.4M457.0 103.7h0.4M456.6 101.6h0.4M446.9 101.3h0.4M450.8 101.7h0.4M450.7 101.1h0.4M451.2 102.0h0.4M450.4 100.7h0.4M450.3 101.4h0.4M446.1 101.1h0.4M455.8 101.1h0.4M448.0 103.8h0.4M459.5 102.0h0.4M446.2 101.6h0.4M456.0 102.7h0.4M453.0 101.5h0.4M450.5 102.6h0.4M451.4 103.4h0.4M443.7 102.3h0.4M442.7 100.5h0.4M460.2 100.9h0.4M448.9 100.1h0.4M463.8 102.5h0.4M450.0 101.4h0.4M451.6 100.1h0.4M458.9 101.1h0.4" stroke="#999" stroke-width="0.4" fill="none" stroke-linecap="square"/>
<path d="M463.1 129.8h0.42M479.4 125.9h0.42M468.0 129.8h0.42M471.7 121.1h0.42M465.7 129.9h0.42M467.2 126.8h0.42M473.3 131.3h0.42M475.6 128.9h0.42M474.9 134.7h0.42M470.7 125.9h0.42M477.8 131.8h0.42M472.4 123.5h0.42M471.2 123.9h0.42M480.4 129.7h0.42M474.4 127.0h0.42M462.9 135.2h0.42M480.7 127.5h0.42M474.0 126.8h0.42M478.4 123.9h0.42M475.6 135.8h0.42M476.4 121.3h0.42M474.1 127.6h0.42M476.4 134.0h0.42M474.4 131.4h0.42M474.6 122.1h0.42M468.8 130.6h0.42M467.6 117.6h0.42M469.6 126.2h0.42M472.7 130.7h0.42M467.0 124.9h0.42M473.8 134.2h0.42M467.9 125.7h0.42M467.9 127.9h0.42M478.1 128.9h0.42M467.6 122.3h0.42M478.9 127.6h0.42M477.2 134.4h0.42M462.6 133.1h0.42M474.3 128.0h0.42M473.9 128.9h0.42M470.1 124.9h0.42M469.7 126.3h0.42M470.8 127.6h0.42M474.5 134.0h0.42M472.8 130.2h0.42M464.9 120.4h0.42M481.0 125.7h0.42M472.4 128.1h0.42M475.8 132.3h0.42M464.1 127.2h0.42M478.7 129.4h0.42M479.3 131.1h0.42M476.9 130.7h0.42M474.3 118.4h0.42M474.8 122.7h0.42M470.6 133.3h0.42M467.4 127.4h0.42M468.5 126.4h0.42M467.0 132.6h0.42M465.1 120.9h0.42M479.7 125.7h0.42M476.6 131.1h0.42M464.6 128.6h0.42M475.0 127.3h0.42M481.6 129.0h0.42M476.5 128.0h0.42M468.9 126.5h0.42M467.7 131.8h0.42M469.0 121.5h0.42M469.0 131.6h0.42M460.0 131.6h0.42M462.5 127.7h0.42M473.6 128.3h0.42M472.8 126.8h0.42M466.2 128.6h0.42M477.7 130.7h0.42M471.0 125.5h0.42M468.1 127.6h0.42M474.5 130.7h0.42M478.5 126.7h0.42M464.6 126.9h0.42M476.4 123.5h0.42M467.9 131.0h0.42M471.8 129.6h0.42M474.1 127.8h0.42M466.4 133.4h0.42M468.8 135.7h0.42M475.0 128.8h0.42M466.4 130.1h0.42M475.1 121.3h0.42M473.7 126.5h0.42M473.9 128.4h0.42M468.4 129.2h0.42M475.5 128.9h0.42M484.4 128.1h0.42M472.4 127.6h0.42M470.1 127.1h0.42M471.2 134.0h0.42M473.6 131.6h0.42M476.5 128.6h0.42M471.8 130.1h0.42M476.3 130.6h0.42M481.7 132.5h0.42M472.3 131.8h0.42M480.1 131.0h0.42M473.2 129.8h0.42M465.7 134.1h0.42M476.9 126.6h0.42M471.0 127.8h0.42M478.7 125.1h0.42" stroke="#555" stroke-width="0.42" fill="none" stroke-linecap="square"/>
<path d="M474.2 125.6h0.4M476.5 120.8h0.4M472.8 122.3h0.4M474.0 122.3h0.4M474.0 116.9h0.4M479.3 121.8h0.4M469.5 117.9h0.4M472.4 112.8h0.4M475.5 120.7h0.4M474.1 107.9h0.4M468.7 117.7h0.4M473.7 128.2h0.4M469.4 109.0h0.4M470.4 120.8h0.4M472.8 110.0h0.4M474.2 112.0h0.4M474.8 111.7h0.4M471.8 115.7h0.4M467.1 121.9h0.4M476.5 116.6h0.4M468.3 114.1h0.4M471.6 109.0h0.4M473.0 109.3h0.4M476.9 121.2h0.4M473.9 116.5h0.4M463.2 115.4h0.4M467.4 117.8h0.4M473.2 115.0h0.4M462.6 111.5h0.4M472.1 112.5h0.4M478.9 111.8h0.4M481.1 112.0h0.4M470.1 113.2h0.4M470.6 115.2h0.4M475.3 113.9h0.4M477.6 115.7h0.4M468.9 118.5h0.4M472.0 122.3h0.4M481.6 119.4h0.4M480.4 122.2h0.4M478.4 109.2h0.4M474.0 112.8h0.4M472.7 115.3h0.4M473.8 107.2h0.4M475.1 121.2h0.4M479.0 120.0h0.4M473.5 114.3h0.4M467.8 109.3h0.4M477.8 125.8h0.4M473.9 116.9h0.4M479.8 120.2h0.4M476.8 125.3h0.4M472.5 116.8h0.4M475.4 111.9h0.4M474.2 116.3h0.4M472.6 121.3h0.4M468.7 116.2h0.4M474.3 116.2h0.4M477.2 112.6h0.4M472.6 105.5h0.4M468.5 111.4h0.4M474.5 119.4h0.4M462.3 114.8h0.4M476.9 115.3h0.4M471.8 112.9h0.4M471.9 119.1h0.4M477.9 115.9h0.4M472.3 116.5h0.4M475.0 114.3h0.4M475.4 112.7h0.4" stroke="#888" stroke-width="0.4" fill="none" stroke-linecap="square"/>
<path d="M476.1 114.9h0.38M467.7 131.9h0.38M472.8 118.9h0.38M475.8 104.8h0.38M477.0 109.7h0.38M477.9 94.7h0.38M478.0 99.4h0.38M482.5 121.4h0.38M470.5 106.4h0.38M476.4 105.7h0.38M470.5 122.0h0.38M489.4 93.6h0.38M479.2 106.9h0.38M470.1 117.8h0.38M473.8 113.0h0.38M467.5 129.2h0.38M468.0 126.5h0.38M481.1 104.4h0.38M489.0 98.3h0.38M483.3 112.8h0.38M480.5 109.5h0.38M473.9 116.4h0.38M481.2 103.3h0.38M469.8 104.6h0.38M481.3 104.7h0.38M470.3 108.6h0.38M468.6 134.7h0.38M472.1 102.7h0.38M482.6 119.6h0.38M482.0 115.1h0.38M477.3 121.7h0.38M476.7 119.0h0.38M473.4 113.9h0.38M475.9 127.9h0.38M484.5 123.5h0.38M472.8 115.6h0.38M476.8 102.4h0.38M475.8 112.3h0.38M481.6 133.2h0.38M470.1 112.4h0.38M474.0 109.7h0.38M482.4 128.2h0.38M472.7 105.6h0.38M479.0 105.7h0.38M466.9 117.8h0.38M478.7 105.5h0.38M479.8 111.2h0.38M475.3 124.0h0.38M469.7 107.3h0.38M466.6 115.5h0.38M475.9 122.7h0.38M470.8 93.2h0.38M475.9 121.4h0.38M471.7 113.5h0.38M463.0 110.2h0.38M477.1 130.8h0.38M480.9 104.6h0.38M474.4 116.0h0.38M465.9 106.1h0.38M472.9 117.2h0.38M477.5 106.8h0.38M467.4 105.4h0.38M471.4 111.5h0.38M471.9 106.7h0.38M471.2 96.4h0.38M479.0 95.7h0.38M479.1 117.6h0.38M472.1 99.6h0.38M480.6 105.3h0.38M478.0 113.5h0.38M482.5 115.7h0.38M475.3 114.5h0.38M477.7 110.0h0.38M470.5 126.1h0.38M474.4 105.6h0.38M481.8 109.4h0.38M478.5 102.6h0.38M467.7 92.1h0.38M482.6 116.7h0.38M463.9 97.9h0.38M472.6 107.4h0.38M480.5 121.7h0.38M478.6 120.0h0.38M479.4 110.4h0.38M478.3 126.3h0.38M464.0 111.5h0.38M471.7 126.9h0.38M460.8 128.4h0.38M479.2 108.8h0.38M471.7 120.2h0.38M468.8 114.5h0.38M474.9 106.7h0.38M469.9 97.0h0.38M472.3 116.2h0.38M475.9 125.7h0.38M478.8 116.7h0.38M473.3 126.5h0.38M475.7 99.5h0.38M479.1 119.5h0.38M465.8 116.7h0.38M476.1 120.0h0.38M479.4 119.8h0.38M473.3 100.4h0.38M474.7 116.7h0.38M474.7 129.0h0.38M477.8 106.8h0.38M486.3 112.3h0.38M483.9 116.0h0.38M470.3 111.8h0.38M475.1 111.1h0.38M476.0 92.8h0.38M480.4 113.9h0.38M477.9 106.4h0.38M482.1 126.3h0.38M477.0 117.0h0.38M478.8 112.3h0.38M469.4 134.4h0.38M476.1 105.7h0.38M470.5 119.6h0.38M477.0 114.9h0.38M477.7 119.9h0.38M490.5 118.3h0.38M482.1 110.1h0.38M469.6 117.1h0.38M478.9 103.1h0.38M488.1 99.9h0.38M474.8 125.0h0.38M480.5 109.7h0.38M482.5 111.4h0.38M474.8 108.1h0.38M469.6 120.9h0.38M470.3 119.8h0.38M476.8 103.5h0.38M473.3 96.5h0.38M476.8 103.4h0.38M472.1 123.2h0.38M470.1 115.7h0.38M467.5 105.2h0.38M478.4 117.4h0.38M480.7 120.6h0.38M479.4 134.2h0.38M477.6 122.5h0.38M476.5 103.9h0.38M479.5 115.5h0.38M474.6 103.1h0.38M479.0 110.0h0.38M473.9 123.0h0.38M473.7 119.2h0.38M481.2 119.2h0.38M476.0 102.4h0.38" stroke="#909090" stroke-width="0.38" fill="none" stroke-linecap="square"/>
<line x1="464.80" y1="86.90" x2="464.80" y2="137.80" stroke="#000" stroke-width="0.6" />
<line x1="438.80" y1="123.20" x2="492.00" y2="123.20" stroke="#000" stroke-width="0.6" />
<text x="466.8" y="82.7" font-size="5.5" text-anchor="middle" font-weight="bold" fill="#111" stroke="#111" stroke-width="0.247" >100 nM</text>
<text x="481.5" y="93.60000000000001" font-size="4.35" text-anchor="middle" font-weight="bold" fill="#111" stroke="#111" stroke-width="0.196" >60.4%</text>
<text x="481.5" y="134.3" font-size="4.35" text-anchor="middle" font-weight="bold" fill="#111" stroke="#111" stroke-width="0.196" >15.7%</text>
<line x1="439.10" y1="137.80" x2="439.10" y2="139.20" stroke="#222" stroke-width="0.55" />
<text x="438.20000000000005" y="142.70000000000002" font-size="2.9" text-anchor="middle" font-weight="bold" fill="#2a2a2a" stroke="#2a2a2a" stroke-width="0.120" >10</text>
<text x="441.0" y="141.3" font-size="2.0" text-anchor="middle" font-weight="bold" fill="#2a2a2a" stroke="#2a2a2a" stroke-width="0.100" >0</text>
<line x1="437.40" y1="137.50" x2="438.80" y2="137.50" stroke="#222" stroke-width="0.55" />
<text x="436.6" y="138.4" font-size="2.9" text-anchor="middle" font-weight="bold" fill="#2a2a2a" stroke="#2a2a2a" stroke-width="0.120" transform="rotate(-90 436.6 138.4)" >10</text>
<text x="435.2" y="135.6" font-size="2.0" text-anchor="middle" font-weight="bold" fill="#2a2a2a" stroke="#2a2a2a" stroke-width="0.100" transform="rotate(-90 435.2 135.6)" >0</text>
<line x1="452.25" y1="137.80" x2="452.25" y2="139.20" stroke="#222" stroke-width="0.55" />
<text x="451.35" y="142.70000000000002" font-size="2.9" text-anchor="middle" font-weight="bold" fill="#2a2a2a" stroke="#2a2a2a" stroke-width="0.120" >10</text>
<text x="454.15" y="141.3" font-size="2.0" text-anchor="middle" font-weight="bold" fill="#2a2a2a" stroke="#2a2a2a" stroke-width="0.100" >1</text>
<line x1="437.40" y1="124.92" x2="438.80" y2="124.92" stroke="#222" stroke-width="0.55" />
<text x="436.6" y="125.825" font-size="2.9" text-anchor="middle" font-weight="bold" fill="#2a2a2a" stroke="#2a2a2a" stroke-width="0.120" transform="rotate(-90 436.6 125.825)" >10</text>
<text x="435.2" y="123.02499999999999" font-size="2.0" text-anchor="middle" font-weight="bold" fill="#2a2a2a" stroke="#2a2a2a" stroke-width="0.100" transform="rotate(-90 435.2 123.02499999999999)" >1</text>
<line x1="465.40" y1="137.80" x2="465.40" y2="139.20" stroke="#222" stroke-width="0.55" />
<text x="464.50000000000006" y="142.70000000000002" font-size="2.9" text-anchor="middle" font-weight="bold" fill="#2a2a2a" stroke="#2a2a2a" stroke-width="0.120" >10</text>
<text x="467.3" y="141.3" font-size="2.0" text-anchor="middle" font-weight="bold" fill="#2a2a2a" stroke="#2a2a2a" stroke-width="0.100" >2</text>
<line x1="437.40" y1="112.35" x2="438.80" y2="112.35" stroke="#222" stroke-width="0.55" />
<text x="436.6" y="113.25" font-size="2.9" text-anchor="middle" font-weight="bold" fill="#2a2a2a" stroke="#2a2a2a" stroke-width="0.120" transform="rotate(-90 436.6 113.25)" >10</text>
<text x="435.2" y="110.44999999999999" font-size="2.0" text-anchor="middle" font-weight="bold" fill="#2a2a2a" stroke="#2a2a2a" stroke-width="0.100" transform="rotate(-90 435.2 110.44999999999999)" >2</text>
<line x1="478.55" y1="137.80" x2="478.55" y2="139.20" stroke="#222" stroke-width="0.55" />
<text x="477.65000000000003" y="142.70000000000002" font-size="2.9" text-anchor="middle" font-weight="bold" fill="#2a2a2a" stroke="#2a2a2a" stroke-width="0.120" >10</text>
<text x="480.45" y="141.3" font-size="2.0" text-anchor="middle" font-weight="bold" fill="#2a2a2a" stroke="#2a2a2a" stroke-width="0.100" >3</text>
<line x1="437.40" y1="99.78" x2="438.80" y2="99.78" stroke="#222" stroke-width="0.55" />
<text x="436.6" y="100.67500000000001" font-size="2.9" text-anchor="middle" font-weight="bold" fill="#2a2a2a" stroke="#2a2a2a" stroke-width="0.120" transform="rotate(-90 436.6 100.67500000000001)" >10</text>
<text x="435.2" y="97.875" font-size="2.0" text-anchor="middle" font-weight="bold" fill="#2a2a2a" stroke="#2a2a2a" stroke-width="0.100" transform="rotate(-90 435.2 97.875)" >3</text>
<line x1="491.70" y1="137.80" x2="491.70" y2="139.20" stroke="#222" stroke-width="0.55" />
<text x="490.8" y="142.70000000000002" font-size="2.9" text-anchor="middle" font-weight="bold" fill="#2a2a2a" stroke="#2a2a2a" stroke-width="0.120" >10</text>
<text x="493.59999999999997" y="141.3" font-size="2.0" text-anchor="middle" font-weight="bold" fill="#2a2a2a" stroke="#2a2a2a" stroke-width="0.100" >4</text>
<line x1="437.40" y1="87.20" x2="438.80" y2="87.20" stroke="#222" stroke-width="0.55" />
<text x="436.6" y="88.1" font-size="2.9" text-anchor="middle" font-weight="bold" fill="#2a2a2a" stroke="#2a2a2a" stroke-width="0.120" transform="rotate(-90 436.6 88.1)" >10</text>
<text x="435.2" y="85.29999999999998" font-size="2.0" text-anchor="middle" font-weight="bold" fill="#2a2a2a" stroke="#2a2a2a" stroke-width="0.100" transform="rotate(-90 435.2 85.29999999999998)" >4</text>
<line x1="443.06" y1="137.80" x2="443.06" y2="138.50" stroke="#333" stroke-width="0.3" />
<line x1="438.10" y1="133.71" x2="438.80" y2="133.71" stroke="#333" stroke-width="0.3" />
<line x1="445.37" y1="137.80" x2="445.37" y2="138.50" stroke="#333" stroke-width="0.3" />
<line x1="438.10" y1="131.50" x2="438.80" y2="131.50" stroke="#333" stroke-width="0.3" />
<line x1="447.02" y1="137.80" x2="447.02" y2="138.50" stroke="#333" stroke-width="0.3" />
<line x1="438.10" y1="129.93" x2="438.80" y2="129.93" stroke="#333" stroke-width="0.3" />
<line x1="448.29" y1="137.80" x2="448.29" y2="138.50" stroke="#333" stroke-width="0.3" />
<line x1="438.10" y1="128.71" x2="438.80" y2="128.71" stroke="#333" stroke-width="0.3" />
<line x1="449.33" y1="137.80" x2="449.33" y2="138.50" stroke="#333" stroke-width="0.3" />
<line x1="438.10" y1="127.71" x2="438.80" y2="127.71" stroke="#333" stroke-width="0.3" />
<line x1="450.21" y1="137.80" x2="450.21" y2="138.50" stroke="#333" stroke-width="0.3" />
<line x1="438.10" y1="126.87" x2="438.80" y2="126.87" stroke="#333" stroke-width="0.3" />
<line x1="450.98" y1="137.80" x2="450.98" y2="138.50" stroke="#333" stroke-width="0.3" />
<line x1="438.10" y1="126.14" x2="438.80" y2="126.14" stroke="#333" stroke-width="0.3" />
<line x1="451.65" y1="137.80" x2="451.65" y2="138.50" stroke="#333" stroke-width="0.3" />
<line x1="438.10" y1="125.50" x2="438.80" y2="125.50" stroke="#333" stroke-width="0.3" />
<line x1="456.21" y1="137.80" x2="456.21" y2="138.50" stroke="#333" stroke-width="0.3" />
<line x1="438.10" y1="121.14" x2="438.80" y2="121.14" stroke="#333" stroke-width="0.3" />
<line x1="458.52" y1="137.80" x2="458.52" y2="138.50" stroke="#333" stroke-width="0.3" />
<line x1="438.10" y1="118.93" x2="438.80" y2="118.93" stroke="#333" stroke-width="0.3" />
<line x1="460.17" y1="137.80" x2="460.17" y2="138.50" stroke="#333" stroke-width="0.3" />
<line x1="438.10" y1="117.35" x2="438.80" y2="117.35" stroke="#333" stroke-width="0.3" />
<line x1="461.44" y1="137.80" x2="461.44" y2="138.50" stroke="#333" stroke-width="0.3" />
<line x1="438.10" y1="116.14" x2="438.80" y2="116.14" stroke="#333" stroke-width="0.3" />
<line x1="462.48" y1="137.80" x2="462.48" y2="138.50" stroke="#333" stroke-width="0.3" />
<line x1="438.10" y1="115.14" x2="438.80" y2="115.14" stroke="#333" stroke-width="0.3" />
<line x1="463.36" y1="137.80" x2="463.36" y2="138.50" stroke="#333" stroke-width="0.3" />
<line x1="438.10" y1="114.30" x2="438.80" y2="114.30" stroke="#333" stroke-width="0.3" />
<line x1="464.13" y1="137.80" x2="464.13" y2="138.50" stroke="#333" stroke-width="0.3" />
<line x1="438.10" y1="113.57" x2="438.80" y2="113.57" stroke="#333" stroke-width="0.3" />
<line x1="464.80" y1="137.80" x2="464.80" y2="138.50" stroke="#333" stroke-width="0.3" />
<line x1="438.10" y1="112.93" x2="438.80" y2="112.93" stroke="#333" stroke-width="0.3" />
<line x1="469.36" y1="137.80" x2="469.36" y2="138.50" stroke="#333" stroke-width="0.3" />
<line x1="438.10" y1="108.56" x2="438.80" y2="108.56" stroke="#333" stroke-width="0.3" />
<line x1="471.67" y1="137.80" x2="471.67" y2="138.50" stroke="#333" stroke-width="0.3" />
<line x1="438.10" y1="106.35" x2="438.80" y2="106.35" stroke="#333" stroke-width="0.3" />
<line x1="473.32" y1="137.80" x2="473.32" y2="138.50" stroke="#333" stroke-width="0.3" />
<line x1="438.10" y1="104.78" x2="438.80" y2="104.78" stroke="#333" stroke-width="0.3" />
<line x1="474.59" y1="137.80" x2="474.59" y2="138.50" stroke="#333" stroke-width="0.3" />
<line x1="438.10" y1="103.56" x2="438.80" y2="103.56" stroke="#333" stroke-width="0.3" />
<line x1="475.63" y1="137.80" x2="475.63" y2="138.50" stroke="#333" stroke-width="0.3" />
<line x1="438.10" y1="102.56" x2="438.80" y2="102.56" stroke="#333" stroke-width="0.3" />
<line x1="476.51" y1="137.80" x2="476.51" y2="138.50" stroke="#333" stroke-width="0.3" />
<line x1="438.10" y1="101.72" x2="438.80" y2="101.72" stroke="#333" stroke-width="0.3" />
<line x1="477.28" y1="137.80" x2="477.28" y2="138.50" stroke="#333" stroke-width="0.3" />
<line x1="438.10" y1="100.99" x2="438.80" y2="100.99" stroke="#333" stroke-width="0.3" />
<line x1="477.95" y1="137.80" x2="477.95" y2="138.50" stroke="#333" stroke-width="0.3" />
<line x1="438.10" y1="100.35" x2="438.80" y2="100.35" stroke="#333" stroke-width="0.3" />
<line x1="482.51" y1="137.80" x2="482.51" y2="138.50" stroke="#333" stroke-width="0.3" />
<line x1="438.10" y1="95.99" x2="438.80" y2="95.99" stroke="#333" stroke-width="0.3" />
<line x1="484.82" y1="137.80" x2="484.82" y2="138.50" stroke="#333" stroke-width="0.3" />
<line x1="438.10" y1="93.78" x2="438.80" y2="93.78" stroke="#333" stroke-width="0.3" />
<line x1="486.47" y1="137.80" x2="486.47" y2="138.50" stroke="#333" stroke-width="0.3" />
<line x1="438.10" y1="92.20" x2="438.80" y2="92.20" stroke="#333" stroke-width="0.3" />
<line x1="487.74" y1="137.80" x2="487.74" y2="138.50" stroke="#333" stroke-width="0.3" />
<line x1="438.10" y1="90.99" x2="438.80" y2="90.99" stroke="#333" stroke-width="0.3" />
<line x1="488.78" y1="137.80" x2="488.78" y2="138.50" stroke="#333" stroke-width="0.3" />
<line x1="438.10" y1="89.99" x2="438.80" y2="89.99" stroke="#333" stroke-width="0.3" />
<line x1="489.66" y1="137.80" x2="489.66" y2="138.50" stroke="#333" stroke-width="0.3" />
<line x1="438.10" y1="89.15" x2="438.80" y2="89.15" stroke="#333" stroke-width="0.3" />
<line x1="490.43" y1="137.80" x2="490.43" y2="138.50" stroke="#333" stroke-width="0.3" />
<line x1="438.10" y1="88.42" x2="438.80" y2="88.42" stroke="#333" stroke-width="0.3" />
<line x1="491.10" y1="137.80" x2="491.10" y2="138.50" stroke="#333" stroke-width="0.3" />
<line x1="438.10" y1="87.78" x2="438.80" y2="87.78" stroke="#333" stroke-width="0.3" />
<text x="465.4" y="145.4" font-size="3.0" text-anchor="middle" font-weight="bold" fill="#1a1a1a" stroke="#1a1a1a" stroke-width="0.160" textLength="22" lengthAdjust="spacingAndGlyphs" >Annexin-V-FITC</text>
<text x="432.6" y="112.85000000000001" font-size="2.4" text-anchor="middle" font-weight="bold" fill="#1a1a1a" stroke="#1a1a1a" stroke-width="0.160" transform="rotate(-90 432.6 112.85000000000001)" >PI</text>
<path d="M441.5 136.9h0.4M442.3 136.9h0.4M443.4 136.9h0.4M445.0 136.9h0.4M447.0 136.9h0.4M448.7 136.9h0.4M450.6 136.9h0.4M451.5 136.9h0.4M452.3 136.9h0.4M453.4 136.9h0.4M455.0 136.9h0.4M455.9 136.9h0.4M457.0 136.9h0.4M457.7 136.9h0.4M458.7 136.9h0.4M459.6 136.9h0.4M460.3 136.9h0.4M462.3 136.9h0.4M464.1 136.9h0.4M466.0 136.9h0.4M466.8 136.9h0.4M468.7 136.9h0.4M469.5 136.9h0.4M470.4 136.9h0.4M474.0 136.9h0.4M476.7 136.9h0.4M477.7 136.9h0.4M479.4 136.9h0.4M480.3 136.9h0.4M484.8 136.9h0.4M485.5 136.9h0.4" stroke="#555" stroke-width="0.4" fill="none"/>
<text x="407.6" y="204.9" font-size="6.7" text-anchor="start" font-weight="bold" fill="#111" stroke="#111" stroke-width="0.301" textLength="58.5" lengthAdjust="spacingAndGlyphs" >Cytarabine/G-749</text>
<line x1="375.00" y1="211.10" x2="375.00" y2="325.80" stroke="#111" stroke-width="0.85" />
<line x1="374.60" y1="303.40" x2="518.60" y2="303.40" stroke="#111" stroke-width="0.85" />
<line x1="373.20" y1="303.40" x2="375.00" y2="303.40" stroke="#222" stroke-width="0.6" />
<text x="372.2" y="305.15" font-size="4.9" text-anchor="end" font-weight="bold" fill="#111" stroke="#111" stroke-width="0.221" >0</text>
<line x1="373.20" y1="288.07" x2="375.00" y2="288.07" stroke="#222" stroke-width="0.6" />
<text x="372.2" y="289.81666666666666" font-size="4.9" text-anchor="end" font-weight="bold" fill="#111" stroke="#111" stroke-width="0.221" >20</text>
<line x1="373.20" y1="272.73" x2="375.00" y2="272.73" stroke="#222" stroke-width="0.6" />
<text x="372.2" y="274.48333333333335" font-size="4.9" text-anchor="end" font-weight="bold" fill="#111" stroke="#111" stroke-width="0.221" >40</text>
<line x1="373.20" y1="257.40" x2="375.00" y2="257.40" stroke="#222" stroke-width="0.6" />
<text x="372.2" y="259.15" font-size="4.9" text-anchor="end" font-weight="bold" fill="#111" stroke="#111" stroke-width="0.221" >60</text>
<line x1="373.20" y1="242.07" x2="375.00" y2="242.07" stroke="#222" stroke-width="0.6" />
<text x="372.2" y="243.81666666666666" font-size="4.9" text-anchor="end" font-weight="bold" fill="#111" stroke="#111" stroke-width="0.221" >80</text>
<line x1="373.20" y1="226.73" x2="375.00" y2="226.73" stroke="#222" stroke-width="0.6" />
<text x="372.2" y="228.48333333333335" font-size="4.9" text-anchor="end" font-weight="bold" fill="#111" stroke="#111" stroke-width="0.221" >100</text>
<line x1="373.20" y1="211.40" x2="375.00" y2="211.40" stroke="#222" stroke-width="0.6" />
<text x="372.2" y="213.15" font-size="4.9" text-anchor="end" font-weight="bold" fill="#111" stroke="#111" stroke-width="0.221" >120</text>
<text x="359.2" y="257.6" font-size="5.6" text-anchor="middle" font-weight="bold" fill="#111" stroke="#111" stroke-width="0.252" textLength="56" lengthAdjust="spacingAndGlyphs" transform="rotate(-90 359.2 257.6)" >Viability (% Control)</text>
<line x1="389.33" y1="303.40" x2="389.33" y2="325.80" stroke="#111" stroke-width="0.8" />
<line x1="403.66" y1="303.40" x2="403.66" y2="325.80" stroke="#111" stroke-width="0.8" />
<line x1="417.99" y1="303.40" x2="417.99" y2="325.80" stroke="#111" stroke-width="0.8" />
<line x1="432.32" y1="303.40" x2="432.32" y2="325.80" stroke="#111" stroke-width="0.8" />
<line x1="446.65" y1="303.40" x2="446.65" y2="325.80" stroke="#111" stroke-width="0.8" />
<line x1="460.98" y1="303.40" x2="460.98" y2="325.80" stroke="#111" stroke-width="0.8" />
<line x1="475.31" y1="303.40" x2="475.31" y2="325.80" stroke="#111" stroke-width="0.8" />
<line x1="489.64" y1="303.40" x2="489.64" y2="325.80" stroke="#111" stroke-width="0.8" />
<line x1="503.97" y1="303.40" x2="503.97" y2="325.80" stroke="#111" stroke-width="0.8" />
<line x1="518.30" y1="303.40" x2="518.30" y2="325.80" stroke="#111" stroke-width="0.8" />
<text x="382.16499999999996" y="312.9" font-size="5.1" text-anchor="middle" font-weight="bold" fill="#111" stroke="#111" stroke-width="0.229" >0</text>
<text x="382.16499999999996" y="324.0" font-size="5.1" text-anchor="middle" font-weight="bold" fill="#111" stroke="#111" stroke-width="0.229" >0</text>
<text x="396.495" y="312.9" font-size="5.1" text-anchor="middle" font-weight="bold" fill="#111" stroke="#111" stroke-width="0.229" >31.2</text>
<text x="396.495" y="324.0" font-size="5.1" text-anchor="middle" font-weight="bold" fill="#111" stroke="#111" stroke-width="0.229" >0.31</text>
<text x="410.82500000000005" y="312.9" font-size="5.1" text-anchor="middle" font-weight="bold" fill="#111" stroke="#111" stroke-width="0.229" >62.5</text>
<text x="410.82500000000005" y="324.0" font-size="5.1" text-anchor="middle" font-weight="bold" fill="#111" stroke="#111" stroke-width="0.229" >0.63</text>
<text x="425.155" y="312.9" font-size="5.1" text-anchor="middle" font-weight="bold" fill="#111" stroke="#111" stroke-width="0.229" >125</text>
<text x="425.155" y="324.0" font-size="5.1" text-anchor="middle" font-weight="bold" fill="#111" stroke="#111" stroke-width="0.229" >1.25</text>
<text x="439.485" y="312.9" font-size="5.1" text-anchor="middle" font-weight="bold" fill="#111" stroke="#111" stroke-width="0.229" >250</text>
<text x="439.485" y="324.0" font-size="5.1" text-anchor="middle" font-weight="bold" fill="#111" stroke="#111" stroke-width="0.229" >2.5</text>
<text x="453.815" y="312.9" font-size="5.1" text-anchor="middle" font-weight="bold" fill="#111" stroke="#111" stroke-width="0.229" >500</text>
<text x="453.815" y="324.0" font-size="5.1" text-anchor="middle" font-weight="bold" fill="#111" stroke="#111" stroke-width="0.229" >5</text>
<text x="468.145" y="312.9" font-size="5.1" text-anchor="middle" font-weight="bold" fill="#111" stroke="#111" stroke-width="0.229" textLength="12.6" lengthAdjust="spacingAndGlyphs" >1000</text>
<text x="468.145" y="324.0" font-size="5.1" text-anchor="middle" font-weight="bold" fill="#111" stroke="#111" stroke-width="0.229" >10</text>
<text x="482.475" y="312.9" font-size="5.1" text-anchor="middle" font-weight="bold" fill="#111" stroke="#111" stroke-width="0.229" textLength="12.6" lengthAdjust="spacingAndGlyphs" >2000</text>
<text x="482.475" y="324.0" font-size="5.1" text-anchor="middle" font-weight="bold" fill="#111" stroke="#111" stroke-width="0.229" >20</text>
<text x="496.805" y="312.9" font-size="5.1" text-anchor="middle" font-weight="bold" fill="#111" stroke="#111" stroke-width="0.229" textLength="12.6" lengthAdjust="spacingAndGlyphs" >4000</text>
<text x="496.805" y="324.0" font-size="5.1" text-anchor="middle" font-weight="bold" fill="#111" stroke="#111" stroke-width="0.229" >40</text>
<text x="511.135" y="312.9" font-size="5.1" text-anchor="middle" font-weight="bold" fill="#111" stroke="#111" stroke-width="0.229" textLength="12.6" lengthAdjust="spacingAndGlyphs" >8000</text>
<text x="511.135" y="324.0" font-size="5.1" text-anchor="middle" font-weight="bold" fill="#111" stroke="#111" stroke-width="0.229" >80</text>
<text x="370.8" y="312.8" font-size="4.9" text-anchor="end" font-weight="bold" fill="#111" stroke="#111" stroke-width="0.221" textLength="39.8" lengthAdjust="spacingAndGlyphs" >Cytarabine (nM)</text>
<text x="370.8" y="323.9" font-size="4.9" text-anchor="end" font-weight="bold" fill="#111" stroke="#111" stroke-width="0.221" textLength="26.4" lengthAdjust="spacingAndGlyphs" >G-749 (nM)</text>
<polyline points="382.16,224.43 396.50,229.80 410.83,235.63 425.15,240.53 439.49,242.83 453.81,244.67 468.14,277.33 482.48,294.20 496.81,296.50 511.13,296.50" stroke="#111" stroke-width="1.15" fill="none" stroke-dasharray="2.6 1.4"/>
<line x1="382.16" y1="219.83" x2="382.16" y2="229.03" stroke="#111" stroke-width="0.6" />
<line x1="381.06" y1="219.83" x2="383.26" y2="219.83" stroke="#111" stroke-width="0.6" />
<line x1="381.06" y1="229.03" x2="383.26" y2="229.03" stroke="#111" stroke-width="0.6" />
<line x1="396.50" y1="227.50" x2="396.50" y2="232.10" stroke="#111" stroke-width="0.6" />
<line x1="395.39" y1="227.50" x2="397.60" y2="227.50" stroke="#111" stroke-width="0.6" />
<line x1="395.39" y1="232.10" x2="397.60" y2="232.10" stroke="#111" stroke-width="0.6" />
<line x1="410.83" y1="232.56" x2="410.83" y2="238.69" stroke="#111" stroke-width="0.6" />
<line x1="409.73" y1="232.56" x2="411.93" y2="232.56" stroke="#111" stroke-width="0.6" />
<line x1="409.73" y1="238.69" x2="411.93" y2="238.69" stroke="#111" stroke-width="0.6" />
<line x1="425.15" y1="238.23" x2="425.15" y2="242.83" stroke="#111" stroke-width="0.6" />
<line x1="424.05" y1="238.23" x2="426.25" y2="238.23" stroke="#111" stroke-width="0.6" />
<line x1="424.05" y1="242.83" x2="426.25" y2="242.83" stroke="#111" stroke-width="0.6" />
<line x1="439.49" y1="240.53" x2="439.49" y2="245.13" stroke="#111" stroke-width="0.6" />
<line x1="438.38" y1="240.53" x2="440.59" y2="240.53" stroke="#111" stroke-width="0.6" />
<line x1="438.38" y1="245.13" x2="440.59" y2="245.13" stroke="#111" stroke-width="0.6" />
<line x1="453.81" y1="240.84" x2="453.81" y2="248.51" stroke="#111" stroke-width="0.6" />
<line x1="452.71" y1="240.84" x2="454.92" y2="240.84" stroke="#111" stroke-width="0.6" />
<line x1="452.71" y1="248.51" x2="454.92" y2="248.51" stroke="#111" stroke-width="0.6" />
<line x1="468.14" y1="273.50" x2="468.14" y2="281.17" stroke="#111" stroke-width="0.6" />
<line x1="467.04" y1="273.50" x2="469.25" y2="273.50" stroke="#111" stroke-width="0.6" />
<line x1="467.04" y1="281.17" x2="469.25" y2="281.17" stroke="#111" stroke-width="0.6" />
<line x1="482.48" y1="292.67" x2="482.48" y2="295.73" stroke="#111" stroke-width="0.6" />
<line x1="481.38" y1="292.67" x2="483.58" y2="292.67" stroke="#111" stroke-width="0.6" />
<line x1="481.38" y1="295.73" x2="483.58" y2="295.73" stroke="#111" stroke-width="0.6" />
<line x1="496.81" y1="294.97" x2="496.81" y2="298.03" stroke="#111" stroke-width="0.6" />
<line x1="495.70" y1="294.97" x2="497.91" y2="294.97" stroke="#111" stroke-width="0.6" />
<line x1="495.70" y1="298.03" x2="497.91" y2="298.03" stroke="#111" stroke-width="0.6" />
<line x1="511.13" y1="294.97" x2="511.13" y2="298.03" stroke="#111" stroke-width="0.6" />
<line x1="510.03" y1="294.97" x2="512.24" y2="294.97" stroke="#111" stroke-width="0.6" />
<line x1="510.03" y1="298.03" x2="512.24" y2="298.03" stroke="#111" stroke-width="0.6" />
<polygon points="382.16,222.03 384.56,224.43 382.16,226.83 379.76,224.43" fill="#111"/>
<polygon points="396.50,227.40 398.89,229.80 396.50,232.20 394.10,229.80" fill="#111"/>
<polygon points="410.83,233.23 413.23,235.63 410.83,238.03 408.43,235.63" fill="#111"/>
<polygon points="425.15,238.13 427.55,240.53 425.15,242.93 422.75,240.53" fill="#111"/>
<polygon points="439.49,240.43 441.88,242.83 439.49,245.23 437.09,242.83" fill="#111"/>
<polygon points="453.81,242.27 456.21,244.67 453.81,247.07 451.42,244.67" fill="#111"/>
<polygon points="468.14,274.93 470.54,277.33 468.14,279.73 465.75,277.33" fill="#111"/>
<polygon points="482.48,291.80 484.88,294.20 482.48,296.60 480.08,294.20" fill="#111"/>
<polygon points="496.81,294.10 499.20,296.50 496.81,298.90 494.41,296.50" fill="#111"/>
<polygon points="511.13,294.10 513.53,296.50 511.13,298.90 508.74,296.50" fill="#111"/>
<polyline points="382.16,224.05 396.50,225.20 410.83,227.88 425.15,237.16 439.49,243.60 453.81,257.17 468.14,275.03 482.48,291.90 496.81,298.80 511.13,300.33" stroke="#777" stroke-width="1.15" fill="none" />
<line x1="382.16" y1="220.98" x2="382.16" y2="227.12" stroke="#777" stroke-width="0.6" />
<line x1="381.06" y1="220.98" x2="383.26" y2="220.98" stroke="#777" stroke-width="0.6" />
<line x1="381.06" y1="227.12" x2="383.26" y2="227.12" stroke="#777" stroke-width="0.6" />
<line x1="396.50" y1="221.37" x2="396.50" y2="229.03" stroke="#777" stroke-width="0.6" />
<line x1="395.39" y1="221.37" x2="397.60" y2="221.37" stroke="#777" stroke-width="0.6" />
<line x1="395.39" y1="229.03" x2="397.60" y2="229.03" stroke="#777" stroke-width="0.6" />
<line x1="410.83" y1="225.58" x2="410.83" y2="230.18" stroke="#777" stroke-width="0.6" />
<line x1="409.73" y1="225.58" x2="411.93" y2="225.58" stroke="#777" stroke-width="0.6" />
<line x1="409.73" y1="230.18" x2="411.93" y2="230.18" stroke="#777" stroke-width="0.6" />
<line x1="425.15" y1="234.09" x2="425.15" y2="240.23" stroke="#777" stroke-width="0.6" />
<line x1="424.05" y1="234.09" x2="426.25" y2="234.09" stroke="#777" stroke-width="0.6" />
<line x1="424.05" y1="240.23" x2="426.25" y2="240.23" stroke="#777" stroke-width="0.6" />
<line x1="439.49" y1="241.30" x2="439.49" y2="245.90" stroke="#777" stroke-width="0.6" />
<line x1="438.38" y1="241.30" x2="440.59" y2="241.30" stroke="#777" stroke-width="0.6" />
<line x1="438.38" y1="245.90" x2="440.59" y2="245.90" stroke="#777" stroke-width="0.6" />
<line x1="453.81" y1="249.50" x2="453.81" y2="264.84" stroke="#777" stroke-width="0.6" />
<line x1="452.71" y1="249.50" x2="454.92" y2="249.50" stroke="#777" stroke-width="0.6" />
<line x1="452.71" y1="264.84" x2="454.92" y2="264.84" stroke="#777" stroke-width="0.6" />
<line x1="468.14" y1="268.13" x2="468.14" y2="281.93" stroke="#777" stroke-width="0.6" />
<line x1="467.04" y1="268.13" x2="469.25" y2="268.13" stroke="#777" stroke-width="0.6" />
<line x1="467.04" y1="281.93" x2="469.25" y2="281.93" stroke="#777" stroke-width="0.6" />
<line x1="482.48" y1="289.60" x2="482.48" y2="294.20" stroke="#777" stroke-width="0.6" />
<line x1="481.38" y1="289.60" x2="483.58" y2="289.60" stroke="#777" stroke-width="0.6" />
<line x1="481.38" y1="294.20" x2="483.58" y2="294.20" stroke="#777" stroke-width="0.6" />
<line x1="496.81" y1="297.27" x2="496.81" y2="300.33" stroke="#777" stroke-width="0.6" />
<line x1="495.70" y1="297.27" x2="497.91" y2="297.27" stroke="#777" stroke-width="0.6" />
<line x1="495.70" y1="300.33" x2="497.91" y2="300.33" stroke="#777" stroke-width="0.6" />
<line x1="511.13" y1="298.80" x2="511.13" y2="301.87" stroke="#777" stroke-width="0.6" />
<line x1="510.03" y1="298.80" x2="512.24" y2="298.80" stroke="#777" stroke-width="0.6" />
<line x1="510.03" y1="301.87" x2="512.24" y2="301.87" stroke="#777" stroke-width="0.6" />
<rect x="380.16" y="222.05" width="4.0" height="4.0" fill="#777"/>
<rect x="394.50" y="223.20" width="4.0" height="4.0" fill="#777"/>
<rect x="408.83" y="225.88" width="4.0" height="4.0" fill="#777"/>
<rect x="423.15" y="235.16" width="4.0" height="4.0" fill="#777"/>
<rect x="437.49" y="241.60" width="4.0" height="4.0" fill="#777"/>
<rect x="451.81" y="255.17" width="4.0" height="4.0" fill="#777"/>
<rect x="466.14" y="273.03" width="4.0" height="4.0" fill="#777"/>
<rect x="480.48" y="289.90" width="4.0" height="4.0" fill="#777"/>
<rect x="494.81" y="296.80" width="4.0" height="4.0" fill="#777"/>
<rect x="509.13" y="298.33" width="4.0" height="4.0" fill="#777"/>
<polyline points="382.16,223.67 396.50,232.71 410.83,250.12 425.15,253.03 439.49,261.08 453.81,286.53 468.14,298.03 482.48,302.63 496.81,303.02 511.13,303.02" stroke="#111" stroke-width="1.15" fill="none" />
<line x1="382.16" y1="219.83" x2="382.16" y2="227.50" stroke="#111" stroke-width="0.6" />
<line x1="381.06" y1="219.83" x2="383.26" y2="219.83" stroke="#111" stroke-width="0.6" />
<line x1="381.06" y1="227.50" x2="383.26" y2="227.50" stroke="#111" stroke-width="0.6" />
<line x1="396.50" y1="230.41" x2="396.50" y2="235.01" stroke="#111" stroke-width="0.6" />
<line x1="395.39" y1="230.41" x2="397.60" y2="230.41" stroke="#111" stroke-width="0.6" />
<line x1="395.39" y1="235.01" x2="397.60" y2="235.01" stroke="#111" stroke-width="0.6" />
<line x1="410.83" y1="248.58" x2="410.83" y2="251.65" stroke="#111" stroke-width="0.6" />
<line x1="409.73" y1="248.58" x2="411.93" y2="248.58" stroke="#111" stroke-width="0.6" />
<line x1="409.73" y1="251.65" x2="411.93" y2="251.65" stroke="#111" stroke-width="0.6" />
<line x1="425.15" y1="251.50" x2="425.15" y2="254.56" stroke="#111" stroke-width="0.6" />
<line x1="424.05" y1="251.50" x2="426.25" y2="251.50" stroke="#111" stroke-width="0.6" />
<line x1="424.05" y1="254.56" x2="426.25" y2="254.56" stroke="#111" stroke-width="0.6" />
<line x1="439.49" y1="256.48" x2="439.49" y2="265.68" stroke="#111" stroke-width="0.6" />
<line x1="438.38" y1="256.48" x2="440.59" y2="256.48" stroke="#111" stroke-width="0.6" />
<line x1="438.38" y1="265.68" x2="440.59" y2="265.68" stroke="#111" stroke-width="0.6" />
<line x1="453.81" y1="284.23" x2="453.81" y2="288.83" stroke="#111" stroke-width="0.6" />
<line x1="452.71" y1="284.23" x2="454.92" y2="284.23" stroke="#111" stroke-width="0.6" />
<line x1="452.71" y1="288.83" x2="454.92" y2="288.83" stroke="#111" stroke-width="0.6" />
<line x1="468.14" y1="296.50" x2="468.14" y2="299.57" stroke="#111" stroke-width="0.6" />
<line x1="467.04" y1="296.50" x2="469.25" y2="296.50" stroke="#111" stroke-width="0.6" />
<line x1="467.04" y1="299.57" x2="469.25" y2="299.57" stroke="#111" stroke-width="0.6" />
<line x1="482.48" y1="301.87" x2="482.48" y2="303.40" stroke="#111" stroke-width="0.6" />
<line x1="481.38" y1="301.87" x2="483.58" y2="301.87" stroke="#111" stroke-width="0.6" />
<line x1="481.38" y1="303.40" x2="483.58" y2="303.40" stroke="#111" stroke-width="0.6" />
<line x1="496.81" y1="302.25" x2="496.81" y2="303.78" stroke="#111" stroke-width="0.6" />
<line x1="495.70" y1="302.25" x2="497.91" y2="302.25" stroke="#111" stroke-width="0.6" />
<line x1="495.70" y1="303.78" x2="497.91" y2="303.78" stroke="#111" stroke-width="0.6" />
<line x1="511.13" y1="302.25" x2="511.13" y2="303.78" stroke="#111" stroke-width="0.6" />
<line x1="510.03" y1="302.25" x2="512.24" y2="302.25" stroke="#111" stroke-width="0.6" />
<line x1="510.03" y1="303.78" x2="512.24" y2="303.78" stroke="#111" stroke-width="0.6" />
<polygon points="382.16,220.85 384.75,225.55 379.58,225.55" fill="#111"/>
<polygon points="396.50,229.89 399.08,234.59 393.91,234.59" fill="#111"/>
<polygon points="410.83,247.30 413.41,252.00 408.24,252.00" fill="#111"/>
<polygon points="425.15,250.21 427.74,254.91 422.57,254.91" fill="#111"/>
<polygon points="439.49,258.26 442.07,262.96 436.90,262.96" fill="#111"/>
<polygon points="453.81,283.71 456.40,288.41 451.23,288.41" fill="#111"/>
<polygon points="468.14,295.21 470.73,299.91 465.56,299.91" fill="#111"/>
<polygon points="482.48,299.81 485.06,304.51 479.89,304.51" fill="#111"/>
<polygon points="496.81,300.20 499.39,304.90 494.22,304.90" fill="#111"/>
<polygon points="511.13,300.20 513.72,304.90 508.55,304.90" fill="#111"/>
<line x1="453.80" y1="215.00" x2="466.40" y2="215.00" stroke="#111" stroke-width="1.1" stroke-dasharray="2.6 1.4"/>
<polygon points="460.10,213.20 461.90,215.00 460.10,216.80 458.30,215.00" fill="#111"/>
<line x1="453.80" y1="223.20" x2="466.40" y2="223.20" stroke="#777" stroke-width="1.1" />
<rect x="458.60" y="221.70" width="3.0" height="3.0" fill="#777"/>
<line x1="453.80" y1="230.60" x2="466.40" y2="230.60" stroke="#111" stroke-width="1.1" />
<polygon points="460.10,228.68 461.86,231.88 458.34,231.88" fill="#111"/>
<text x="467.6" y="216.8" font-size="5.1" text-anchor="start" font-weight="bold" fill="#111" stroke="#111" stroke-width="0.229" textLength="27.5" lengthAdjust="spacingAndGlyphs" >Cytarabine</text>
<text x="467.6" y="225.0" font-size="5.1" text-anchor="start" font-weight="bold" fill="#111" stroke="#111" stroke-width="0.229" textLength="14.8" lengthAdjust="spacingAndGlyphs" >G-749</text>
<text x="467.6" y="232.4" font-size="5.1" text-anchor="start" font-weight="bold" fill="#111" stroke="#111" stroke-width="0.229" textLength="47.2" lengthAdjust="spacingAndGlyphs" >Cytarbine + G-749</text>
</g>
</svg>
</body></html>
